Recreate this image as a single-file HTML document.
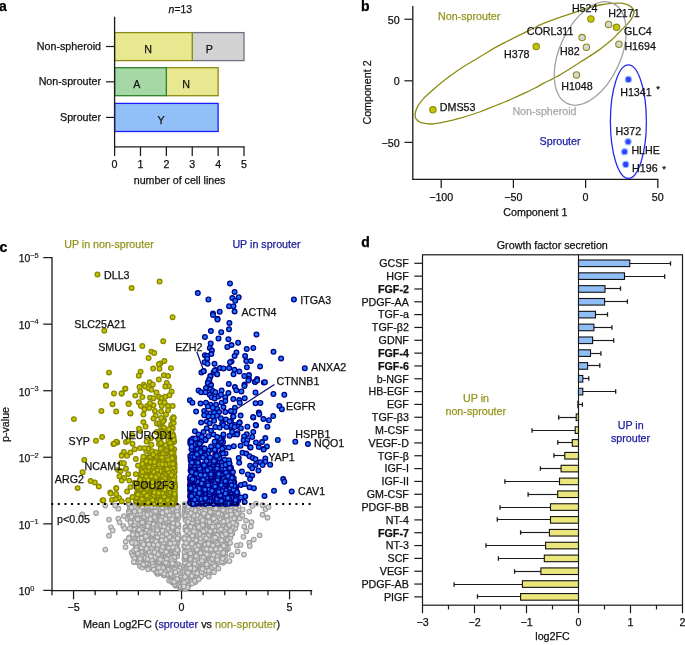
<!DOCTYPE html>
<html><head><meta charset="utf-8"><style>
html,body{margin:0;padding:0;background:#fff;overflow:hidden;}
svg{display:block;font-family:"Liberation Sans",sans-serif;will-change:transform;}
text{stroke-width:0.25px;}
</style></head><body>
<svg width="685" height="645" viewBox="0 0 685 645">
<rect width="685" height="645" fill="#fff"/>
<text x="-1.00" y="10.60" text-anchor="start" font-size="14" fill="#000" stroke="#000" font-weight="bold" >a</text>
<text x="361.00" y="10.60" text-anchor="start" font-size="14" fill="#000" stroke="#000" font-weight="bold" >b</text>
<text x="-0.60" y="252.30" text-anchor="start" font-size="14" fill="#000" stroke="#000" font-weight="bold" >c</text>
<text x="361.20" y="247.40" text-anchor="start" font-size="14" fill="#000" stroke="#000" font-weight="bold" >d</text>
<rect x="192.24" y="32.60" width="51.76" height="28.00" fill="#d3d3d3" stroke="#707084" stroke-width="1.3"/>
<rect x="114.60" y="32.60" width="77.64" height="28.00" fill="#e8e890" stroke="#8c8c14" stroke-width="1.3"/>
<rect x="166.36" y="67.70" width="51.76" height="28.00" fill="#e8e890" stroke="#8c8c14" stroke-width="1.3"/>
<rect x="114.60" y="67.70" width="51.76" height="28.00" fill="#a6d8a6" stroke="#2a802a" stroke-width="1.3"/>
<rect x="114.60" y="103.40" width="103.52" height="28.10" fill="#91bff8" stroke="#1c1cff" stroke-width="1.3"/>
<line x1="114.60" y1="16.70" x2="114.60" y2="147.40" stroke="#1a1a1a" stroke-width="1.3" />
<line x1="114.00" y1="146.80" x2="244.60" y2="146.80" stroke="#1a1a1a" stroke-width="1.3" />
<line x1="114.60" y1="146.80" x2="114.60" y2="156.00" stroke="#1a1a1a" stroke-width="1.25" />
<text x="114.60" y="167.70" text-anchor="middle" font-size="10.7" fill="#111" stroke="#111" font-weight="normal" >0</text>
<line x1="140.48" y1="146.80" x2="140.48" y2="156.00" stroke="#1a1a1a" stroke-width="1.25" />
<text x="140.48" y="167.70" text-anchor="middle" font-size="10.7" fill="#111" stroke="#111" font-weight="normal" >1</text>
<line x1="166.36" y1="146.80" x2="166.36" y2="156.00" stroke="#1a1a1a" stroke-width="1.25" />
<text x="166.36" y="167.70" text-anchor="middle" font-size="10.7" fill="#111" stroke="#111" font-weight="normal" >2</text>
<line x1="192.24" y1="146.80" x2="192.24" y2="156.00" stroke="#1a1a1a" stroke-width="1.25" />
<text x="192.24" y="167.70" text-anchor="middle" font-size="10.7" fill="#111" stroke="#111" font-weight="normal" >3</text>
<line x1="218.12" y1="146.80" x2="218.12" y2="156.00" stroke="#1a1a1a" stroke-width="1.25" />
<text x="218.12" y="167.70" text-anchor="middle" font-size="10.7" fill="#111" stroke="#111" font-weight="normal" >4</text>
<line x1="244.00" y1="146.80" x2="244.00" y2="156.00" stroke="#1a1a1a" stroke-width="1.25" />
<text x="244.00" y="167.70" text-anchor="middle" font-size="10.7" fill="#111" stroke="#111" font-weight="normal" >5</text>
<text x="179.60" y="184.00" text-anchor="middle" font-size="10.65" fill="#111" stroke="#111" font-weight="normal" >number of cell lines</text>
<text x="168.6" y="13.1" font-size="10.4" fill="#111" stroke="#111"><tspan font-style="italic">n</tspan>=13</text>
<line x1="106.00" y1="46.50" x2="114.60" y2="46.50" stroke="#1a1a1a" stroke-width="1.2" />
<text x="101.00" y="49.60" text-anchor="end" font-size="10.7" fill="#111" stroke="#111" font-weight="normal" >Non-spheroid</text>
<line x1="106.00" y1="81.80" x2="114.60" y2="81.80" stroke="#1a1a1a" stroke-width="1.2" />
<text x="101.00" y="84.90" text-anchor="end" font-size="10.7" fill="#111" stroke="#111" font-weight="normal" >Non-sprouter</text>
<line x1="106.00" y1="117.40" x2="114.60" y2="117.40" stroke="#1a1a1a" stroke-width="1.2" />
<text x="101.00" y="120.50" text-anchor="end" font-size="10.7" fill="#111" stroke="#111" font-weight="normal" >Sprouter</text>
<text x="148.00" y="53.30" text-anchor="middle" font-size="10.7" fill="#111" stroke="#111" font-weight="normal" >N</text>
<text x="209.20" y="52.90" text-anchor="middle" font-size="10.7" fill="#111" stroke="#111" font-weight="normal" >P</text>
<text x="136.90" y="87.60" text-anchor="middle" font-size="10.7" fill="#111" stroke="#111" font-weight="normal" >A</text>
<text x="186.00" y="88.00" text-anchor="middle" font-size="10.7" fill="#111" stroke="#111" font-weight="normal" >N</text>
<text x="161.10" y="124.30" text-anchor="middle" font-size="10.7" fill="#111" stroke="#111" font-weight="normal" >Y</text>
<line x1="412.80" y1="6.00" x2="412.80" y2="180.05" stroke="#1a1a1a" stroke-width="1.3" />
<line x1="412.20" y1="179.40" x2="658.40" y2="179.40" stroke="#1a1a1a" stroke-width="1.3" />
<line x1="404.40" y1="19.25" x2="412.80" y2="19.25" stroke="#1a1a1a" stroke-width="1.2" />
<text x="399.60" y="23.75" text-anchor="end" font-size="10.7" fill="#111" stroke="#111" font-weight="normal" >50</text>
<line x1="404.40" y1="80.80" x2="412.80" y2="80.80" stroke="#1a1a1a" stroke-width="1.2" />
<text x="399.60" y="85.30" text-anchor="end" font-size="10.7" fill="#111" stroke="#111" font-weight="normal" >0</text>
<line x1="404.40" y1="142.35" x2="412.80" y2="142.35" stroke="#1a1a1a" stroke-width="1.2" />
<text x="399.60" y="146.85" text-anchor="end" font-size="10.7" fill="#111" stroke="#111" font-weight="normal" >&#8722;50</text>
<line x1="441.20" y1="179.40" x2="441.20" y2="188.00" stroke="#1a1a1a" stroke-width="1.25" />
<text x="441.20" y="201.40" text-anchor="middle" font-size="10.7" fill="#111" stroke="#111" font-weight="normal" >&#8722;100</text>
<line x1="513.40" y1="179.40" x2="513.40" y2="188.00" stroke="#1a1a1a" stroke-width="1.25" />
<text x="513.40" y="201.40" text-anchor="middle" font-size="10.7" fill="#111" stroke="#111" font-weight="normal" >&#8722;50</text>
<line x1="585.60" y1="179.40" x2="585.60" y2="188.00" stroke="#1a1a1a" stroke-width="1.25" />
<text x="585.60" y="201.40" text-anchor="middle" font-size="10.7" fill="#111" stroke="#111" font-weight="normal" >0</text>
<line x1="657.80" y1="179.40" x2="657.80" y2="188.00" stroke="#1a1a1a" stroke-width="1.25" />
<text x="657.80" y="201.40" text-anchor="middle" font-size="10.7" fill="#111" stroke="#111" font-weight="normal" >50</text>
<text x="535.40" y="216.20" text-anchor="middle" font-size="10.7" fill="#111" stroke="#111" font-weight="normal" >Component 1</text>
<text x="371.40" y="92.50" text-anchor="middle" font-size="10.7" fill="#111" stroke="#111" font-weight="normal" transform="rotate(-90 371.4 92.5)">Component 2</text>
<path d="M416.5,119.5C415.5,118.3 415.2,117.1 415.1,115.7C415.0,114.3 415.3,112.7 415.8,111.0C416.3,109.3 416.8,107.7 418.1,105.6C419.4,103.5 421.0,101.3 423.5,98.6C426.0,95.9 430.4,92.1 433.3,89.5C436.2,86.9 437.8,85.4 440.9,82.9C444.0,80.5 448.1,77.4 451.7,74.8C455.3,72.2 459.0,69.5 462.6,67.2C466.2,64.9 469.8,62.9 473.4,60.7C477.0,58.5 480.7,56.4 484.3,54.2C487.9,52.0 491.6,49.6 495.1,47.6C498.6,45.6 501.8,44.0 505.2,42.3C508.6,40.6 512.0,38.9 515.4,37.2C518.8,35.5 522.3,33.8 525.7,32.1C529.1,30.4 532.5,28.6 535.9,27.0C539.3,25.4 542.7,23.8 546.1,22.4C549.5,21.0 552.5,19.9 556.3,18.6C560.1,17.3 565.3,15.6 568.8,14.4C572.3,13.2 574.6,12.4 577.5,11.4C580.4,10.4 583.4,9.2 586.3,8.3C589.2,7.4 592.1,6.8 595.0,6.1C597.9,5.4 600.9,4.9 603.8,4.4C606.7,4.0 609.8,3.6 612.5,3.4C615.2,3.2 618.0,3.1 620.0,3.2C622.0,3.3 623.2,3.4 624.8,3.9C626.4,4.3 628.4,5.1 629.8,5.9C631.1,6.7 632.2,7.8 632.9,8.7C633.6,9.6 633.7,10.3 633.8,11.2C633.9,12.1 633.9,13.1 633.5,14.3C633.1,15.5 632.5,17.1 631.6,18.6C630.7,20.2 629.2,22.1 627.9,23.6C626.6,25.2 625.2,26.2 623.6,27.9C622.0,29.5 620.0,31.5 618.0,33.5C616.0,35.5 615.1,36.9 611.8,39.7C608.5,42.5 603.1,47.0 598.4,50.4C593.7,53.8 588.7,56.8 583.8,59.9C578.9,63.0 573.2,66.7 569.2,69.2C565.2,71.7 562.8,73.3 560.0,74.9C557.2,76.5 555.2,77.4 552.5,78.8C549.8,80.2 546.7,81.7 543.8,83.2C540.9,84.7 537.9,86.5 535.0,88.0C532.1,89.5 529.2,91.0 526.3,92.4C523.4,93.8 520.4,95.0 517.5,96.3C514.6,97.6 511.5,99.1 508.8,100.3C506.1,101.5 504.2,102.1 501.3,103.3C498.4,104.5 494.5,106.0 491.1,107.4C487.7,108.8 484.3,110.2 480.9,111.5C477.5,112.8 474.1,113.9 470.7,115.0C467.3,116.1 463.8,117.1 460.4,118.1C457.0,119.0 453.6,119.9 450.2,120.7C446.8,121.5 443.1,122.4 440.0,122.9C436.9,123.5 434.4,124.0 431.3,124.0C428.2,124.0 423.7,123.3 421.2,122.6C418.7,121.8 417.5,120.7 416.5,119.5Z" fill="none" stroke="#8c8c14" stroke-width="1.3"/>
<ellipse cx="590.2" cy="53.5" rx="55" ry="30.6" fill="none" stroke="#a0a0a0" stroke-width="1.3" transform="rotate(-65.7 590.2 53.5)"/>
<ellipse cx="628.4" cy="121.6" rx="18" ry="56.8" fill="none" stroke="#2a2aee" stroke-width="1.3"/>
<circle cx="432.9" cy="109.8" r="3.2" fill="#c4c400" stroke="#8c8c14" stroke-width="1.1"/>
<circle cx="536.2" cy="46.6" r="3.2" fill="#c4c400" stroke="#8c8c14" stroke-width="1.1"/>
<circle cx="590.9" cy="18.9" r="3.2" fill="#c4c400" stroke="#8c8c14" stroke-width="1.1"/>
<circle cx="616.5" cy="27.3" r="3.2" fill="#c4c400" stroke="#8c8c14" stroke-width="1.1"/>
<circle cx="608.6" cy="24.4" r="3.2" fill="#d6d6da" stroke="#8c8c14" stroke-width="1.1"/>
<circle cx="582.1" cy="37.6" r="3.2" fill="#d6d6da" stroke="#8c8c14" stroke-width="1.1"/>
<circle cx="586.4" cy="47.2" r="3.2" fill="#d6d6da" stroke="#8c8c14" stroke-width="1.1"/>
<circle cx="618.9" cy="44.2" r="3.2" fill="#d6d6da" stroke="#8c8c14" stroke-width="1.1"/>
<circle cx="576.5" cy="74.9" r="3.2" fill="#d6d6da" stroke="#8c8c14" stroke-width="1.1"/>
<circle cx="628.4" cy="79.4" r="3.1" fill="#3c3cff" stroke="#86bfff" stroke-width="1.1"/>
<circle cx="628.1" cy="141.7" r="3.1" fill="#3c3cff" stroke="#86bfff" stroke-width="1.1"/>
<circle cx="624.6" cy="151.7" r="3.1" fill="#3c3cff" stroke="#86bfff" stroke-width="1.1"/>
<circle cx="625.7" cy="164.4" r="3.1" fill="#3c3cff" stroke="#86bfff" stroke-width="1.1"/>
<text x="439.80" y="111.00" text-anchor="start" font-size="10.7" fill="#111" stroke="#111" font-weight="normal" >DMS53</text>
<text x="504.00" y="58.40" text-anchor="start" font-size="10.7" fill="#111" stroke="#111" font-weight="normal" >H378</text>
<text x="571.90" y="11.80" text-anchor="start" font-size="10.7" fill="#111" stroke="#111" font-weight="normal" >H524</text>
<text x="608.20" y="17.30" text-anchor="start" font-size="10.7" fill="#111" stroke="#111" font-weight="normal" >H2171</text>
<text x="623.90" y="34.70" text-anchor="start" font-size="10.7" fill="#111" stroke="#111" font-weight="normal" >GLC4</text>
<text x="526.70" y="35.00" text-anchor="start" font-size="10.7" fill="#111" stroke="#111" font-weight="normal" >CORL311</text>
<text x="560.10" y="54.60" text-anchor="start" font-size="10.7" fill="#111" stroke="#111" font-weight="normal" >H82</text>
<text x="624.40" y="50.40" text-anchor="start" font-size="10.7" fill="#111" stroke="#111" font-weight="normal" >H1694</text>
<text x="561.20" y="90.00" text-anchor="start" font-size="10.7" fill="#111" stroke="#111" font-weight="normal" >H1048</text>
<text x="620.20" y="95.90" text-anchor="start" font-size="10.7" fill="#111" stroke="#111" font-weight="normal" >H1341</text>
<text x="615.60" y="135.00" text-anchor="start" font-size="10.7" fill="#111" stroke="#111" font-weight="normal" >H372</text>
<text x="631.40" y="154.00" text-anchor="start" font-size="10.7" fill="#111" stroke="#111" font-weight="normal" >HLHE</text>
<text x="632.10" y="172.40" text-anchor="start" font-size="10.7" fill="#111" stroke="#111" font-weight="normal" >H196</text>
<text x="656.20" y="92.00" text-anchor="start" font-size="9.5" fill="#111" stroke="#111" font-weight="normal" >*</text>
<text x="662.20" y="172.00" text-anchor="start" font-size="9.5" fill="#111" stroke="#111" font-weight="normal" >*</text>
<text x="438.00" y="20.00" text-anchor="start" font-size="10.7" fill="#95951e" stroke="#95951e" font-weight="normal" >Non-sprouter</text>
<text x="512.40" y="114.80" text-anchor="start" font-size="10.7" fill="#a8a8a8" stroke="#a8a8a8" font-weight="normal" >Non-spheroid</text>
<text x="539.60" y="145.30" text-anchor="start" font-size="10.7" fill="#2020a0" stroke="#2020a0" font-weight="normal" >Sprouter</text>
<line x1="52.00" y1="257.00" x2="52.00" y2="591.30" stroke="#1a1a1a" stroke-width="1.3" />
<line x1="51.40" y1="590.70" x2="312.20" y2="590.70" stroke="#1a1a1a" stroke-width="1.3" />
<line x1="43.20" y1="590.40" x2="52.00" y2="590.40" stroke="#1a1a1a" stroke-width="1.25" />
<text x="30.2" y="595.20" text-anchor="end" font-size="10.4" fill="#111" stroke="#111">10</text>
<text x="30.2" y="590.70" font-size="7.4" fill="#111" stroke="#111" style="stroke-width:0.15px">0</text>
<line x1="43.20" y1="523.84" x2="52.00" y2="523.84" stroke="#1a1a1a" stroke-width="1.25" />
<text x="30.2" y="528.64" text-anchor="end" font-size="10.4" fill="#111" stroke="#111">10</text>
<text x="30.2" y="524.14" font-size="7.4" fill="#111" stroke="#111" style="stroke-width:0.15px">&#8722;1</text>
<line x1="43.20" y1="457.28" x2="52.00" y2="457.28" stroke="#1a1a1a" stroke-width="1.25" />
<text x="30.2" y="462.08" text-anchor="end" font-size="10.4" fill="#111" stroke="#111">10</text>
<text x="30.2" y="457.58" font-size="7.4" fill="#111" stroke="#111" style="stroke-width:0.15px">&#8722;2</text>
<line x1="43.20" y1="390.72" x2="52.00" y2="390.72" stroke="#1a1a1a" stroke-width="1.25" />
<text x="30.2" y="395.52" text-anchor="end" font-size="10.4" fill="#111" stroke="#111">10</text>
<text x="30.2" y="391.02" font-size="7.4" fill="#111" stroke="#111" style="stroke-width:0.15px">&#8722;3</text>
<line x1="43.20" y1="324.16" x2="52.00" y2="324.16" stroke="#1a1a1a" stroke-width="1.25" />
<text x="30.2" y="328.96" text-anchor="end" font-size="10.4" fill="#111" stroke="#111">10</text>
<text x="30.2" y="324.46" font-size="7.4" fill="#111" stroke="#111" style="stroke-width:0.15px">&#8722;4</text>
<line x1="43.20" y1="257.60" x2="52.00" y2="257.60" stroke="#1a1a1a" stroke-width="1.25" />
<text x="30.2" y="262.40" text-anchor="end" font-size="10.4" fill="#111" stroke="#111">10</text>
<text x="30.2" y="257.90" font-size="7.4" fill="#111" stroke="#111" style="stroke-width:0.15px">&#8722;5</text>
<line x1="51.95" y1="590.70" x2="51.95" y2="595.30" stroke="#1a1a1a" stroke-width="1.25" />
<line x1="73.55" y1="590.70" x2="73.55" y2="599.30" stroke="#1a1a1a" stroke-width="1.25" />
<line x1="95.15" y1="590.70" x2="95.15" y2="595.30" stroke="#1a1a1a" stroke-width="1.25" />
<line x1="116.75" y1="590.70" x2="116.75" y2="595.30" stroke="#1a1a1a" stroke-width="1.25" />
<line x1="138.35" y1="590.70" x2="138.35" y2="595.30" stroke="#1a1a1a" stroke-width="1.25" />
<line x1="159.95" y1="590.70" x2="159.95" y2="595.30" stroke="#1a1a1a" stroke-width="1.25" />
<line x1="181.55" y1="590.70" x2="181.55" y2="599.30" stroke="#1a1a1a" stroke-width="1.25" />
<line x1="203.15" y1="590.70" x2="203.15" y2="595.30" stroke="#1a1a1a" stroke-width="1.25" />
<line x1="224.75" y1="590.70" x2="224.75" y2="595.30" stroke="#1a1a1a" stroke-width="1.25" />
<line x1="246.35" y1="590.70" x2="246.35" y2="595.30" stroke="#1a1a1a" stroke-width="1.25" />
<line x1="267.95" y1="590.70" x2="267.95" y2="595.30" stroke="#1a1a1a" stroke-width="1.25" />
<line x1="289.55" y1="590.70" x2="289.55" y2="599.30" stroke="#1a1a1a" stroke-width="1.25" />
<line x1="311.15" y1="590.70" x2="311.15" y2="595.30" stroke="#1a1a1a" stroke-width="1.25" />
<g fill="#d5d5d5" stroke="#9c9c9c" stroke-width="1.05"><circle cx="138.1" cy="548.9" r="2.35"/><circle cx="169.1" cy="580.6" r="2.35"/><circle cx="195.3" cy="553.1" r="2.35"/><circle cx="154.8" cy="507.7" r="2.35"/><circle cx="156.0" cy="530.2" r="2.35"/><circle cx="156.7" cy="506.2" r="2.35"/><circle cx="195.1" cy="513.2" r="2.35"/><circle cx="144.5" cy="509.8" r="2.35"/><circle cx="216.1" cy="564.6" r="2.35"/><circle cx="226.6" cy="531.3" r="2.35"/><circle cx="234.4" cy="524.8" r="2.35"/><circle cx="169.5" cy="516.9" r="2.35"/><circle cx="153.6" cy="515.0" r="2.35"/><circle cx="198.8" cy="555.8" r="2.35"/><circle cx="139.4" cy="516.8" r="2.35"/><circle cx="198.0" cy="536.4" r="2.35"/><circle cx="222.5" cy="522.3" r="2.35"/><circle cx="211.6" cy="506.9" r="2.35"/><circle cx="211.3" cy="543.2" r="2.35"/><circle cx="166.1" cy="531.6" r="2.35"/><circle cx="206.4" cy="532.5" r="2.35"/><circle cx="143.3" cy="542.4" r="2.35"/><circle cx="169.5" cy="523.4" r="2.35"/><circle cx="144.2" cy="544.7" r="2.35"/><circle cx="167.7" cy="556.8" r="2.35"/><circle cx="163.5" cy="556.4" r="2.35"/><circle cx="192.1" cy="510.7" r="2.35"/><circle cx="229.5" cy="508.4" r="2.35"/><circle cx="226.6" cy="520.0" r="2.35"/><circle cx="162.6" cy="548.7" r="2.35"/><circle cx="159.3" cy="540.9" r="2.35"/><circle cx="211.4" cy="556.7" r="2.35"/><circle cx="185.4" cy="575.8" r="2.35"/><circle cx="161.3" cy="532.8" r="2.35"/><circle cx="149.4" cy="509.8" r="2.35"/><circle cx="162.2" cy="566.2" r="2.35"/><circle cx="206.2" cy="554.5" r="2.35"/><circle cx="136.0" cy="503.9" r="2.35"/><circle cx="171.0" cy="532.5" r="2.35"/><circle cx="158.0" cy="529.5" r="2.35"/><circle cx="138.2" cy="545.7" r="2.35"/><circle cx="192.4" cy="514.9" r="2.35"/><circle cx="191.9" cy="531.0" r="2.35"/><circle cx="208.3" cy="514.6" r="2.35"/><circle cx="206.0" cy="541.7" r="2.35"/><circle cx="199.1" cy="532.5" r="2.35"/><circle cx="202.5" cy="516.2" r="2.35"/><circle cx="164.5" cy="556.6" r="2.35"/><circle cx="134.9" cy="507.1" r="2.35"/><circle cx="170.5" cy="513.0" r="2.35"/><circle cx="205.1" cy="557.3" r="2.35"/><circle cx="205.1" cy="548.2" r="2.35"/><circle cx="192.1" cy="552.7" r="2.35"/><circle cx="145.2" cy="513.7" r="2.35"/><circle cx="199.3" cy="575.9" r="2.35"/><circle cx="134.8" cy="514.0" r="2.35"/><circle cx="212.3" cy="554.5" r="2.35"/><circle cx="202.3" cy="551.4" r="2.35"/><circle cx="204.1" cy="559.8" r="2.35"/><circle cx="185.3" cy="530.1" r="2.35"/><circle cx="148.4" cy="504.9" r="2.35"/><circle cx="197.1" cy="573.2" r="2.35"/><circle cx="144.8" cy="519.4" r="2.35"/><circle cx="224.9" cy="550.3" r="2.35"/><circle cx="142.2" cy="541.9" r="2.35"/><circle cx="160.5" cy="533.0" r="2.35"/><circle cx="168.1" cy="545.4" r="2.35"/><circle cx="216.8" cy="518.6" r="2.35"/><circle cx="220.9" cy="533.5" r="2.35"/><circle cx="189.8" cy="526.9" r="2.35"/><circle cx="174.0" cy="550.5" r="2.35"/><circle cx="161.3" cy="509.2" r="2.35"/><circle cx="224.7" cy="536.0" r="2.35"/><circle cx="198.9" cy="555.7" r="2.35"/><circle cx="172.5" cy="518.1" r="2.35"/><circle cx="203.9" cy="571.2" r="2.35"/><circle cx="157.5" cy="569.2" r="2.35"/><circle cx="196.1" cy="527.2" r="2.35"/><circle cx="156.2" cy="529.7" r="2.35"/><circle cx="156.4" cy="527.1" r="2.35"/><circle cx="201.6" cy="553.6" r="2.35"/><circle cx="144.2" cy="539.6" r="2.35"/><circle cx="184.5" cy="512.1" r="2.35"/><circle cx="166.4" cy="522.7" r="2.35"/><circle cx="222.2" cy="515.4" r="2.35"/><circle cx="187.1" cy="544.5" r="2.35"/><circle cx="214.9" cy="538.9" r="2.35"/><circle cx="156.1" cy="526.1" r="2.35"/><circle cx="166.6" cy="567.4" r="2.35"/><circle cx="136.5" cy="518.2" r="2.35"/><circle cx="170.0" cy="528.6" r="2.35"/><circle cx="236.4" cy="506.1" r="2.35"/><circle cx="196.0" cy="560.4" r="2.35"/><circle cx="149.2" cy="519.9" r="2.35"/><circle cx="177.1" cy="547.8" r="2.35"/><circle cx="173.1" cy="561.1" r="2.35"/><circle cx="210.8" cy="526.3" r="2.35"/><circle cx="169.8" cy="546.6" r="2.35"/><circle cx="194.1" cy="539.0" r="2.35"/><circle cx="192.7" cy="531.6" r="2.35"/><circle cx="198.8" cy="520.2" r="2.35"/><circle cx="211.8" cy="547.0" r="2.35"/><circle cx="142.8" cy="560.3" r="2.35"/><circle cx="203.6" cy="566.1" r="2.35"/><circle cx="152.0" cy="547.2" r="2.35"/><circle cx="218.8" cy="515.5" r="2.35"/><circle cx="138.5" cy="545.0" r="2.35"/><circle cx="169.0" cy="509.0" r="2.35"/><circle cx="211.3" cy="555.8" r="2.35"/><circle cx="184.4" cy="514.9" r="2.35"/><circle cx="232.5" cy="522.7" r="2.35"/><circle cx="136.5" cy="545.7" r="2.35"/><circle cx="150.6" cy="544.5" r="2.35"/><circle cx="141.0" cy="558.8" r="2.35"/><circle cx="187.7" cy="525.7" r="2.35"/><circle cx="226.8" cy="516.6" r="2.35"/><circle cx="174.4" cy="546.6" r="2.35"/><circle cx="175.6" cy="573.5" r="2.35"/><circle cx="145.8" cy="563.8" r="2.35"/><circle cx="234.0" cy="520.8" r="2.35"/><circle cx="197.7" cy="529.3" r="2.35"/><circle cx="211.9" cy="507.5" r="2.35"/><circle cx="147.5" cy="533.9" r="2.35"/><circle cx="155.0" cy="566.2" r="2.35"/><circle cx="143.5" cy="553.4" r="2.35"/><circle cx="227.4" cy="533.9" r="2.35"/><circle cx="225.4" cy="516.7" r="2.35"/><circle cx="157.3" cy="532.7" r="2.35"/><circle cx="196.1" cy="565.9" r="2.35"/><circle cx="184.9" cy="508.5" r="2.35"/><circle cx="232.0" cy="504.0" r="2.35"/><circle cx="215.6" cy="551.5" r="2.35"/><circle cx="141.0" cy="508.6" r="2.35"/><circle cx="184.7" cy="546.4" r="2.35"/><circle cx="232.8" cy="518.5" r="2.35"/><circle cx="130.6" cy="510.4" r="2.35"/><circle cx="183.1" cy="587.5" r="2.35"/><circle cx="197.5" cy="535.3" r="2.35"/><circle cx="172.4" cy="572.1" r="2.35"/><circle cx="149.5" cy="538.5" r="2.35"/><circle cx="156.4" cy="537.4" r="2.35"/><circle cx="203.0" cy="567.4" r="2.35"/><circle cx="213.6" cy="508.9" r="2.35"/><circle cx="162.6" cy="526.3" r="2.35"/><circle cx="169.3" cy="524.0" r="2.35"/><circle cx="219.5" cy="514.5" r="2.35"/><circle cx="223.1" cy="532.6" r="2.35"/><circle cx="148.7" cy="514.6" r="2.35"/><circle cx="223.2" cy="526.3" r="2.35"/><circle cx="130.8" cy="514.1" r="2.35"/><circle cx="150.7" cy="550.9" r="2.35"/><circle cx="200.2" cy="573.9" r="2.35"/><circle cx="170.2" cy="507.0" r="2.35"/><circle cx="204.0" cy="540.4" r="2.35"/><circle cx="175.5" cy="539.7" r="2.35"/><circle cx="202.1" cy="527.6" r="2.35"/><circle cx="138.0" cy="557.4" r="2.35"/><circle cx="162.4" cy="533.4" r="2.35"/><circle cx="217.4" cy="541.7" r="2.35"/><circle cx="226.2" cy="546.2" r="2.35"/><circle cx="184.1" cy="545.9" r="2.35"/><circle cx="173.6" cy="560.5" r="2.35"/><circle cx="193.3" cy="541.4" r="2.35"/><circle cx="207.4" cy="541.1" r="2.35"/><circle cx="180.3" cy="577.4" r="2.35"/><circle cx="149.8" cy="549.4" r="2.35"/><circle cx="157.9" cy="553.9" r="2.35"/><circle cx="192.1" cy="506.5" r="2.35"/><circle cx="165.3" cy="511.8" r="2.35"/><circle cx="166.2" cy="564.4" r="2.35"/><circle cx="206.8" cy="557.5" r="2.35"/><circle cx="190.9" cy="524.9" r="2.35"/><circle cx="171.7" cy="524.3" r="2.35"/><circle cx="157.0" cy="561.1" r="2.35"/><circle cx="169.3" cy="504.1" r="2.35"/><circle cx="159.3" cy="571.6" r="2.35"/><circle cx="231.3" cy="515.2" r="2.35"/><circle cx="224.3" cy="541.4" r="2.35"/><circle cx="232.4" cy="509.8" r="2.35"/><circle cx="214.8" cy="536.0" r="2.35"/><circle cx="166.7" cy="537.6" r="2.35"/><circle cx="211.6" cy="531.2" r="2.35"/><circle cx="205.2" cy="525.1" r="2.35"/><circle cx="200.2" cy="507.2" r="2.35"/><circle cx="204.5" cy="549.2" r="2.35"/><circle cx="168.4" cy="510.5" r="2.35"/><circle cx="212.4" cy="532.1" r="2.35"/><circle cx="174.7" cy="539.6" r="2.35"/><circle cx="190.7" cy="513.9" r="2.35"/><circle cx="234.9" cy="514.7" r="2.35"/><circle cx="192.9" cy="524.1" r="2.35"/><circle cx="215.1" cy="561.2" r="2.35"/><circle cx="188.1" cy="537.9" r="2.35"/><circle cx="200.8" cy="530.8" r="2.35"/><circle cx="170.0" cy="526.6" r="2.35"/><circle cx="142.8" cy="550.8" r="2.35"/><circle cx="216.0" cy="564.9" r="2.35"/><circle cx="172.1" cy="554.4" r="2.35"/><circle cx="226.1" cy="530.5" r="2.35"/><circle cx="174.0" cy="582.1" r="2.35"/><circle cx="223.0" cy="523.2" r="2.35"/><circle cx="192.2" cy="517.1" r="2.35"/><circle cx="224.7" cy="546.6" r="2.35"/><circle cx="140.9" cy="536.8" r="2.35"/><circle cx="199.8" cy="577.5" r="2.35"/><circle cx="187.8" cy="522.1" r="2.35"/><circle cx="193.0" cy="568.2" r="2.35"/><circle cx="154.8" cy="504.1" r="2.35"/><circle cx="196.3" cy="531.2" r="2.35"/><circle cx="138.5" cy="515.6" r="2.35"/><circle cx="164.7" cy="552.0" r="2.35"/><circle cx="220.3" cy="509.0" r="2.35"/><circle cx="175.5" cy="585.4" r="2.35"/><circle cx="198.7" cy="527.7" r="2.35"/><circle cx="150.3" cy="530.8" r="2.35"/><circle cx="188.6" cy="547.1" r="2.35"/><circle cx="160.4" cy="535.6" r="2.35"/><circle cx="161.2" cy="543.3" r="2.35"/><circle cx="203.7" cy="550.9" r="2.35"/><circle cx="135.2" cy="525.1" r="2.35"/><circle cx="154.1" cy="517.9" r="2.35"/><circle cx="234.2" cy="505.4" r="2.35"/><circle cx="202.8" cy="519.8" r="2.35"/><circle cx="208.2" cy="539.5" r="2.35"/><circle cx="215.4" cy="553.2" r="2.35"/><circle cx="177.7" cy="540.7" r="2.35"/><circle cx="157.7" cy="573.9" r="2.35"/><circle cx="196.5" cy="575.0" r="2.35"/><circle cx="218.5" cy="508.9" r="2.35"/><circle cx="133.2" cy="522.1" r="2.35"/><circle cx="189.3" cy="515.1" r="2.35"/><circle cx="142.9" cy="524.4" r="2.35"/><circle cx="186.9" cy="587.5" r="2.35"/><circle cx="191.3" cy="509.8" r="2.35"/><circle cx="161.7" cy="523.5" r="2.35"/><circle cx="142.9" cy="508.7" r="2.35"/><circle cx="186.5" cy="572.8" r="2.35"/><circle cx="203.0" cy="522.4" r="2.35"/><circle cx="225.4" cy="531.1" r="2.35"/><circle cx="177.3" cy="553.5" r="2.35"/><circle cx="188.9" cy="531.5" r="2.35"/><circle cx="156.7" cy="523.7" r="2.35"/><circle cx="162.2" cy="522.8" r="2.35"/><circle cx="191.6" cy="508.3" r="2.35"/><circle cx="226.2" cy="528.0" r="2.35"/><circle cx="217.4" cy="511.3" r="2.35"/><circle cx="143.5" cy="563.9" r="2.35"/><circle cx="199.1" cy="513.0" r="2.35"/><circle cx="203.6" cy="540.5" r="2.35"/><circle cx="184.0" cy="583.4" r="2.35"/><circle cx="215.0" cy="554.6" r="2.35"/><circle cx="219.3" cy="561.8" r="2.35"/><circle cx="156.0" cy="534.0" r="2.35"/><circle cx="197.4" cy="540.7" r="2.35"/><circle cx="206.3" cy="505.2" r="2.35"/><circle cx="233.6" cy="510.8" r="2.35"/><circle cx="217.1" cy="505.3" r="2.35"/><circle cx="176.8" cy="540.7" r="2.35"/><circle cx="139.7" cy="550.8" r="2.35"/><circle cx="179.2" cy="580.5" r="2.35"/><circle cx="229.3" cy="518.7" r="2.35"/><circle cx="173.4" cy="520.1" r="2.35"/><circle cx="173.5" cy="533.4" r="2.35"/><circle cx="178.1" cy="550.1" r="2.35"/><circle cx="160.7" cy="567.8" r="2.35"/><circle cx="186.6" cy="510.2" r="2.35"/><circle cx="238.9" cy="513.2" r="2.35"/><circle cx="214.3" cy="543.4" r="2.35"/><circle cx="188.6" cy="585.6" r="2.35"/><circle cx="212.6" cy="553.2" r="2.35"/><circle cx="140.5" cy="522.0" r="2.35"/><circle cx="143.3" cy="560.1" r="2.35"/><circle cx="188.0" cy="565.3" r="2.35"/><circle cx="150.5" cy="513.0" r="2.35"/><circle cx="196.6" cy="560.5" r="2.35"/><circle cx="189.8" cy="552.7" r="2.35"/><circle cx="168.3" cy="565.3" r="2.35"/><circle cx="185.5" cy="588.8" r="2.35"/><circle cx="177.8" cy="540.1" r="2.35"/><circle cx="220.8" cy="508.4" r="2.35"/><circle cx="149.8" cy="551.7" r="2.35"/><circle cx="174.9" cy="576.3" r="2.35"/><circle cx="132.6" cy="515.3" r="2.35"/><circle cx="141.6" cy="566.0" r="2.35"/><circle cx="226.2" cy="516.9" r="2.35"/><circle cx="177.3" cy="569.2" r="2.35"/><circle cx="216.3" cy="522.1" r="2.35"/><circle cx="210.3" cy="522.6" r="2.35"/><circle cx="194.6" cy="559.2" r="2.35"/><circle cx="225.3" cy="536.9" r="2.35"/><circle cx="224.8" cy="550.7" r="2.35"/><circle cx="162.5" cy="557.2" r="2.35"/><circle cx="226.6" cy="547.1" r="2.35"/><circle cx="139.9" cy="566.0" r="2.35"/><circle cx="138.8" cy="555.3" r="2.35"/><circle cx="173.2" cy="511.1" r="2.35"/><circle cx="209.6" cy="560.6" r="2.35"/><circle cx="196.2" cy="519.5" r="2.35"/><circle cx="192.2" cy="562.4" r="2.35"/><circle cx="190.8" cy="580.3" r="2.35"/><circle cx="165.6" cy="524.6" r="2.35"/><circle cx="177.9" cy="508.5" r="2.35"/><circle cx="176.8" cy="517.4" r="2.35"/><circle cx="160.0" cy="507.5" r="2.35"/><circle cx="140.3" cy="531.0" r="2.35"/><circle cx="157.0" cy="563.7" r="2.35"/><circle cx="184.3" cy="571.6" r="2.35"/><circle cx="147.5" cy="513.8" r="2.35"/><circle cx="156.3" cy="529.0" r="2.35"/><circle cx="165.2" cy="505.6" r="2.35"/><circle cx="193.1" cy="508.3" r="2.35"/><circle cx="189.4" cy="565.5" r="2.35"/><circle cx="234.5" cy="513.3" r="2.35"/><circle cx="193.4" cy="551.0" r="2.35"/><circle cx="166.9" cy="542.2" r="2.35"/><circle cx="146.6" cy="553.3" r="2.35"/><circle cx="208.6" cy="571.3" r="2.35"/><circle cx="133.6" cy="515.1" r="2.35"/><circle cx="146.1" cy="541.9" r="2.35"/><circle cx="197.6" cy="515.8" r="2.35"/><circle cx="198.5" cy="567.4" r="2.35"/><circle cx="173.4" cy="564.2" r="2.35"/><circle cx="157.1" cy="517.8" r="2.35"/><circle cx="146.6" cy="522.3" r="2.35"/><circle cx="142.1" cy="550.4" r="2.35"/><circle cx="142.1" cy="535.7" r="2.35"/><circle cx="175.3" cy="568.7" r="2.35"/><circle cx="210.5" cy="527.6" r="2.35"/><circle cx="191.1" cy="505.3" r="2.35"/><circle cx="219.5" cy="524.2" r="2.35"/><circle cx="145.9" cy="540.8" r="2.35"/><circle cx="165.3" cy="573.4" r="2.35"/><circle cx="205.8" cy="521.6" r="2.35"/><circle cx="197.2" cy="523.2" r="2.35"/><circle cx="226.7" cy="505.7" r="2.35"/><circle cx="151.9" cy="543.8" r="2.35"/><circle cx="169.6" cy="559.7" r="2.35"/><circle cx="199.7" cy="524.0" r="2.35"/><circle cx="167.9" cy="504.0" r="2.35"/><circle cx="189.0" cy="515.8" r="2.35"/><circle cx="214.9" cy="509.4" r="2.35"/><circle cx="168.9" cy="508.7" r="2.35"/><circle cx="214.2" cy="505.5" r="2.35"/><circle cx="192.6" cy="547.2" r="2.35"/><circle cx="200.5" cy="549.7" r="2.35"/><circle cx="214.6" cy="538.0" r="2.35"/><circle cx="228.1" cy="518.3" r="2.35"/><circle cx="172.1" cy="533.5" r="2.35"/><circle cx="215.5" cy="519.2" r="2.35"/><circle cx="152.5" cy="526.9" r="2.35"/><circle cx="132.7" cy="530.4" r="2.35"/><circle cx="210.8" cy="524.7" r="2.35"/><circle cx="201.9" cy="556.5" r="2.35"/><circle cx="222.6" cy="519.1" r="2.35"/><circle cx="145.6" cy="544.3" r="2.35"/><circle cx="222.6" cy="559.1" r="2.35"/><circle cx="215.5" cy="514.5" r="2.35"/><circle cx="152.4" cy="535.2" r="2.35"/><circle cx="158.5" cy="545.8" r="2.35"/><circle cx="207.3" cy="522.3" r="2.35"/><circle cx="139.7" cy="528.3" r="2.35"/><circle cx="188.4" cy="567.2" r="2.35"/><circle cx="222.5" cy="551.5" r="2.35"/><circle cx="210.2" cy="505.2" r="2.35"/><circle cx="167.0" cy="562.9" r="2.35"/><circle cx="207.1" cy="562.9" r="2.35"/><circle cx="171.2" cy="579.8" r="2.35"/><circle cx="174.1" cy="577.9" r="2.35"/><circle cx="133.0" cy="542.9" r="2.35"/><circle cx="227.7" cy="518.1" r="2.35"/><circle cx="191.6" cy="550.0" r="2.35"/><circle cx="219.0" cy="542.2" r="2.35"/><circle cx="152.7" cy="522.1" r="2.35"/><circle cx="206.6" cy="510.7" r="2.35"/><circle cx="210.7" cy="532.1" r="2.35"/><circle cx="211.9" cy="537.2" r="2.35"/><circle cx="176.8" cy="564.9" r="2.35"/><circle cx="140.4" cy="547.0" r="2.35"/><circle cx="138.2" cy="550.3" r="2.35"/><circle cx="200.8" cy="510.6" r="2.35"/><circle cx="141.8" cy="519.2" r="2.35"/><circle cx="184.3" cy="565.3" r="2.35"/><circle cx="222.9" cy="512.3" r="2.35"/><circle cx="192.6" cy="535.5" r="2.35"/><circle cx="174.4" cy="530.8" r="2.35"/><circle cx="178.2" cy="569.8" r="2.35"/><circle cx="217.8" cy="540.7" r="2.35"/><circle cx="173.6" cy="557.8" r="2.35"/><circle cx="232.3" cy="510.7" r="2.35"/><circle cx="135.4" cy="562.2" r="2.35"/><circle cx="150.9" cy="567.5" r="2.35"/><circle cx="165.9" cy="571.7" r="2.35"/><circle cx="146.3" cy="557.2" r="2.35"/><circle cx="152.0" cy="568.4" r="2.35"/><circle cx="155.8" cy="522.1" r="2.35"/><circle cx="229.8" cy="528.3" r="2.35"/><circle cx="170.5" cy="568.0" r="2.35"/><circle cx="206.6" cy="515.8" r="2.35"/><circle cx="156.6" cy="511.7" r="2.35"/><circle cx="159.8" cy="552.1" r="2.35"/><circle cx="158.6" cy="541.0" r="2.35"/><circle cx="205.9" cy="531.8" r="2.35"/><circle cx="169.5" cy="554.0" r="2.35"/><circle cx="177.3" cy="566.4" r="2.35"/><circle cx="214.0" cy="528.2" r="2.35"/><circle cx="164.7" cy="575.4" r="2.35"/><circle cx="227.4" cy="529.2" r="2.35"/><circle cx="217.7" cy="520.0" r="2.35"/><circle cx="177.4" cy="543.3" r="2.35"/><circle cx="165.5" cy="526.1" r="2.35"/><circle cx="203.8" cy="523.1" r="2.35"/><circle cx="164.0" cy="545.3" r="2.35"/><circle cx="136.3" cy="528.7" r="2.35"/><circle cx="165.9" cy="551.1" r="2.35"/><circle cx="173.2" cy="575.9" r="2.35"/><circle cx="199.5" cy="553.9" r="2.35"/><circle cx="189.4" cy="507.6" r="2.35"/><circle cx="194.4" cy="549.4" r="2.35"/><circle cx="212.1" cy="558.2" r="2.35"/><circle cx="166.7" cy="570.1" r="2.35"/><circle cx="204.7" cy="534.8" r="2.35"/><circle cx="170.2" cy="519.6" r="2.35"/><circle cx="195.8" cy="531.6" r="2.35"/><circle cx="207.2" cy="528.8" r="2.35"/><circle cx="211.8" cy="513.5" r="2.35"/><circle cx="151.3" cy="536.6" r="2.35"/><circle cx="140.0" cy="533.5" r="2.35"/><circle cx="135.8" cy="547.7" r="2.35"/><circle cx="199.9" cy="574.0" r="2.35"/><circle cx="239.9" cy="517.2" r="2.35"/><circle cx="142.5" cy="563.5" r="2.35"/><circle cx="189.0" cy="578.9" r="2.35"/><circle cx="224.4" cy="507.3" r="2.35"/><circle cx="161.0" cy="559.1" r="2.35"/><circle cx="164.6" cy="531.9" r="2.35"/><circle cx="190.9" cy="578.8" r="2.35"/><circle cx="225.2" cy="534.7" r="2.35"/><circle cx="209.6" cy="509.8" r="2.35"/><circle cx="153.4" cy="533.9" r="2.35"/><circle cx="167.7" cy="531.8" r="2.35"/><circle cx="199.1" cy="527.8" r="2.35"/><circle cx="156.5" cy="507.8" r="2.35"/><circle cx="152.3" cy="508.6" r="2.35"/><circle cx="232.4" cy="524.6" r="2.35"/><circle cx="177.9" cy="533.6" r="2.35"/><circle cx="149.9" cy="531.5" r="2.35"/><circle cx="200.6" cy="519.9" r="2.35"/><circle cx="195.4" cy="523.4" r="2.35"/><circle cx="194.4" cy="514.0" r="2.35"/><circle cx="188.5" cy="566.4" r="2.35"/><circle cx="206.5" cy="506.9" r="2.35"/><circle cx="174.7" cy="563.6" r="2.35"/><circle cx="148.4" cy="532.7" r="2.35"/><circle cx="135.9" cy="534.5" r="2.35"/><circle cx="190.7" cy="537.5" r="2.35"/><circle cx="215.0" cy="539.1" r="2.35"/><circle cx="146.6" cy="520.9" r="2.35"/><circle cx="169.4" cy="566.1" r="2.35"/><circle cx="178.5" cy="527.3" r="2.35"/><circle cx="207.9" cy="537.6" r="2.35"/><circle cx="207.2" cy="566.8" r="2.35"/><circle cx="198.0" cy="562.5" r="2.35"/><circle cx="217.5" cy="528.9" r="2.35"/><circle cx="160.2" cy="538.5" r="2.35"/><circle cx="213.5" cy="533.2" r="2.35"/><circle cx="153.7" cy="539.6" r="2.35"/><circle cx="173.2" cy="534.8" r="2.35"/><circle cx="159.1" cy="531.6" r="2.35"/><circle cx="187.6" cy="563.2" r="2.35"/><circle cx="165.8" cy="526.5" r="2.35"/><circle cx="176.0" cy="529.5" r="2.35"/><circle cx="190.9" cy="582.3" r="2.35"/><circle cx="178.3" cy="515.4" r="2.35"/><circle cx="161.7" cy="510.6" r="2.35"/><circle cx="128.9" cy="504.3" r="2.35"/><circle cx="164.8" cy="505.6" r="2.35"/><circle cx="218.9" cy="516.8" r="2.35"/><circle cx="223.4" cy="516.8" r="2.35"/><circle cx="168.2" cy="559.9" r="2.35"/><circle cx="145.3" cy="528.8" r="2.35"/><circle cx="230.6" cy="508.4" r="2.35"/><circle cx="167.4" cy="555.4" r="2.35"/><circle cx="136.1" cy="531.6" r="2.35"/><circle cx="217.7" cy="532.0" r="2.35"/><circle cx="168.8" cy="508.2" r="2.35"/><circle cx="228.8" cy="527.0" r="2.35"/><circle cx="186.9" cy="539.7" r="2.35"/><circle cx="209.4" cy="507.1" r="2.35"/><circle cx="147.4" cy="516.3" r="2.35"/><circle cx="145.0" cy="543.5" r="2.35"/><circle cx="203.9" cy="556.6" r="2.35"/><circle cx="152.7" cy="521.7" r="2.35"/><circle cx="212.3" cy="539.4" r="2.35"/><circle cx="176.1" cy="585.5" r="2.35"/><circle cx="170.2" cy="532.2" r="2.35"/><circle cx="217.6" cy="517.0" r="2.35"/><circle cx="189.9" cy="567.2" r="2.35"/><circle cx="169.2" cy="528.5" r="2.35"/><circle cx="144.7" cy="538.1" r="2.35"/><circle cx="152.1" cy="551.0" r="2.35"/><circle cx="187.9" cy="538.3" r="2.35"/><circle cx="166.8" cy="571.2" r="2.35"/><circle cx="133.1" cy="517.8" r="2.35"/><circle cx="211.4" cy="541.0" r="2.35"/><circle cx="203.6" cy="557.9" r="2.35"/><circle cx="173.6" cy="542.5" r="2.35"/><circle cx="217.4" cy="517.7" r="2.35"/><circle cx="220.4" cy="527.4" r="2.35"/><circle cx="186.7" cy="567.1" r="2.35"/><circle cx="234.1" cy="522.2" r="2.35"/><circle cx="176.2" cy="507.5" r="2.35"/><circle cx="153.0" cy="556.9" r="2.35"/><circle cx="179.4" cy="580.2" r="2.35"/><circle cx="235.4" cy="507.7" r="2.35"/><circle cx="140.6" cy="504.6" r="2.35"/><circle cx="146.2" cy="527.8" r="2.35"/><circle cx="156.7" cy="552.5" r="2.35"/><circle cx="162.8" cy="531.7" r="2.35"/><circle cx="169.3" cy="553.7" r="2.35"/><circle cx="161.9" cy="573.4" r="2.35"/><circle cx="226.6" cy="533.7" r="2.35"/><circle cx="188.0" cy="527.6" r="2.35"/><circle cx="170.8" cy="558.0" r="2.35"/><circle cx="211.1" cy="536.1" r="2.35"/><circle cx="231.1" cy="528.3" r="2.35"/><circle cx="215.5" cy="519.5" r="2.35"/><circle cx="165.2" cy="558.6" r="2.35"/><circle cx="144.7" cy="559.9" r="2.35"/><circle cx="199.0" cy="505.1" r="2.35"/><circle cx="219.0" cy="512.0" r="2.35"/><circle cx="221.2" cy="531.6" r="2.35"/><circle cx="186.8" cy="571.4" r="2.35"/><circle cx="159.3" cy="525.9" r="2.35"/><circle cx="146.3" cy="554.2" r="2.35"/><circle cx="213.5" cy="510.5" r="2.35"/><circle cx="214.3" cy="538.7" r="2.35"/><circle cx="197.2" cy="565.4" r="2.35"/><circle cx="210.0" cy="541.6" r="2.35"/><circle cx="235.9" cy="514.4" r="2.35"/><circle cx="185.0" cy="509.1" r="2.35"/><circle cx="220.7" cy="557.1" r="2.35"/><circle cx="142.1" cy="511.9" r="2.35"/><circle cx="236.5" cy="506.1" r="2.35"/><circle cx="209.2" cy="518.7" r="2.35"/><circle cx="224.7" cy="543.7" r="2.35"/><circle cx="227.2" cy="540.2" r="2.35"/><circle cx="214.0" cy="537.8" r="2.35"/><circle cx="152.2" cy="554.0" r="2.35"/><circle cx="168.6" cy="512.8" r="2.35"/><circle cx="225.2" cy="515.8" r="2.35"/><circle cx="172.4" cy="582.6" r="2.35"/><circle cx="151.2" cy="508.3" r="2.35"/><circle cx="189.9" cy="525.7" r="2.35"/><circle cx="221.3" cy="529.9" r="2.35"/><circle cx="147.9" cy="548.6" r="2.35"/><circle cx="143.7" cy="530.1" r="2.35"/><circle cx="129.1" cy="511.3" r="2.35"/><circle cx="172.5" cy="546.8" r="2.35"/><circle cx="208.2" cy="552.0" r="2.35"/><circle cx="196.9" cy="513.8" r="2.35"/><circle cx="216.6" cy="551.7" r="2.35"/><circle cx="160.0" cy="556.4" r="2.35"/><circle cx="182.6" cy="581.0" r="2.35"/><circle cx="129.0" cy="517.0" r="2.35"/><circle cx="215.9" cy="538.1" r="2.35"/><circle cx="222.3" cy="520.1" r="2.35"/><circle cx="220.9" cy="537.6" r="2.35"/><circle cx="212.8" cy="509.5" r="2.35"/><circle cx="216.5" cy="518.1" r="2.35"/><circle cx="208.7" cy="521.7" r="2.35"/><circle cx="187.9" cy="578.4" r="2.35"/><circle cx="141.9" cy="507.2" r="2.35"/><circle cx="196.7" cy="563.1" r="2.35"/><circle cx="196.7" cy="572.5" r="2.35"/><circle cx="188.6" cy="566.9" r="2.35"/><circle cx="215.5" cy="519.0" r="2.35"/><circle cx="187.3" cy="518.2" r="2.35"/><circle cx="212.7" cy="520.9" r="2.35"/><circle cx="162.9" cy="568.3" r="2.35"/><circle cx="153.9" cy="540.8" r="2.35"/><circle cx="187.4" cy="568.7" r="2.35"/><circle cx="187.3" cy="559.5" r="2.35"/><circle cx="196.6" cy="549.5" r="2.35"/><circle cx="221.6" cy="543.1" r="2.35"/><circle cx="195.1" cy="568.0" r="2.35"/><circle cx="186.0" cy="557.1" r="2.35"/><circle cx="166.7" cy="564.7" r="2.35"/><circle cx="129.5" cy="537.3" r="2.35"/><circle cx="169.8" cy="515.7" r="2.35"/><circle cx="156.5" cy="542.9" r="2.35"/><circle cx="190.0" cy="517.0" r="2.35"/><circle cx="139.5" cy="554.2" r="2.35"/><circle cx="169.3" cy="526.8" r="2.35"/><circle cx="171.6" cy="512.6" r="2.35"/><circle cx="174.8" cy="578.1" r="2.35"/><circle cx="177.2" cy="556.3" r="2.35"/><circle cx="195.1" cy="520.0" r="2.35"/><circle cx="184.8" cy="570.3" r="2.35"/><circle cx="139.8" cy="535.1" r="2.35"/><circle cx="179.8" cy="582.4" r="2.35"/><circle cx="186.9" cy="562.1" r="2.35"/><circle cx="168.3" cy="505.8" r="2.35"/><circle cx="189.8" cy="505.6" r="2.35"/><circle cx="217.6" cy="543.4" r="2.35"/><circle cx="204.7" cy="574.0" r="2.35"/><circle cx="226.0" cy="546.5" r="2.35"/><circle cx="146.5" cy="527.5" r="2.35"/><circle cx="177.7" cy="571.4" r="2.35"/><circle cx="220.3" cy="539.7" r="2.35"/><circle cx="149.0" cy="519.9" r="2.35"/><circle cx="170.2" cy="538.1" r="2.35"/><circle cx="136.9" cy="535.1" r="2.35"/><circle cx="144.5" cy="542.9" r="2.35"/><circle cx="189.2" cy="557.9" r="2.35"/><circle cx="214.1" cy="536.8" r="2.35"/><circle cx="143.0" cy="561.9" r="2.35"/><circle cx="221.0" cy="508.7" r="2.35"/><circle cx="171.8" cy="519.9" r="2.35"/><circle cx="192.3" cy="582.5" r="2.35"/><circle cx="207.4" cy="506.9" r="2.35"/><circle cx="216.0" cy="524.4" r="2.35"/><circle cx="185.8" cy="526.5" r="2.35"/><circle cx="150.4" cy="521.1" r="2.35"/><circle cx="131.6" cy="552.7" r="2.35"/><circle cx="176.4" cy="539.9" r="2.35"/><circle cx="171.7" cy="549.7" r="2.35"/><circle cx="214.3" cy="564.0" r="2.35"/><circle cx="194.8" cy="575.2" r="2.35"/><circle cx="226.3" cy="539.3" r="2.35"/><circle cx="176.9" cy="538.2" r="2.35"/><circle cx="201.1" cy="555.0" r="2.35"/><circle cx="221.8" cy="526.2" r="2.35"/><circle cx="220.0" cy="523.9" r="2.35"/><circle cx="153.8" cy="553.0" r="2.35"/><circle cx="226.7" cy="520.5" r="2.35"/><circle cx="129.8" cy="508.3" r="2.35"/><circle cx="226.7" cy="529.5" r="2.35"/><circle cx="169.7" cy="534.1" r="2.35"/><circle cx="159.5" cy="537.3" r="2.35"/><circle cx="216.0" cy="510.5" r="2.35"/><circle cx="156.8" cy="529.0" r="2.35"/><circle cx="167.7" cy="560.1" r="2.35"/><circle cx="202.4" cy="559.4" r="2.35"/><circle cx="213.4" cy="504.5" r="2.35"/><circle cx="188.2" cy="554.9" r="2.35"/><circle cx="166.9" cy="529.7" r="2.35"/><circle cx="196.9" cy="532.6" r="2.35"/><circle cx="194.0" cy="522.7" r="2.35"/><circle cx="178.9" cy="568.2" r="2.35"/><circle cx="220.8" cy="536.8" r="2.35"/><circle cx="224.0" cy="534.7" r="2.35"/><circle cx="163.3" cy="549.9" r="2.35"/><circle cx="231.1" cy="511.4" r="2.35"/><circle cx="142.3" cy="567.6" r="2.35"/><circle cx="221.2" cy="517.7" r="2.35"/><circle cx="196.6" cy="535.7" r="2.35"/><circle cx="156.0" cy="527.9" r="2.35"/><circle cx="153.7" cy="524.1" r="2.35"/><circle cx="165.2" cy="553.3" r="2.35"/><circle cx="171.5" cy="516.8" r="2.35"/><circle cx="222.9" cy="506.0" r="2.35"/><circle cx="227.5" cy="530.9" r="2.35"/><circle cx="228.0" cy="548.9" r="2.35"/><circle cx="142.6" cy="530.0" r="2.35"/><circle cx="229.7" cy="537.3" r="2.35"/><circle cx="169.8" cy="516.3" r="2.35"/><circle cx="198.5" cy="528.3" r="2.35"/><circle cx="211.8" cy="535.1" r="2.35"/><circle cx="134.2" cy="506.6" r="2.35"/><circle cx="167.2" cy="507.5" r="2.35"/><circle cx="204.0" cy="546.2" r="2.35"/><circle cx="207.9" cy="514.0" r="2.35"/><circle cx="203.6" cy="532.3" r="2.35"/><circle cx="190.5" cy="552.6" r="2.35"/><circle cx="226.3" cy="550.0" r="2.35"/><circle cx="195.9" cy="537.5" r="2.35"/><circle cx="145.3" cy="531.6" r="2.35"/><circle cx="177.4" cy="516.6" r="2.35"/><circle cx="226.9" cy="539.6" r="2.35"/><circle cx="137.3" cy="536.3" r="2.35"/><circle cx="136.9" cy="508.8" r="2.35"/><circle cx="176.8" cy="535.8" r="2.35"/><circle cx="127.6" cy="518.8" r="2.35"/><circle cx="158.3" cy="528.0" r="2.35"/><circle cx="214.1" cy="552.2" r="2.35"/><circle cx="196.3" cy="527.4" r="2.35"/><circle cx="131.5" cy="512.9" r="2.35"/><circle cx="215.5" cy="511.3" r="2.35"/><circle cx="135.9" cy="556.9" r="2.35"/><circle cx="188.5" cy="572.9" r="2.35"/><circle cx="198.5" cy="539.2" r="2.35"/><circle cx="199.3" cy="510.7" r="2.35"/><circle cx="164.6" cy="542.3" r="2.35"/><circle cx="173.0" cy="530.1" r="2.35"/><circle cx="214.1" cy="507.4" r="2.35"/><circle cx="204.9" cy="558.2" r="2.35"/><circle cx="134.5" cy="506.8" r="2.35"/><circle cx="230.4" cy="537.6" r="2.35"/><circle cx="200.6" cy="509.4" r="2.35"/><circle cx="156.5" cy="533.9" r="2.35"/><circle cx="155.5" cy="564.8" r="2.35"/><circle cx="212.2" cy="522.2" r="2.35"/><circle cx="225.6" cy="555.9" r="2.35"/><circle cx="228.9" cy="530.5" r="2.35"/><circle cx="200.6" cy="521.3" r="2.35"/><circle cx="154.9" cy="523.7" r="2.35"/><circle cx="158.7" cy="570.3" r="2.35"/><circle cx="224.4" cy="531.1" r="2.35"/><circle cx="146.7" cy="530.5" r="2.35"/><circle cx="188.8" cy="570.7" r="2.35"/><circle cx="168.1" cy="556.8" r="2.35"/><circle cx="190.0" cy="573.7" r="2.35"/><circle cx="165.3" cy="566.0" r="2.35"/><circle cx="205.8" cy="518.4" r="2.35"/><circle cx="215.5" cy="541.1" r="2.35"/><circle cx="205.6" cy="515.8" r="2.35"/><circle cx="210.2" cy="517.8" r="2.35"/><circle cx="186.5" cy="584.4" r="2.35"/><circle cx="196.2" cy="553.5" r="2.35"/><circle cx="146.1" cy="549.8" r="2.35"/><circle cx="204.5" cy="522.3" r="2.35"/><circle cx="188.6" cy="516.8" r="2.35"/><circle cx="148.6" cy="534.5" r="2.35"/><circle cx="199.7" cy="571.5" r="2.35"/><circle cx="201.1" cy="537.5" r="2.35"/><circle cx="200.9" cy="550.7" r="2.35"/><circle cx="155.6" cy="516.0" r="2.35"/><circle cx="132.2" cy="529.4" r="2.35"/><circle cx="155.7" cy="546.0" r="2.35"/><circle cx="162.3" cy="544.1" r="2.35"/><circle cx="158.0" cy="506.2" r="2.35"/><circle cx="232.0" cy="516.2" r="2.35"/><circle cx="171.7" cy="542.1" r="2.35"/><circle cx="201.8" cy="529.9" r="2.35"/><circle cx="217.8" cy="522.2" r="2.35"/><circle cx="234.1" cy="527.9" r="2.35"/><circle cx="180.1" cy="588.1" r="2.35"/><circle cx="188.6" cy="579.3" r="2.35"/><circle cx="197.5" cy="521.7" r="2.35"/><circle cx="166.6" cy="543.7" r="2.35"/><circle cx="168.2" cy="543.9" r="2.35"/><circle cx="233.2" cy="523.6" r="2.35"/><circle cx="235.3" cy="527.0" r="2.35"/><circle cx="158.9" cy="523.7" r="2.35"/><circle cx="218.6" cy="514.2" r="2.35"/><circle cx="226.6" cy="525.9" r="2.35"/><circle cx="207.4" cy="514.8" r="2.35"/><circle cx="185.3" cy="548.9" r="2.35"/><circle cx="235.8" cy="508.1" r="2.35"/><circle cx="158.4" cy="550.6" r="2.35"/><circle cx="184.4" cy="572.4" r="2.35"/><circle cx="155.7" cy="550.7" r="2.35"/><circle cx="202.2" cy="571.9" r="2.35"/><circle cx="189.0" cy="534.4" r="2.35"/><circle cx="218.0" cy="521.9" r="2.35"/><circle cx="226.6" cy="505.2" r="2.35"/><circle cx="205.2" cy="514.3" r="2.35"/><circle cx="214.6" cy="531.9" r="2.35"/><circle cx="189.0" cy="535.7" r="2.35"/><circle cx="202.6" cy="569.7" r="2.35"/><circle cx="212.8" cy="505.9" r="2.35"/><circle cx="211.2" cy="550.9" r="2.35"/><circle cx="164.4" cy="557.4" r="2.35"/><circle cx="220.7" cy="558.2" r="2.35"/><circle cx="174.4" cy="550.3" r="2.35"/><circle cx="155.0" cy="506.3" r="2.35"/><circle cx="222.7" cy="550.5" r="2.35"/><circle cx="147.7" cy="525.0" r="2.35"/><circle cx="135.5" cy="515.6" r="2.35"/><circle cx="206.8" cy="552.5" r="2.35"/><circle cx="222.2" cy="507.7" r="2.35"/><circle cx="172.7" cy="524.8" r="2.35"/><circle cx="214.8" cy="536.4" r="2.35"/><circle cx="187.7" cy="527.3" r="2.35"/><circle cx="137.5" cy="524.1" r="2.35"/><circle cx="218.0" cy="552.7" r="2.35"/><circle cx="151.2" cy="504.0" r="2.35"/><circle cx="193.7" cy="522.4" r="2.35"/><circle cx="197.1" cy="551.4" r="2.35"/><circle cx="199.5" cy="504.2" r="2.35"/><circle cx="224.5" cy="561.5" r="2.35"/><circle cx="145.1" cy="552.1" r="2.35"/><circle cx="209.8" cy="551.1" r="2.35"/><circle cx="191.9" cy="543.1" r="2.35"/><circle cx="194.7" cy="513.2" r="2.35"/><circle cx="178.1" cy="566.1" r="2.35"/><circle cx="134.0" cy="525.5" r="2.35"/><circle cx="164.5" cy="566.4" r="2.35"/><circle cx="167.7" cy="531.8" r="2.35"/><circle cx="147.6" cy="562.6" r="2.35"/><circle cx="161.1" cy="548.7" r="2.35"/><circle cx="141.2" cy="556.9" r="2.35"/><circle cx="168.5" cy="572.0" r="2.35"/><circle cx="167.3" cy="556.3" r="2.35"/><circle cx="185.5" cy="563.4" r="2.35"/><circle cx="204.2" cy="559.0" r="2.35"/><circle cx="190.1" cy="532.5" r="2.35"/><circle cx="176.3" cy="537.1" r="2.35"/><circle cx="172.4" cy="507.2" r="2.35"/><circle cx="149.6" cy="508.6" r="2.35"/><circle cx="178.3" cy="507.1" r="2.35"/><circle cx="141.5" cy="504.8" r="2.35"/><circle cx="191.9" cy="557.8" r="2.35"/><circle cx="157.5" cy="508.0" r="2.35"/><circle cx="228.7" cy="528.9" r="2.35"/><circle cx="195.4" cy="534.7" r="2.35"/><circle cx="138.8" cy="541.5" r="2.35"/><circle cx="208.3" cy="507.4" r="2.35"/><circle cx="156.7" cy="517.6" r="2.35"/><circle cx="184.2" cy="537.8" r="2.35"/><circle cx="161.2" cy="516.8" r="2.35"/><circle cx="136.8" cy="507.9" r="2.35"/><circle cx="140.3" cy="512.9" r="2.35"/><circle cx="213.6" cy="530.2" r="2.35"/><circle cx="173.6" cy="560.1" r="2.35"/><circle cx="170.3" cy="517.9" r="2.35"/><circle cx="222.8" cy="532.2" r="2.35"/><circle cx="173.9" cy="566.3" r="2.35"/><circle cx="200.2" cy="505.8" r="2.35"/><circle cx="146.7" cy="565.7" r="2.35"/><circle cx="209.1" cy="573.1" r="2.35"/><circle cx="197.3" cy="515.3" r="2.35"/><circle cx="171.2" cy="560.0" r="2.35"/><circle cx="238.3" cy="506.6" r="2.35"/><circle cx="239.6" cy="518.4" r="2.35"/><circle cx="155.8" cy="537.4" r="2.35"/><circle cx="140.0" cy="508.0" r="2.35"/><circle cx="217.4" cy="521.0" r="2.35"/><circle cx="173.9" cy="521.3" r="2.35"/><circle cx="235.1" cy="528.6" r="2.35"/><circle cx="201.5" cy="522.4" r="2.35"/><circle cx="227.5" cy="527.0" r="2.35"/><circle cx="168.4" cy="571.1" r="2.35"/><circle cx="169.5" cy="515.6" r="2.35"/><circle cx="174.1" cy="567.8" r="2.35"/><circle cx="138.5" cy="517.9" r="2.35"/><circle cx="202.1" cy="521.8" r="2.35"/><circle cx="148.1" cy="569.3" r="2.35"/><circle cx="177.8" cy="519.0" r="2.35"/><circle cx="192.9" cy="552.6" r="2.35"/><circle cx="179.2" cy="579.8" r="2.35"/><circle cx="147.0" cy="555.6" r="2.35"/><circle cx="176.4" cy="579.8" r="2.35"/><circle cx="140.0" cy="517.3" r="2.35"/><circle cx="178.3" cy="579.1" r="2.35"/><circle cx="201.8" cy="547.5" r="2.35"/><circle cx="178.1" cy="509.9" r="2.35"/><circle cx="137.7" cy="556.7" r="2.35"/><circle cx="171.8" cy="513.8" r="2.35"/><circle cx="198.8" cy="535.0" r="2.35"/><circle cx="153.9" cy="550.8" r="2.35"/><circle cx="224.8" cy="553.6" r="2.35"/><circle cx="166.3" cy="565.0" r="2.35"/><circle cx="141.2" cy="551.5" r="2.35"/><circle cx="190.7" cy="576.9" r="2.35"/><circle cx="192.8" cy="511.0" r="2.35"/><circle cx="157.5" cy="542.8" r="2.35"/><circle cx="191.2" cy="508.9" r="2.35"/><circle cx="186.6" cy="508.8" r="2.35"/><circle cx="138.2" cy="504.1" r="2.35"/><circle cx="152.2" cy="527.7" r="2.35"/><circle cx="134.0" cy="532.6" r="2.35"/><circle cx="142.9" cy="507.3" r="2.35"/><circle cx="173.1" cy="525.8" r="2.35"/><circle cx="190.3" cy="559.1" r="2.35"/><circle cx="167.0" cy="512.9" r="2.35"/><circle cx="159.0" cy="511.4" r="2.35"/><circle cx="174.2" cy="555.4" r="2.35"/><circle cx="188.0" cy="536.7" r="2.35"/><circle cx="134.9" cy="508.4" r="2.35"/><circle cx="188.1" cy="586.0" r="2.35"/><circle cx="151.8" cy="567.5" r="2.35"/><circle cx="153.9" cy="528.6" r="2.35"/><circle cx="189.5" cy="576.2" r="2.35"/><circle cx="213.2" cy="509.2" r="2.35"/><circle cx="193.2" cy="529.6" r="2.35"/><circle cx="160.2" cy="543.8" r="2.35"/><circle cx="188.9" cy="574.3" r="2.35"/><circle cx="144.8" cy="549.9" r="2.35"/><circle cx="191.3" cy="579.1" r="2.35"/><circle cx="194.9" cy="511.1" r="2.35"/><circle cx="145.3" cy="554.8" r="2.35"/><circle cx="209.8" cy="534.1" r="2.35"/><circle cx="142.6" cy="521.6" r="2.35"/><circle cx="225.2" cy="549.2" r="2.35"/><circle cx="197.1" cy="533.7" r="2.35"/><circle cx="148.5" cy="564.0" r="2.35"/><circle cx="147.3" cy="519.7" r="2.35"/><circle cx="158.0" cy="565.5" r="2.35"/><circle cx="174.6" cy="563.9" r="2.35"/><circle cx="222.4" cy="527.9" r="2.35"/><circle cx="157.4" cy="519.7" r="2.35"/><circle cx="217.3" cy="562.6" r="2.35"/><circle cx="188.3" cy="540.7" r="2.35"/><circle cx="168.6" cy="549.4" r="2.35"/><circle cx="166.9" cy="547.2" r="2.35"/><circle cx="132.8" cy="515.1" r="2.35"/><circle cx="157.8" cy="558.7" r="2.35"/><circle cx="147.1" cy="542.5" r="2.35"/><circle cx="186.5" cy="580.7" r="2.35"/><circle cx="211.9" cy="513.2" r="2.35"/><circle cx="136.6" cy="550.3" r="2.35"/><circle cx="148.7" cy="505.5" r="2.35"/><circle cx="157.2" cy="553.4" r="2.35"/><circle cx="149.3" cy="516.0" r="2.35"/><circle cx="178.0" cy="583.8" r="2.35"/><circle cx="232.0" cy="527.5" r="2.35"/><circle cx="229.3" cy="506.3" r="2.35"/><circle cx="203.4" cy="518.9" r="2.35"/><circle cx="158.8" cy="536.1" r="2.35"/><circle cx="222.5" cy="525.0" r="2.35"/><circle cx="196.0" cy="555.2" r="2.35"/><circle cx="224.4" cy="511.5" r="2.35"/><circle cx="193.5" cy="532.7" r="2.35"/><circle cx="201.3" cy="575.2" r="2.35"/><circle cx="235.5" cy="512.3" r="2.35"/><circle cx="160.3" cy="515.7" r="2.35"/><circle cx="208.8" cy="521.3" r="2.35"/><circle cx="180.5" cy="587.2" r="2.35"/><circle cx="212.8" cy="528.5" r="2.35"/><circle cx="197.2" cy="517.9" r="2.35"/><circle cx="215.7" cy="557.3" r="2.35"/><circle cx="185.2" cy="517.6" r="2.35"/><circle cx="145.2" cy="515.7" r="2.35"/><circle cx="206.9" cy="504.7" r="2.35"/><circle cx="187.1" cy="513.7" r="2.35"/><circle cx="153.3" cy="529.9" r="2.35"/><circle cx="184.9" cy="562.4" r="2.35"/><circle cx="145.6" cy="544.1" r="2.35"/><circle cx="201.1" cy="557.0" r="2.35"/><circle cx="153.1" cy="544.2" r="2.35"/><circle cx="206.3" cy="508.9" r="2.35"/><circle cx="173.6" cy="524.2" r="2.35"/><circle cx="150.4" cy="505.6" r="2.35"/><circle cx="210.4" cy="517.3" r="2.35"/><circle cx="194.1" cy="507.8" r="2.35"/><circle cx="140.8" cy="560.2" r="2.35"/><circle cx="212.3" cy="541.7" r="2.35"/><circle cx="177.6" cy="570.3" r="2.35"/><circle cx="210.6" cy="505.9" r="2.35"/><circle cx="177.9" cy="516.1" r="2.35"/><circle cx="198.2" cy="528.8" r="2.35"/><circle cx="200.9" cy="505.7" r="2.35"/><circle cx="177.1" cy="531.0" r="2.35"/><circle cx="199.0" cy="526.8" r="2.35"/><circle cx="226.6" cy="528.0" r="2.35"/><circle cx="228.7" cy="522.7" r="2.35"/><circle cx="135.0" cy="539.9" r="2.35"/><circle cx="206.3" cy="544.1" r="2.35"/><circle cx="210.7" cy="537.9" r="2.35"/><circle cx="184.3" cy="539.2" r="2.35"/><circle cx="158.3" cy="555.3" r="2.35"/><circle cx="206.7" cy="534.9" r="2.35"/><circle cx="197.2" cy="541.9" r="2.35"/><circle cx="158.7" cy="548.0" r="2.35"/><circle cx="210.4" cy="521.5" r="2.35"/><circle cx="141.3" cy="539.9" r="2.35"/><circle cx="235.7" cy="507.3" r="2.35"/><circle cx="178.7" cy="564.7" r="2.35"/><circle cx="209.4" cy="544.9" r="2.35"/><circle cx="184.8" cy="552.1" r="2.35"/><circle cx="180.9" cy="586.6" r="2.35"/><circle cx="162.8" cy="547.5" r="2.35"/><circle cx="198.3" cy="570.8" r="2.35"/><circle cx="221.9" cy="543.1" r="2.35"/><circle cx="174.1" cy="510.4" r="2.35"/><circle cx="174.3" cy="518.4" r="2.35"/><circle cx="165.0" cy="505.9" r="2.35"/><circle cx="199.1" cy="561.4" r="2.35"/><circle cx="160.0" cy="565.1" r="2.35"/><circle cx="207.5" cy="541.0" r="2.35"/><circle cx="188.3" cy="585.6" r="2.35"/><circle cx="162.1" cy="557.2" r="2.35"/><circle cx="144.0" cy="520.2" r="2.35"/><circle cx="200.1" cy="552.0" r="2.35"/><circle cx="203.5" cy="516.7" r="2.35"/><circle cx="154.1" cy="527.4" r="2.35"/><circle cx="199.0" cy="562.2" r="2.35"/><circle cx="166.4" cy="563.4" r="2.35"/><circle cx="170.6" cy="545.4" r="2.35"/><circle cx="185.4" cy="505.5" r="2.35"/><circle cx="151.3" cy="551.1" r="2.35"/><circle cx="207.0" cy="521.5" r="2.35"/><circle cx="149.6" cy="552.4" r="2.35"/><circle cx="229.5" cy="520.4" r="2.35"/><circle cx="139.2" cy="555.6" r="2.35"/><circle cx="211.6" cy="560.3" r="2.35"/><circle cx="217.4" cy="538.2" r="2.35"/><circle cx="173.5" cy="547.6" r="2.35"/><circle cx="224.8" cy="507.7" r="2.35"/><circle cx="159.5" cy="526.4" r="2.35"/><circle cx="138.5" cy="529.8" r="2.35"/><circle cx="146.1" cy="556.7" r="2.35"/><circle cx="184.9" cy="584.2" r="2.35"/><circle cx="167.0" cy="519.2" r="2.35"/><circle cx="205.5" cy="550.4" r="2.35"/><circle cx="169.9" cy="558.9" r="2.35"/><circle cx="164.6" cy="554.2" r="2.35"/><circle cx="163.5" cy="562.4" r="2.35"/><circle cx="220.8" cy="532.7" r="2.35"/><circle cx="209.8" cy="518.3" r="2.35"/><circle cx="161.1" cy="569.4" r="2.35"/><circle cx="163.9" cy="510.9" r="2.35"/><circle cx="174.7" cy="566.0" r="2.35"/><circle cx="203.8" cy="510.5" r="2.35"/><circle cx="184.6" cy="575.1" r="2.35"/><circle cx="221.7" cy="539.4" r="2.35"/><circle cx="135.6" cy="527.8" r="2.35"/><circle cx="162.4" cy="547.2" r="2.35"/><circle cx="163.7" cy="522.1" r="2.35"/><circle cx="193.2" cy="537.7" r="2.35"/><circle cx="203.6" cy="536.2" r="2.35"/><circle cx="160.9" cy="506.3" r="2.35"/><circle cx="153.8" cy="551.8" r="2.35"/><circle cx="188.0" cy="568.0" r="2.35"/><circle cx="158.8" cy="507.4" r="2.35"/><circle cx="141.1" cy="545.7" r="2.35"/><circle cx="163.2" cy="541.2" r="2.35"/><circle cx="151.5" cy="506.2" r="2.35"/><circle cx="199.8" cy="511.5" r="2.35"/><circle cx="232.4" cy="533.5" r="2.35"/><circle cx="186.2" cy="552.3" r="2.35"/><circle cx="190.5" cy="533.0" r="2.35"/><circle cx="137.4" cy="532.0" r="2.35"/><circle cx="197.6" cy="552.7" r="2.35"/><circle cx="155.4" cy="550.6" r="2.35"/><circle cx="153.7" cy="510.4" r="2.35"/><circle cx="215.2" cy="562.1" r="2.35"/><circle cx="210.5" cy="561.8" r="2.35"/><circle cx="198.0" cy="547.2" r="2.35"/><circle cx="132.3" cy="541.6" r="2.35"/><circle cx="155.6" cy="570.3" r="2.35"/><circle cx="212.8" cy="545.2" r="2.35"/><circle cx="213.4" cy="556.7" r="2.35"/><circle cx="197.1" cy="515.4" r="2.35"/><circle cx="154.5" cy="507.2" r="2.35"/><circle cx="197.7" cy="535.8" r="2.35"/><circle cx="176.1" cy="536.8" r="2.35"/><circle cx="166.7" cy="569.0" r="2.35"/><circle cx="193.5" cy="512.5" r="2.35"/><circle cx="184.3" cy="559.0" r="2.35"/><circle cx="212.9" cy="555.3" r="2.35"/><circle cx="178.7" cy="516.5" r="2.35"/><circle cx="197.4" cy="532.4" r="2.35"/><circle cx="208.3" cy="569.5" r="2.35"/><circle cx="162.8" cy="548.7" r="2.35"/><circle cx="201.2" cy="530.9" r="2.35"/><circle cx="136.6" cy="547.0" r="2.35"/><circle cx="145.6" cy="545.3" r="2.35"/><circle cx="220.1" cy="531.1" r="2.35"/><circle cx="220.0" cy="504.7" r="2.35"/><circle cx="171.2" cy="518.4" r="2.35"/><circle cx="149.1" cy="512.2" r="2.35"/><circle cx="161.5" cy="532.4" r="2.35"/><circle cx="129.1" cy="511.9" r="2.35"/><circle cx="213.5" cy="510.2" r="2.35"/><circle cx="166.3" cy="521.7" r="2.35"/><circle cx="206.6" cy="505.3" r="2.35"/><circle cx="189.7" cy="508.0" r="2.35"/><circle cx="197.0" cy="547.2" r="2.35"/><circle cx="178.3" cy="524.6" r="2.35"/><circle cx="163.6" cy="517.0" r="2.35"/><circle cx="178.1" cy="513.5" r="2.35"/><circle cx="153.4" cy="563.5" r="2.35"/><circle cx="183.2" cy="586.0" r="2.35"/><circle cx="196.2" cy="573.8" r="2.35"/><circle cx="230.1" cy="517.4" r="2.35"/><circle cx="226.5" cy="520.8" r="2.35"/><circle cx="213.6" cy="524.4" r="2.35"/><circle cx="142.1" cy="529.2" r="2.35"/><circle cx="202.6" cy="525.5" r="2.35"/><circle cx="200.5" cy="541.7" r="2.35"/><circle cx="153.7" cy="517.0" r="2.35"/><circle cx="148.6" cy="515.9" r="2.35"/><circle cx="167.4" cy="564.1" r="2.35"/><circle cx="165.4" cy="509.9" r="2.35"/><circle cx="229.3" cy="526.0" r="2.35"/><circle cx="186.1" cy="576.8" r="2.35"/><circle cx="137.0" cy="558.0" r="2.35"/><circle cx="143.0" cy="522.1" r="2.35"/><circle cx="185.5" cy="520.3" r="2.35"/><circle cx="185.4" cy="546.9" r="2.35"/><circle cx="203.5" cy="557.3" r="2.35"/><circle cx="144.5" cy="522.0" r="2.35"/><circle cx="138.0" cy="540.9" r="2.35"/><circle cx="190.9" cy="566.7" r="2.35"/><circle cx="159.8" cy="532.3" r="2.35"/><circle cx="167.0" cy="505.9" r="2.35"/><circle cx="168.9" cy="547.8" r="2.35"/><circle cx="232.9" cy="514.7" r="2.35"/><circle cx="191.1" cy="529.6" r="2.35"/><circle cx="167.8" cy="528.6" r="2.35"/><circle cx="142.0" cy="524.0" r="2.35"/><circle cx="152.0" cy="540.7" r="2.35"/><circle cx="210.8" cy="536.3" r="2.35"/><circle cx="218.5" cy="554.5" r="2.35"/><circle cx="152.3" cy="557.0" r="2.35"/><circle cx="169.5" cy="565.9" r="2.35"/><circle cx="142.3" cy="553.3" r="2.35"/><circle cx="168.8" cy="540.4" r="2.35"/><circle cx="168.6" cy="520.4" r="2.35"/><circle cx="223.5" cy="521.0" r="2.35"/><circle cx="160.1" cy="573.0" r="2.35"/><circle cx="207.1" cy="545.5" r="2.35"/><circle cx="171.0" cy="555.4" r="2.35"/><circle cx="193.8" cy="579.5" r="2.35"/><circle cx="145.9" cy="516.0" r="2.35"/><circle cx="216.4" cy="504.4" r="2.35"/><circle cx="218.3" cy="548.6" r="2.35"/><circle cx="196.1" cy="558.7" r="2.35"/><circle cx="190.9" cy="547.0" r="2.35"/><circle cx="170.8" cy="531.8" r="2.35"/><circle cx="187.1" cy="519.2" r="2.35"/><circle cx="140.8" cy="537.3" r="2.35"/><circle cx="148.2" cy="513.3" r="2.35"/><circle cx="149.4" cy="504.7" r="2.35"/><circle cx="201.3" cy="570.0" r="2.35"/><circle cx="178.6" cy="535.3" r="2.35"/><circle cx="169.6" cy="555.7" r="2.35"/><circle cx="224.1" cy="504.1" r="2.35"/><circle cx="189.7" cy="565.1" r="2.35"/><circle cx="205.7" cy="552.0" r="2.35"/><circle cx="222.6" cy="547.7" r="2.35"/><circle cx="224.1" cy="534.8" r="2.35"/><circle cx="223.6" cy="549.0" r="2.35"/><circle cx="198.8" cy="571.3" r="2.35"/><circle cx="140.2" cy="506.0" r="2.35"/><circle cx="197.5" cy="545.9" r="2.35"/><circle cx="171.8" cy="560.9" r="2.35"/><circle cx="208.3" cy="511.4" r="2.35"/><circle cx="170.8" cy="564.4" r="2.35"/><circle cx="129.2" cy="511.5" r="2.35"/><circle cx="201.1" cy="570.0" r="2.35"/><circle cx="136.8" cy="554.2" r="2.35"/><circle cx="217.6" cy="547.8" r="2.35"/><circle cx="175.0" cy="511.8" r="2.35"/><circle cx="161.3" cy="564.1" r="2.35"/><circle cx="159.7" cy="533.8" r="2.35"/><circle cx="166.4" cy="536.4" r="2.35"/><circle cx="168.8" cy="543.7" r="2.35"/><circle cx="148.2" cy="519.9" r="2.35"/><circle cx="193.9" cy="570.8" r="2.35"/><circle cx="166.9" cy="569.8" r="2.35"/><circle cx="155.6" cy="548.4" r="2.35"/><circle cx="203.7" cy="549.2" r="2.35"/><circle cx="193.5" cy="518.6" r="2.35"/><circle cx="195.4" cy="582.0" r="2.35"/><circle cx="142.3" cy="518.2" r="2.35"/><circle cx="217.3" cy="531.1" r="2.35"/><circle cx="218.0" cy="534.1" r="2.35"/><circle cx="194.0" cy="543.9" r="2.35"/><circle cx="177.4" cy="581.1" r="2.35"/><circle cx="154.2" cy="547.9" r="2.35"/><circle cx="158.3" cy="558.7" r="2.35"/><circle cx="147.1" cy="560.7" r="2.35"/><circle cx="216.8" cy="518.3" r="2.35"/><circle cx="152.9" cy="512.3" r="2.35"/><circle cx="153.6" cy="524.3" r="2.35"/><circle cx="157.8" cy="547.0" r="2.35"/><circle cx="211.6" cy="505.3" r="2.35"/><circle cx="150.0" cy="516.9" r="2.35"/><circle cx="166.9" cy="512.2" r="2.35"/><circle cx="171.8" cy="504.5" r="2.35"/><circle cx="201.9" cy="560.8" r="2.35"/><circle cx="159.5" cy="526.0" r="2.35"/><circle cx="190.0" cy="574.4" r="2.35"/><circle cx="213.7" cy="561.0" r="2.35"/><circle cx="185.9" cy="515.4" r="2.35"/><circle cx="173.7" cy="581.4" r="2.35"/><circle cx="150.1" cy="560.4" r="2.35"/><circle cx="165.7" cy="507.7" r="2.35"/><circle cx="204.2" cy="546.8" r="2.35"/><circle cx="169.0" cy="553.7" r="2.35"/><circle cx="143.6" cy="560.3" r="2.35"/><circle cx="193.6" cy="516.1" r="2.35"/><circle cx="141.5" cy="552.5" r="2.35"/><circle cx="175.5" cy="521.3" r="2.35"/><circle cx="220.6" cy="514.4" r="2.35"/><circle cx="133.9" cy="529.1" r="2.35"/><circle cx="172.9" cy="566.5" r="2.35"/><circle cx="196.3" cy="509.1" r="2.35"/><circle cx="148.7" cy="547.9" r="2.35"/><circle cx="195.2" cy="510.3" r="2.35"/><circle cx="129.0" cy="513.1" r="2.35"/><circle cx="197.1" cy="554.0" r="2.35"/><circle cx="168.3" cy="560.4" r="2.35"/><circle cx="190.4" cy="568.1" r="2.35"/><circle cx="134.1" cy="550.6" r="2.35"/><circle cx="215.7" cy="517.3" r="2.35"/><circle cx="230.1" cy="543.0" r="2.35"/><circle cx="163.9" cy="526.8" r="2.35"/><circle cx="165.3" cy="517.8" r="2.35"/><circle cx="185.0" cy="546.3" r="2.35"/><circle cx="213.9" cy="536.8" r="2.35"/><circle cx="144.0" cy="524.2" r="2.35"/><circle cx="158.7" cy="568.7" r="2.35"/><circle cx="188.9" cy="515.7" r="2.35"/><circle cx="167.0" cy="561.4" r="2.35"/><circle cx="222.0" cy="542.7" r="2.35"/><circle cx="187.9" cy="509.6" r="2.35"/><circle cx="196.2" cy="578.7" r="2.35"/><circle cx="188.1" cy="536.1" r="2.35"/><circle cx="219.4" cy="518.8" r="2.35"/><circle cx="172.5" cy="545.7" r="2.35"/><circle cx="165.5" cy="556.8" r="2.35"/><circle cx="153.1" cy="543.7" r="2.35"/><circle cx="145.3" cy="548.2" r="2.35"/><circle cx="188.5" cy="534.2" r="2.35"/><circle cx="155.5" cy="511.2" r="2.35"/><circle cx="144.1" cy="516.6" r="2.35"/><circle cx="190.8" cy="513.0" r="2.35"/><circle cx="165.4" cy="557.9" r="2.35"/><circle cx="134.6" cy="541.4" r="2.35"/><circle cx="167.6" cy="540.2" r="2.35"/><circle cx="139.5" cy="525.3" r="2.35"/><circle cx="169.8" cy="569.5" r="2.35"/><circle cx="204.3" cy="545.5" r="2.35"/><circle cx="133.9" cy="533.1" r="2.35"/><circle cx="206.8" cy="504.1" r="2.35"/><circle cx="175.4" cy="578.1" r="2.35"/><circle cx="204.5" cy="569.5" r="2.35"/><circle cx="193.3" cy="545.1" r="2.35"/><circle cx="142.1" cy="527.4" r="2.35"/><circle cx="148.5" cy="542.8" r="2.35"/><circle cx="206.1" cy="543.4" r="2.35"/><circle cx="131.5" cy="526.1" r="2.35"/><circle cx="130.2" cy="515.5" r="2.35"/><circle cx="211.3" cy="540.8" r="2.35"/><circle cx="160.7" cy="509.9" r="2.35"/><circle cx="171.2" cy="538.4" r="2.35"/><circle cx="165.5" cy="554.7" r="2.35"/><circle cx="217.1" cy="517.0" r="2.35"/><circle cx="146.5" cy="563.5" r="2.35"/><circle cx="134.0" cy="506.4" r="2.35"/><circle cx="174.0" cy="520.1" r="2.35"/><circle cx="132.7" cy="520.6" r="2.35"/><circle cx="217.6" cy="556.2" r="2.35"/><circle cx="141.8" cy="543.6" r="2.35"/><circle cx="157.4" cy="546.6" r="2.35"/><circle cx="232.2" cy="505.4" r="2.35"/><circle cx="195.7" cy="529.7" r="2.35"/><circle cx="215.1" cy="517.4" r="2.35"/><circle cx="202.9" cy="553.0" r="2.35"/><circle cx="211.0" cy="571.1" r="2.35"/><circle cx="157.5" cy="554.1" r="2.35"/><circle cx="175.6" cy="582.1" r="2.35"/><circle cx="167.1" cy="551.9" r="2.35"/><circle cx="168.0" cy="569.8" r="2.35"/><circle cx="174.9" cy="584.4" r="2.35"/><circle cx="156.7" cy="526.3" r="2.35"/><circle cx="172.1" cy="571.8" r="2.35"/><circle cx="130.6" cy="505.3" r="2.35"/><circle cx="137.5" cy="512.8" r="2.35"/><circle cx="172.9" cy="519.8" r="2.35"/><circle cx="185.4" cy="527.2" r="2.35"/><circle cx="158.0" cy="546.4" r="2.35"/><circle cx="148.4" cy="535.9" r="2.35"/><circle cx="152.8" cy="544.2" r="2.35"/><circle cx="156.8" cy="549.9" r="2.35"/><circle cx="172.9" cy="509.4" r="2.35"/><circle cx="164.6" cy="508.6" r="2.35"/><circle cx="206.7" cy="530.7" r="2.35"/><circle cx="186.0" cy="536.4" r="2.35"/><circle cx="133.5" cy="524.7" r="2.35"/><circle cx="196.3" cy="539.3" r="2.35"/><circle cx="186.8" cy="529.7" r="2.35"/><circle cx="194.4" cy="560.6" r="2.35"/><circle cx="175.5" cy="547.1" r="2.35"/><circle cx="204.5" cy="508.6" r="2.35"/><circle cx="149.6" cy="546.3" r="2.35"/><circle cx="219.3" cy="531.9" r="2.35"/><circle cx="221.9" cy="554.9" r="2.35"/><circle cx="141.7" cy="557.4" r="2.35"/><circle cx="223.1" cy="510.0" r="2.35"/><circle cx="207.6" cy="517.2" r="2.35"/><circle cx="176.1" cy="509.6" r="2.35"/><circle cx="142.6" cy="532.6" r="2.35"/><circle cx="192.8" cy="538.3" r="2.35"/><circle cx="134.6" cy="522.6" r="2.35"/><circle cx="187.2" cy="555.5" r="2.35"/><circle cx="194.5" cy="572.3" r="2.35"/><circle cx="189.1" cy="547.9" r="2.35"/><circle cx="230.2" cy="531.7" r="2.35"/><circle cx="191.3" cy="566.0" r="2.35"/><circle cx="160.9" cy="544.8" r="2.35"/><circle cx="168.8" cy="575.0" r="2.35"/><circle cx="161.7" cy="562.0" r="2.35"/><circle cx="182.9" cy="583.0" r="2.35"/><circle cx="191.8" cy="520.4" r="2.35"/><circle cx="174.3" cy="559.4" r="2.35"/><circle cx="148.7" cy="545.2" r="2.35"/><circle cx="191.4" cy="508.4" r="2.35"/><circle cx="156.5" cy="518.9" r="2.35"/><circle cx="166.9" cy="534.9" r="2.35"/><circle cx="224.2" cy="531.8" r="2.35"/><circle cx="136.0" cy="558.1" r="2.35"/><circle cx="143.8" cy="543.9" r="2.35"/><circle cx="150.0" cy="532.5" r="2.35"/><circle cx="158.0" cy="571.6" r="2.35"/><circle cx="221.4" cy="534.4" r="2.35"/><circle cx="206.6" cy="568.6" r="2.35"/><circle cx="227.7" cy="515.9" r="2.35"/><circle cx="215.5" cy="530.2" r="2.35"/><circle cx="188.6" cy="530.3" r="2.35"/><circle cx="190.4" cy="568.2" r="2.35"/><circle cx="214.0" cy="526.6" r="2.35"/><circle cx="201.5" cy="572.2" r="2.35"/><circle cx="218.9" cy="530.4" r="2.35"/><circle cx="220.5" cy="534.2" r="2.35"/><circle cx="178.1" cy="506.7" r="2.35"/><circle cx="189.1" cy="564.7" r="2.35"/><circle cx="197.2" cy="575.6" r="2.35"/><circle cx="220.1" cy="553.4" r="2.35"/><circle cx="159.7" cy="517.8" r="2.35"/><circle cx="200.5" cy="537.8" r="2.35"/><circle cx="157.4" cy="549.6" r="2.35"/><circle cx="192.1" cy="549.5" r="2.35"/><circle cx="162.1" cy="514.8" r="2.35"/><circle cx="144.9" cy="533.9" r="2.35"/><circle cx="176.6" cy="541.1" r="2.35"/><circle cx="187.1" cy="571.6" r="2.35"/><circle cx="186.8" cy="571.6" r="2.35"/><circle cx="150.1" cy="514.1" r="2.35"/><circle cx="204.5" cy="549.9" r="2.35"/><circle cx="185.8" cy="554.1" r="2.35"/><circle cx="163.5" cy="575.1" r="2.35"/><circle cx="210.7" cy="519.2" r="2.35"/><circle cx="202.6" cy="511.0" r="2.35"/><circle cx="167.6" cy="541.0" r="2.35"/><circle cx="145.8" cy="561.0" r="2.35"/><circle cx="173.8" cy="527.9" r="2.35"/><circle cx="184.6" cy="555.2" r="2.35"/><circle cx="159.7" cy="519.3" r="2.35"/><circle cx="186.4" cy="558.1" r="2.35"/><circle cx="169.9" cy="504.8" r="2.35"/><circle cx="143.1" cy="538.9" r="2.35"/><circle cx="222.8" cy="545.4" r="2.35"/><circle cx="151.4" cy="504.2" r="2.35"/><circle cx="137.7" cy="524.0" r="2.35"/><circle cx="177.6" cy="524.1" r="2.35"/><circle cx="160.6" cy="569.4" r="2.35"/><circle cx="212.8" cy="519.4" r="2.35"/><circle cx="202.9" cy="522.0" r="2.35"/><circle cx="160.7" cy="542.8" r="2.35"/><circle cx="215.8" cy="520.8" r="2.35"/><circle cx="218.7" cy="557.7" r="2.35"/><circle cx="137.2" cy="514.0" r="2.35"/><circle cx="229.1" cy="532.1" r="2.35"/><circle cx="177.3" cy="564.1" r="2.35"/><circle cx="204.9" cy="553.0" r="2.35"/><circle cx="131.5" cy="515.4" r="2.35"/><circle cx="192.5" cy="534.9" r="2.35"/><circle cx="165.9" cy="553.3" r="2.35"/><circle cx="144.6" cy="565.1" r="2.35"/><circle cx="161.6" cy="546.4" r="2.35"/><circle cx="212.2" cy="512.0" r="2.35"/><circle cx="164.9" cy="539.5" r="2.35"/><circle cx="154.3" cy="517.3" r="2.35"/><circle cx="148.9" cy="544.6" r="2.35"/><circle cx="192.6" cy="520.2" r="2.35"/><circle cx="199.4" cy="507.9" r="2.35"/><circle cx="162.1" cy="535.4" r="2.35"/><circle cx="195.4" cy="546.0" r="2.35"/><circle cx="132.8" cy="534.6" r="2.35"/><circle cx="213.6" cy="539.5" r="2.35"/><circle cx="156.8" cy="553.0" r="2.35"/><circle cx="139.0" cy="538.9" r="2.35"/><circle cx="196.2" cy="550.2" r="2.35"/><circle cx="228.7" cy="519.9" r="2.35"/><circle cx="172.0" cy="528.8" r="2.35"/><circle cx="154.8" cy="557.4" r="2.35"/><circle cx="145.2" cy="507.5" r="2.35"/><circle cx="153.8" cy="569.6" r="2.35"/><circle cx="178.9" cy="573.4" r="2.35"/><circle cx="228.2" cy="511.1" r="2.35"/><circle cx="146.1" cy="563.2" r="2.35"/><circle cx="230.6" cy="510.8" r="2.35"/><circle cx="164.9" cy="531.2" r="2.35"/><circle cx="221.4" cy="541.7" r="2.35"/><circle cx="207.0" cy="513.6" r="2.35"/><circle cx="216.7" cy="512.2" r="2.35"/><circle cx="152.0" cy="548.6" r="2.35"/><circle cx="155.8" cy="539.4" r="2.35"/><circle cx="192.3" cy="523.0" r="2.35"/><circle cx="196.6" cy="526.8" r="2.35"/><circle cx="148.0" cy="556.1" r="2.35"/><circle cx="190.8" cy="526.7" r="2.35"/><circle cx="226.2" cy="505.1" r="2.35"/><circle cx="165.9" cy="542.1" r="2.35"/><circle cx="130.5" cy="522.2" r="2.35"/><circle cx="191.3" cy="519.0" r="2.35"/><circle cx="162.1" cy="542.1" r="2.35"/><circle cx="216.8" cy="526.4" r="2.35"/><circle cx="162.8" cy="515.9" r="2.35"/><circle cx="162.3" cy="534.1" r="2.35"/><circle cx="129.8" cy="528.5" r="2.35"/><circle cx="200.9" cy="538.3" r="2.35"/><circle cx="205.6" cy="570.7" r="2.35"/><circle cx="219.3" cy="549.5" r="2.35"/><circle cx="216.6" cy="555.2" r="2.35"/><circle cx="129.6" cy="504.2" r="2.35"/><circle cx="225.7" cy="518.7" r="2.35"/><circle cx="153.7" cy="544.7" r="2.35"/><circle cx="156.3" cy="572.4" r="2.35"/><circle cx="196.3" cy="565.0" r="2.35"/><circle cx="174.4" cy="556.9" r="2.35"/><circle cx="184.5" cy="552.3" r="2.35"/><circle cx="209.9" cy="537.3" r="2.35"/><circle cx="187.6" cy="587.4" r="2.35"/><circle cx="191.7" cy="576.0" r="2.35"/><circle cx="173.2" cy="540.0" r="2.35"/><circle cx="195.3" cy="560.2" r="2.35"/><circle cx="191.6" cy="519.4" r="2.35"/><circle cx="218.0" cy="509.5" r="2.35"/><circle cx="193.1" cy="546.9" r="2.35"/><circle cx="144.4" cy="525.4" r="2.35"/><circle cx="188.2" cy="552.4" r="2.35"/><circle cx="169.9" cy="518.2" r="2.35"/><circle cx="152.9" cy="565.2" r="2.35"/><circle cx="137.7" cy="534.2" r="2.35"/><circle cx="216.7" cy="508.2" r="2.35"/><circle cx="211.5" cy="537.9" r="2.35"/><circle cx="218.3" cy="513.5" r="2.35"/><circle cx="184.3" cy="582.9" r="2.35"/><circle cx="185.0" cy="576.9" r="2.35"/><circle cx="189.3" cy="533.0" r="2.35"/><circle cx="132.9" cy="555.7" r="2.35"/><circle cx="163.9" cy="554.2" r="2.35"/><circle cx="143.3" cy="513.7" r="2.35"/><circle cx="199.8" cy="575.8" r="2.35"/><circle cx="209.3" cy="542.0" r="2.35"/><circle cx="159.9" cy="533.8" r="2.35"/><circle cx="236.9" cy="513.8" r="2.35"/><circle cx="130.1" cy="517.8" r="2.35"/><circle cx="188.6" cy="539.4" r="2.35"/><circle cx="157.4" cy="537.2" r="2.35"/><circle cx="170.2" cy="564.1" r="2.35"/><circle cx="187.4" cy="550.9" r="2.35"/><circle cx="200.9" cy="507.4" r="2.35"/><circle cx="194.1" cy="568.8" r="2.35"/><circle cx="138.4" cy="530.5" r="2.35"/><circle cx="146.5" cy="548.8" r="2.35"/><circle cx="236.5" cy="524.1" r="2.35"/><circle cx="166.0" cy="515.0" r="2.35"/><circle cx="147.7" cy="535.7" r="2.35"/><circle cx="219.9" cy="505.2" r="2.35"/><circle cx="208.5" cy="574.2" r="2.35"/><circle cx="184.8" cy="538.3" r="2.35"/><circle cx="214.0" cy="552.1" r="2.35"/><circle cx="172.1" cy="516.3" r="2.35"/><circle cx="189.5" cy="519.3" r="2.35"/><circle cx="205.9" cy="543.8" r="2.35"/><circle cx="156.0" cy="541.5" r="2.35"/><circle cx="197.1" cy="544.7" r="2.35"/><circle cx="140.3" cy="513.8" r="2.35"/><circle cx="164.8" cy="504.7" r="2.35"/><circle cx="141.6" cy="555.7" r="2.35"/><circle cx="215.3" cy="560.4" r="2.35"/><circle cx="166.4" cy="513.5" r="2.35"/><circle cx="222.0" cy="542.4" r="2.35"/><circle cx="179.5" cy="568.0" r="2.35"/><circle cx="162.3" cy="561.3" r="2.35"/><circle cx="218.8" cy="554.0" r="2.35"/><circle cx="202.5" cy="521.7" r="2.35"/><circle cx="186.7" cy="530.8" r="2.35"/><circle cx="203.1" cy="524.5" r="2.35"/><circle cx="209.1" cy="550.8" r="2.35"/><circle cx="170.2" cy="575.6" r="2.35"/><circle cx="198.2" cy="505.6" r="2.35"/><circle cx="169.4" cy="537.0" r="2.35"/><circle cx="199.9" cy="534.0" r="2.35"/><circle cx="172.6" cy="527.2" r="2.35"/><circle cx="165.8" cy="557.3" r="2.35"/><circle cx="146.5" cy="559.8" r="2.35"/><circle cx="191.9" cy="581.6" r="2.35"/><circle cx="213.1" cy="564.0" r="2.35"/><circle cx="137.5" cy="542.9" r="2.35"/><circle cx="203.3" cy="524.8" r="2.35"/><circle cx="167.6" cy="555.2" r="2.35"/><circle cx="194.9" cy="528.3" r="2.35"/><circle cx="209.1" cy="531.7" r="2.35"/><circle cx="175.9" cy="543.1" r="2.35"/><circle cx="191.8" cy="542.6" r="2.35"/><circle cx="147.3" cy="514.9" r="2.35"/><circle cx="194.7" cy="564.0" r="2.35"/><circle cx="200.5" cy="553.1" r="2.35"/><circle cx="173.9" cy="581.7" r="2.35"/><circle cx="212.5" cy="558.6" r="2.35"/><circle cx="203.7" cy="505.7" r="2.35"/><circle cx="175.9" cy="567.0" r="2.35"/><circle cx="167.9" cy="559.9" r="2.35"/><circle cx="231.3" cy="506.4" r="2.35"/><circle cx="160.7" cy="548.7" r="2.35"/><circle cx="218.8" cy="548.7" r="2.35"/><circle cx="174.2" cy="543.0" r="2.35"/><circle cx="175.4" cy="565.3" r="2.35"/><circle cx="172.1" cy="581.2" r="2.35"/><circle cx="189.5" cy="551.5" r="2.35"/><circle cx="135.4" cy="508.8" r="2.35"/><circle cx="176.9" cy="511.8" r="2.35"/><circle cx="134.9" cy="524.6" r="2.35"/><circle cx="202.5" cy="568.9" r="2.35"/><circle cx="163.0" cy="534.8" r="2.35"/><circle cx="218.9" cy="562.3" r="2.35"/><circle cx="196.0" cy="540.2" r="2.35"/><circle cx="192.4" cy="535.7" r="2.35"/><circle cx="172.8" cy="516.4" r="2.35"/><circle cx="216.9" cy="556.4" r="2.35"/><circle cx="147.5" cy="540.0" r="2.35"/><circle cx="190.3" cy="568.2" r="2.35"/><circle cx="210.0" cy="554.5" r="2.35"/><circle cx="168.0" cy="574.5" r="2.35"/><circle cx="134.5" cy="543.5" r="2.35"/><circle cx="212.4" cy="550.6" r="2.35"/><circle cx="216.1" cy="508.7" r="2.35"/><circle cx="208.2" cy="543.1" r="2.35"/><circle cx="188.0" cy="547.2" r="2.35"/><circle cx="203.9" cy="536.5" r="2.35"/><circle cx="212.9" cy="552.8" r="2.35"/><circle cx="205.9" cy="529.9" r="2.35"/><circle cx="203.0" cy="515.5" r="2.35"/><circle cx="152.7" cy="551.3" r="2.35"/><circle cx="139.7" cy="556.9" r="2.35"/><circle cx="167.1" cy="559.0" r="2.35"/><circle cx="144.7" cy="507.4" r="2.35"/><circle cx="140.1" cy="531.7" r="2.35"/><circle cx="192.2" cy="583.4" r="2.35"/><circle cx="145.4" cy="558.1" r="2.35"/><circle cx="195.0" cy="580.8" r="2.35"/><circle cx="224.0" cy="552.1" r="2.35"/><circle cx="147.6" cy="523.5" r="2.35"/><circle cx="136.7" cy="508.0" r="2.35"/><circle cx="176.8" cy="553.0" r="2.35"/><circle cx="198.1" cy="545.7" r="2.35"/><circle cx="218.7" cy="526.3" r="2.35"/><circle cx="174.2" cy="557.4" r="2.35"/><circle cx="190.4" cy="553.5" r="2.35"/><circle cx="197.1" cy="556.2" r="2.35"/><circle cx="204.8" cy="546.4" r="2.35"/><circle cx="143.9" cy="523.7" r="2.35"/><circle cx="163.2" cy="541.9" r="2.35"/><circle cx="195.1" cy="547.0" r="2.35"/><circle cx="149.3" cy="558.8" r="2.35"/><circle cx="204.9" cy="548.5" r="2.35"/><circle cx="165.1" cy="571.5" r="2.35"/><circle cx="225.0" cy="553.3" r="2.35"/><circle cx="203.3" cy="519.3" r="2.35"/><circle cx="209.4" cy="510.9" r="2.35"/><circle cx="140.3" cy="520.5" r="2.35"/><circle cx="143.4" cy="521.8" r="2.35"/><circle cx="222.8" cy="562.8" r="2.35"/><circle cx="157.9" cy="554.4" r="2.35"/><circle cx="159.4" cy="561.8" r="2.35"/><circle cx="163.4" cy="542.9" r="2.35"/><circle cx="225.5" cy="516.2" r="2.35"/><circle cx="223.9" cy="538.6" r="2.35"/><circle cx="218.5" cy="537.8" r="2.35"/><circle cx="174.8" cy="581.9" r="2.35"/><circle cx="200.9" cy="518.1" r="2.35"/><circle cx="177.2" cy="507.4" r="2.35"/><circle cx="177.4" cy="532.5" r="2.35"/><circle cx="173.2" cy="523.0" r="2.35"/><circle cx="212.3" cy="558.9" r="2.35"/><circle cx="201.2" cy="576.5" r="2.35"/><circle cx="209.6" cy="536.1" r="2.35"/><circle cx="212.0" cy="567.7" r="2.35"/><circle cx="212.6" cy="526.8" r="2.35"/><circle cx="195.9" cy="532.2" r="2.35"/><circle cx="163.1" cy="519.7" r="2.35"/><circle cx="197.0" cy="549.6" r="2.35"/><circle cx="133.4" cy="514.4" r="2.35"/><circle cx="142.5" cy="522.5" r="2.35"/><circle cx="235.8" cy="524.6" r="2.35"/><circle cx="208.1" cy="539.3" r="2.35"/><circle cx="208.3" cy="535.6" r="2.35"/><circle cx="222.7" cy="537.5" r="2.35"/><circle cx="173.9" cy="564.2" r="2.35"/><circle cx="161.6" cy="512.5" r="2.35"/><circle cx="226.7" cy="520.7" r="2.35"/><circle cx="141.5" cy="533.1" r="2.35"/><circle cx="150.7" cy="518.1" r="2.35"/><circle cx="202.6" cy="525.0" r="2.35"/><circle cx="134.1" cy="506.8" r="2.35"/><circle cx="134.7" cy="511.4" r="2.35"/><circle cx="175.0" cy="569.2" r="2.35"/><circle cx="162.2" cy="536.9" r="2.35"/><circle cx="197.5" cy="526.0" r="2.35"/><circle cx="210.1" cy="505.4" r="2.35"/><circle cx="218.1" cy="551.8" r="2.35"/><circle cx="163.3" cy="520.4" r="2.35"/><circle cx="162.7" cy="560.7" r="2.35"/><circle cx="138.2" cy="562.3" r="2.35"/><circle cx="205.1" cy="510.9" r="2.35"/><circle cx="178.4" cy="538.8" r="2.35"/><circle cx="172.9" cy="547.3" r="2.35"/><circle cx="221.8" cy="561.4" r="2.35"/><circle cx="216.3" cy="560.0" r="2.35"/><circle cx="202.7" cy="520.3" r="2.35"/><circle cx="188.0" cy="572.8" r="2.35"/><circle cx="162.9" cy="567.8" r="2.35"/><circle cx="165.1" cy="517.3" r="2.35"/><circle cx="137.8" cy="553.2" r="2.35"/><circle cx="157.0" cy="528.2" r="2.35"/><circle cx="200.3" cy="528.5" r="2.35"/><circle cx="145.8" cy="536.4" r="2.35"/><circle cx="233.3" cy="516.9" r="2.35"/><circle cx="169.3" cy="515.2" r="2.35"/><circle cx="215.3" cy="504.6" r="2.35"/><circle cx="167.3" cy="563.7" r="2.35"/><circle cx="221.0" cy="529.3" r="2.35"/><circle cx="165.3" cy="504.8" r="2.35"/><circle cx="170.8" cy="558.5" r="2.35"/><circle cx="205.3" cy="544.6" r="2.35"/><circle cx="231.2" cy="534.5" r="2.35"/><circle cx="176.7" cy="571.7" r="2.35"/><circle cx="177.6" cy="530.4" r="2.35"/><circle cx="149.2" cy="522.5" r="2.35"/><circle cx="218.3" cy="537.0" r="2.35"/><circle cx="213.8" cy="518.5" r="2.35"/><circle cx="174.1" cy="581.7" r="2.35"/><circle cx="217.2" cy="535.2" r="2.35"/><circle cx="159.3" cy="544.9" r="2.35"/><circle cx="217.4" cy="559.8" r="2.35"/><circle cx="208.4" cy="543.7" r="2.35"/><circle cx="213.1" cy="552.1" r="2.35"/><circle cx="231.0" cy="519.2" r="2.35"/><circle cx="185.4" cy="557.7" r="2.35"/><circle cx="219.0" cy="530.5" r="2.35"/><circle cx="169.0" cy="511.0" r="2.35"/><circle cx="213.6" cy="554.9" r="2.35"/><circle cx="226.7" cy="515.7" r="2.35"/><circle cx="177.4" cy="514.9" r="2.35"/><circle cx="206.9" cy="554.4" r="2.35"/><circle cx="192.7" cy="505.4" r="2.35"/><circle cx="152.6" cy="533.8" r="2.35"/><circle cx="225.1" cy="546.6" r="2.35"/><circle cx="175.8" cy="552.4" r="2.35"/><circle cx="171.9" cy="575.2" r="2.35"/><circle cx="152.3" cy="562.3" r="2.35"/><circle cx="140.1" cy="561.4" r="2.35"/><circle cx="234.2" cy="518.5" r="2.35"/><circle cx="165.2" cy="553.2" r="2.35"/><circle cx="177.3" cy="550.0" r="2.35"/><circle cx="151.4" cy="507.0" r="2.35"/><circle cx="157.2" cy="530.1" r="2.35"/><circle cx="197.1" cy="557.8" r="2.35"/><circle cx="166.7" cy="511.4" r="2.35"/><circle cx="162.3" cy="517.5" r="2.35"/><circle cx="188.0" cy="521.9" r="2.35"/><circle cx="147.8" cy="526.1" r="2.35"/><circle cx="215.8" cy="508.6" r="2.35"/><circle cx="223.2" cy="552.8" r="2.35"/><circle cx="231.0" cy="506.3" r="2.35"/><circle cx="222.4" cy="535.8" r="2.35"/><circle cx="184.6" cy="504.1" r="2.35"/><circle cx="176.9" cy="575.1" r="2.35"/><circle cx="142.2" cy="542.0" r="2.35"/><circle cx="215.4" cy="549.5" r="2.35"/><circle cx="166.2" cy="552.0" r="2.35"/><circle cx="210.6" cy="549.4" r="2.35"/><circle cx="147.9" cy="506.9" r="2.35"/><circle cx="150.3" cy="519.3" r="2.35"/><circle cx="141.6" cy="547.4" r="2.35"/><circle cx="183.9" cy="586.4" r="2.35"/><circle cx="229.4" cy="524.8" r="2.35"/><circle cx="222.7" cy="558.6" r="2.35"/><circle cx="206.1" cy="530.1" r="2.35"/><circle cx="161.8" cy="550.1" r="2.35"/><circle cx="151.7" cy="559.7" r="2.35"/><circle cx="210.3" cy="512.3" r="2.35"/><circle cx="170.6" cy="573.8" r="2.35"/><circle cx="143.3" cy="564.5" r="2.35"/><circle cx="160.7" cy="520.4" r="2.35"/><circle cx="164.2" cy="573.7" r="2.35"/><circle cx="172.1" cy="519.0" r="2.35"/><circle cx="171.9" cy="560.9" r="2.35"/><circle cx="225.9" cy="534.0" r="2.35"/><circle cx="162.5" cy="530.8" r="2.35"/><circle cx="136.1" cy="549.6" r="2.35"/><circle cx="203.4" cy="531.4" r="2.35"/><circle cx="158.9" cy="567.7" r="2.35"/><circle cx="215.1" cy="537.6" r="2.35"/><circle cx="135.6" cy="543.1" r="2.35"/><circle cx="214.5" cy="566.0" r="2.35"/><circle cx="177.6" cy="538.4" r="2.35"/><circle cx="131.0" cy="506.9" r="2.35"/><circle cx="166.9" cy="559.2" r="2.35"/><circle cx="157.9" cy="572.2" r="2.35"/><circle cx="160.4" cy="559.6" r="2.35"/><circle cx="135.5" cy="521.8" r="2.35"/><circle cx="185.5" cy="556.4" r="2.35"/><circle cx="141.6" cy="538.2" r="2.35"/><circle cx="165.8" cy="562.7" r="2.35"/><circle cx="231.3" cy="514.6" r="2.35"/><circle cx="209.4" cy="522.1" r="2.35"/><circle cx="165.7" cy="539.8" r="2.35"/><circle cx="198.6" cy="579.2" r="2.35"/><circle cx="208.9" cy="570.7" r="2.35"/><circle cx="162.4" cy="512.9" r="2.35"/><circle cx="206.8" cy="564.4" r="2.35"/><circle cx="190.6" cy="505.6" r="2.35"/><circle cx="147.7" cy="559.0" r="2.35"/><circle cx="192.0" cy="543.9" r="2.35"/><circle cx="223.4" cy="505.7" r="2.35"/><circle cx="162.3" cy="507.5" r="2.35"/><circle cx="131.4" cy="516.9" r="2.35"/><circle cx="197.1" cy="573.3" r="2.35"/><circle cx="186.1" cy="543.1" r="2.35"/><circle cx="210.5" cy="505.1" r="2.35"/><circle cx="196.1" cy="556.0" r="2.35"/><circle cx="233.0" cy="522.9" r="2.35"/><circle cx="198.7" cy="527.1" r="2.35"/><circle cx="178.0" cy="570.6" r="2.35"/><circle cx="194.0" cy="531.4" r="2.35"/><circle cx="221.5" cy="540.4" r="2.35"/><circle cx="140.2" cy="558.8" r="2.35"/><circle cx="215.9" cy="549.1" r="2.35"/><circle cx="223.6" cy="545.9" r="2.35"/><circle cx="188.5" cy="507.0" r="2.35"/><circle cx="220.4" cy="549.0" r="2.35"/><circle cx="161.7" cy="540.2" r="2.35"/><circle cx="131.6" cy="507.5" r="2.35"/><circle cx="206.8" cy="549.1" r="2.35"/><circle cx="208.3" cy="516.6" r="2.35"/><circle cx="139.2" cy="529.7" r="2.35"/><circle cx="162.7" cy="547.1" r="2.35"/><circle cx="157.9" cy="544.9" r="2.35"/><circle cx="221.9" cy="522.5" r="2.35"/><circle cx="146.4" cy="506.3" r="2.35"/><circle cx="221.0" cy="529.2" r="2.35"/><circle cx="143.5" cy="544.4" r="2.35"/><circle cx="210.2" cy="512.1" r="2.35"/><circle cx="230.7" cy="531.0" r="2.35"/><circle cx="170.3" cy="543.6" r="2.35"/><circle cx="142.1" cy="507.0" r="2.35"/><circle cx="160.7" cy="571.6" r="2.35"/><circle cx="172.4" cy="563.4" r="2.35"/><circle cx="154.5" cy="552.2" r="2.35"/><circle cx="166.7" cy="534.0" r="2.35"/><circle cx="203.9" cy="513.6" r="2.35"/><circle cx="175.4" cy="572.1" r="2.35"/><circle cx="227.3" cy="520.9" r="2.35"/><circle cx="223.5" cy="521.6" r="2.35"/><circle cx="137.6" cy="519.2" r="2.35"/><circle cx="206.1" cy="538.2" r="2.35"/><circle cx="165.5" cy="519.1" r="2.35"/><circle cx="139.7" cy="510.9" r="2.35"/><circle cx="151.0" cy="556.3" r="2.35"/><circle cx="177.2" cy="579.0" r="2.35"/><circle cx="210.2" cy="531.3" r="2.35"/><circle cx="82.3" cy="514.3" r="2.35"/><circle cx="96.0" cy="513.0" r="2.35"/><circle cx="105.3" cy="505.6" r="2.35"/><circle cx="109.0" cy="519.6" r="2.35"/><circle cx="110.9" cy="527.3" r="2.35"/><circle cx="112.7" cy="530.4" r="2.35"/><circle cx="109.0" cy="535.7" r="2.35"/><circle cx="105.3" cy="549.6" r="2.35"/><circle cx="118.3" cy="508.7" r="2.35"/><circle cx="115.2" cy="505.6" r="2.35"/><circle cx="118.3" cy="518.6" r="2.35"/><circle cx="119.5" cy="522.3" r="2.35"/><circle cx="123.9" cy="516.1" r="2.35"/><circle cx="123.3" cy="526.0" r="2.35"/><circle cx="124.5" cy="528.5" r="2.35"/><circle cx="125.7" cy="541.5" r="2.35"/><circle cx="125.5" cy="547.1" r="2.35"/><circle cx="128.8" cy="538.4" r="2.35"/><circle cx="131.9" cy="542.8" r="2.35"/><circle cx="134.4" cy="558.3" r="2.35"/><circle cx="133.8" cy="562.0" r="2.35"/><circle cx="242.7" cy="509.6" r="2.35"/><circle cx="249.3" cy="511.5" r="2.35"/><circle cx="252.3" cy="505.9" r="2.35"/><circle cx="256.0" cy="503.7" r="2.35"/><circle cx="262.6" cy="505.2" r="2.35"/><circle cx="265.5" cy="509.1" r="2.35"/><circle cx="268.5" cy="507.1" r="2.35"/><circle cx="262.6" cy="514.7" r="2.35"/><circle cx="267.5" cy="517.7" r="2.35"/><circle cx="242.4" cy="515.5" r="2.35"/><circle cx="246.0" cy="520.6" r="2.35"/><circle cx="251.5" cy="522.1" r="2.35"/><circle cx="250.8" cy="526.5" r="2.35"/><circle cx="244.2" cy="526.5" r="2.35"/><circle cx="246.4" cy="531.2" r="2.35"/><circle cx="259.6" cy="535.3" r="2.35"/><circle cx="253.8" cy="539.5" r="2.35"/><circle cx="249.3" cy="542.7" r="2.35"/><circle cx="249.8" cy="546.0" r="2.35"/><circle cx="243.4" cy="536.8" r="2.35"/><circle cx="240.5" cy="544.9" r="2.35"/><circle cx="236.8" cy="545.4" r="2.35"/><circle cx="237.6" cy="551.5" r="2.35"/><circle cx="243.9" cy="554.5" r="2.35"/><circle cx="231.7" cy="555.2" r="2.35"/><circle cx="229.5" cy="561.1" r="2.35"/><circle cx="208.8" cy="576.6" r="2.35"/><circle cx="214.0" cy="572.2" r="2.35"/><circle cx="218.4" cy="568.5" r="2.35"/></g>
<g fill="#c4c400" stroke="#868600" stroke-width="1.25"><circle cx="155.5" cy="496.2" r="2.35"/><circle cx="173.4" cy="486.4" r="2.35"/><circle cx="174.3" cy="501.2" r="2.35"/><circle cx="139.8" cy="497.8" r="2.35"/><circle cx="173.8" cy="442.0" r="2.35"/><circle cx="167.3" cy="474.2" r="2.35"/><circle cx="158.6" cy="503.5" r="2.35"/><circle cx="155.6" cy="470.0" r="2.35"/><circle cx="160.9" cy="487.0" r="2.35"/><circle cx="144.8" cy="481.9" r="2.35"/><circle cx="168.5" cy="482.9" r="2.35"/><circle cx="164.0" cy="498.5" r="2.35"/><circle cx="146.4" cy="475.5" r="2.35"/><circle cx="169.8" cy="492.0" r="2.35"/><circle cx="164.4" cy="498.8" r="2.35"/><circle cx="173.4" cy="495.5" r="2.35"/><circle cx="137.6" cy="487.0" r="2.35"/><circle cx="159.6" cy="465.8" r="2.35"/><circle cx="136.3" cy="500.7" r="2.35"/><circle cx="166.4" cy="484.6" r="2.35"/><circle cx="173.4" cy="502.0" r="2.35"/><circle cx="169.7" cy="503.4" r="2.35"/><circle cx="166.0" cy="494.1" r="2.35"/><circle cx="155.5" cy="499.0" r="2.35"/><circle cx="171.8" cy="495.1" r="2.35"/><circle cx="139.3" cy="488.1" r="2.35"/><circle cx="167.9" cy="459.3" r="2.35"/><circle cx="159.9" cy="471.7" r="2.35"/><circle cx="163.0" cy="481.7" r="2.35"/><circle cx="161.2" cy="494.4" r="2.35"/><circle cx="172.7" cy="495.8" r="2.35"/><circle cx="171.4" cy="452.8" r="2.35"/><circle cx="161.5" cy="503.5" r="2.35"/><circle cx="173.4" cy="502.6" r="2.35"/><circle cx="144.7" cy="496.9" r="2.35"/><circle cx="140.8" cy="476.0" r="2.35"/><circle cx="168.6" cy="503.2" r="2.35"/><circle cx="149.9" cy="502.7" r="2.35"/><circle cx="166.7" cy="474.6" r="2.35"/><circle cx="162.0" cy="503.4" r="2.35"/><circle cx="173.9" cy="471.1" r="2.35"/><circle cx="158.9" cy="488.4" r="2.35"/><circle cx="172.1" cy="485.3" r="2.35"/><circle cx="169.4" cy="486.7" r="2.35"/><circle cx="172.9" cy="486.8" r="2.35"/><circle cx="153.3" cy="493.9" r="2.35"/><circle cx="167.2" cy="500.1" r="2.35"/><circle cx="158.1" cy="489.5" r="2.35"/><circle cx="160.2" cy="503.2" r="2.35"/><circle cx="174.1" cy="464.6" r="2.35"/><circle cx="159.3" cy="473.7" r="2.35"/><circle cx="145.4" cy="497.8" r="2.35"/><circle cx="168.5" cy="498.5" r="2.35"/><circle cx="169.7" cy="486.1" r="2.35"/><circle cx="174.1" cy="494.6" r="2.35"/><circle cx="161.9" cy="497.3" r="2.35"/><circle cx="157.6" cy="491.6" r="2.35"/><circle cx="136.1" cy="500.4" r="2.35"/><circle cx="167.8" cy="486.9" r="2.35"/><circle cx="172.6" cy="481.6" r="2.35"/><circle cx="154.7" cy="464.8" r="2.35"/><circle cx="145.4" cy="464.0" r="2.35"/><circle cx="143.7" cy="483.8" r="2.35"/><circle cx="163.5" cy="469.6" r="2.35"/><circle cx="166.7" cy="500.9" r="2.35"/><circle cx="145.9" cy="502.0" r="2.35"/><circle cx="163.2" cy="476.2" r="2.35"/><circle cx="156.1" cy="466.8" r="2.35"/><circle cx="173.0" cy="482.5" r="2.35"/><circle cx="169.9" cy="484.5" r="2.35"/><circle cx="142.3" cy="472.1" r="2.35"/><circle cx="148.5" cy="476.2" r="2.35"/><circle cx="152.1" cy="470.3" r="2.35"/><circle cx="169.4" cy="494.0" r="2.35"/><circle cx="148.2" cy="489.5" r="2.35"/><circle cx="166.3" cy="484.7" r="2.35"/><circle cx="145.3" cy="492.3" r="2.35"/><circle cx="172.9" cy="494.0" r="2.35"/><circle cx="173.5" cy="491.9" r="2.35"/><circle cx="163.8" cy="492.2" r="2.35"/><circle cx="139.5" cy="494.7" r="2.35"/><circle cx="141.3" cy="473.5" r="2.35"/><circle cx="165.4" cy="496.7" r="2.35"/><circle cx="156.7" cy="502.6" r="2.35"/><circle cx="171.8" cy="490.3" r="2.35"/><circle cx="165.0" cy="485.6" r="2.35"/><circle cx="159.1" cy="492.5" r="2.35"/><circle cx="174.2" cy="468.3" r="2.35"/><circle cx="144.0" cy="498.0" r="2.35"/><circle cx="173.9" cy="478.4" r="2.35"/><circle cx="173.7" cy="482.8" r="2.35"/><circle cx="157.3" cy="494.3" r="2.35"/><circle cx="167.2" cy="485.0" r="2.35"/><circle cx="151.4" cy="465.0" r="2.35"/><circle cx="153.5" cy="492.8" r="2.35"/><circle cx="136.8" cy="498.6" r="2.35"/><circle cx="152.2" cy="481.7" r="2.35"/><circle cx="172.4" cy="497.4" r="2.35"/><circle cx="160.7" cy="490.1" r="2.35"/><circle cx="137.9" cy="499.7" r="2.35"/><circle cx="172.2" cy="475.3" r="2.35"/><circle cx="172.1" cy="486.8" r="2.35"/><circle cx="152.2" cy="479.7" r="2.35"/><circle cx="153.6" cy="478.7" r="2.35"/><circle cx="160.3" cy="488.7" r="2.35"/><circle cx="172.3" cy="495.7" r="2.35"/><circle cx="159.1" cy="503.8" r="2.35"/><circle cx="172.0" cy="478.4" r="2.35"/><circle cx="166.1" cy="497.4" r="2.35"/><circle cx="165.7" cy="496.3" r="2.35"/><circle cx="172.4" cy="503.3" r="2.35"/><circle cx="143.8" cy="494.1" r="2.35"/><circle cx="166.2" cy="488.0" r="2.35"/><circle cx="172.1" cy="482.7" r="2.35"/><circle cx="171.5" cy="484.8" r="2.35"/><circle cx="151.6" cy="489.8" r="2.35"/><circle cx="138.7" cy="489.5" r="2.35"/><circle cx="154.6" cy="499.6" r="2.35"/><circle cx="169.4" cy="494.1" r="2.35"/><circle cx="163.4" cy="498.3" r="2.35"/><circle cx="156.2" cy="494.0" r="2.35"/><circle cx="139.7" cy="480.2" r="2.35"/><circle cx="167.4" cy="491.1" r="2.35"/><circle cx="153.4" cy="492.2" r="2.35"/><circle cx="174.0" cy="470.1" r="2.35"/><circle cx="147.4" cy="497.0" r="2.35"/><circle cx="159.0" cy="440.0" r="2.35"/><circle cx="155.9" cy="480.7" r="2.35"/><circle cx="171.8" cy="473.2" r="2.35"/><circle cx="150.0" cy="455.6" r="2.35"/><circle cx="170.8" cy="493.6" r="2.35"/><circle cx="154.2" cy="486.0" r="2.35"/><circle cx="148.6" cy="478.2" r="2.35"/><circle cx="172.9" cy="498.0" r="2.35"/><circle cx="139.1" cy="489.4" r="2.35"/><circle cx="141.4" cy="469.8" r="2.35"/><circle cx="174.0" cy="502.9" r="2.35"/><circle cx="154.4" cy="491.2" r="2.35"/><circle cx="147.1" cy="479.0" r="2.35"/><circle cx="172.0" cy="495.2" r="2.35"/><circle cx="162.6" cy="493.5" r="2.35"/><circle cx="173.5" cy="494.7" r="2.35"/><circle cx="174.5" cy="495.1" r="2.35"/><circle cx="159.6" cy="488.6" r="2.35"/><circle cx="169.3" cy="489.7" r="2.35"/><circle cx="151.5" cy="489.4" r="2.35"/><circle cx="155.2" cy="459.3" r="2.35"/><circle cx="144.6" cy="488.6" r="2.35"/><circle cx="141.6" cy="496.3" r="2.35"/><circle cx="171.3" cy="481.5" r="2.35"/><circle cx="172.8" cy="500.7" r="2.35"/><circle cx="173.1" cy="471.2" r="2.35"/><circle cx="148.4" cy="448.3" r="2.35"/><circle cx="140.2" cy="490.5" r="2.35"/><circle cx="173.1" cy="502.9" r="2.35"/><circle cx="156.5" cy="493.1" r="2.35"/><circle cx="141.1" cy="497.8" r="2.35"/><circle cx="172.0" cy="492.6" r="2.35"/><circle cx="159.3" cy="496.3" r="2.35"/><circle cx="160.5" cy="496.4" r="2.35"/><circle cx="170.6" cy="500.2" r="2.35"/><circle cx="164.3" cy="476.4" r="2.35"/><circle cx="170.1" cy="500.5" r="2.35"/><circle cx="162.5" cy="493.1" r="2.35"/><circle cx="147.7" cy="484.9" r="2.35"/><circle cx="155.3" cy="489.4" r="2.35"/><circle cx="148.5" cy="499.2" r="2.35"/><circle cx="165.6" cy="475.7" r="2.35"/><circle cx="168.7" cy="497.8" r="2.35"/><circle cx="172.8" cy="500.2" r="2.35"/><circle cx="172.4" cy="488.0" r="2.35"/><circle cx="150.9" cy="499.3" r="2.35"/><circle cx="156.8" cy="476.1" r="2.35"/><circle cx="155.2" cy="494.6" r="2.35"/><circle cx="167.2" cy="501.2" r="2.35"/><circle cx="161.8" cy="488.8" r="2.35"/><circle cx="173.9" cy="461.7" r="2.35"/><circle cx="174.3" cy="479.4" r="2.35"/><circle cx="168.5" cy="494.5" r="2.35"/><circle cx="167.5" cy="489.9" r="2.35"/><circle cx="171.3" cy="500.8" r="2.35"/><circle cx="173.3" cy="489.0" r="2.35"/><circle cx="163.4" cy="483.9" r="2.35"/><circle cx="141.6" cy="498.7" r="2.35"/><circle cx="167.2" cy="488.3" r="2.35"/><circle cx="173.1" cy="496.7" r="2.35"/><circle cx="162.0" cy="480.5" r="2.35"/><circle cx="174.3" cy="470.2" r="2.35"/><circle cx="136.8" cy="500.8" r="2.35"/><circle cx="142.1" cy="480.7" r="2.35"/><circle cx="137.2" cy="495.5" r="2.35"/><circle cx="165.6" cy="491.2" r="2.35"/><circle cx="165.4" cy="491.3" r="2.35"/><circle cx="146.3" cy="491.6" r="2.35"/><circle cx="169.2" cy="466.2" r="2.35"/><circle cx="171.0" cy="491.3" r="2.35"/><circle cx="172.9" cy="475.6" r="2.35"/><circle cx="143.2" cy="466.0" r="2.35"/><circle cx="170.2" cy="471.7" r="2.35"/><circle cx="160.4" cy="488.3" r="2.35"/><circle cx="157.6" cy="461.8" r="2.35"/><circle cx="162.6" cy="501.4" r="2.35"/><circle cx="174.6" cy="495.2" r="2.35"/><circle cx="153.9" cy="500.8" r="2.35"/><circle cx="137.5" cy="490.5" r="2.35"/><circle cx="162.3" cy="500.9" r="2.35"/><circle cx="156.4" cy="462.9" r="2.35"/><circle cx="150.8" cy="501.5" r="2.35"/><circle cx="148.7" cy="502.8" r="2.35"/><circle cx="173.7" cy="494.2" r="2.35"/><circle cx="156.3" cy="484.6" r="2.35"/><circle cx="165.1" cy="446.0" r="2.35"/><circle cx="165.6" cy="485.9" r="2.35"/><circle cx="136.0" cy="499.1" r="2.35"/><circle cx="151.5" cy="492.7" r="2.35"/><circle cx="163.7" cy="495.1" r="2.35"/><circle cx="155.5" cy="484.1" r="2.35"/><circle cx="172.3" cy="501.5" r="2.35"/><circle cx="169.9" cy="431.0" r="2.35"/><circle cx="163.8" cy="495.4" r="2.35"/><circle cx="158.0" cy="493.4" r="2.35"/><circle cx="150.8" cy="494.4" r="2.35"/><circle cx="174.1" cy="491.0" r="2.35"/><circle cx="174.1" cy="487.4" r="2.35"/><circle cx="167.8" cy="492.8" r="2.35"/><circle cx="166.5" cy="498.5" r="2.35"/><circle cx="159.0" cy="486.9" r="2.35"/><circle cx="166.4" cy="476.7" r="2.35"/><circle cx="163.7" cy="492.8" r="2.35"/><circle cx="163.4" cy="494.5" r="2.35"/><circle cx="172.7" cy="488.2" r="2.35"/><circle cx="173.7" cy="503.6" r="2.35"/><circle cx="141.9" cy="501.8" r="2.35"/><circle cx="172.5" cy="495.3" r="2.35"/><circle cx="170.2" cy="491.9" r="2.35"/><circle cx="172.5" cy="462.8" r="2.35"/><circle cx="172.1" cy="496.8" r="2.35"/><circle cx="152.7" cy="501.4" r="2.35"/><circle cx="173.6" cy="484.8" r="2.35"/><circle cx="136.1" cy="501.3" r="2.35"/><circle cx="140.6" cy="474.1" r="2.35"/><circle cx="159.6" cy="484.8" r="2.35"/><circle cx="164.7" cy="483.8" r="2.35"/><circle cx="162.7" cy="480.3" r="2.35"/><circle cx="164.0" cy="481.2" r="2.35"/><circle cx="173.1" cy="486.9" r="2.35"/><circle cx="174.5" cy="488.9" r="2.35"/><circle cx="174.3" cy="497.5" r="2.35"/><circle cx="143.8" cy="485.5" r="2.35"/><circle cx="167.9" cy="497.0" r="2.35"/><circle cx="162.0" cy="498.5" r="2.35"/><circle cx="161.5" cy="490.4" r="2.35"/><circle cx="139.7" cy="501.4" r="2.35"/><circle cx="153.6" cy="463.6" r="2.35"/><circle cx="151.7" cy="489.3" r="2.35"/><circle cx="149.5" cy="484.5" r="2.35"/><circle cx="166.5" cy="500.2" r="2.35"/><circle cx="169.0" cy="500.7" r="2.35"/><circle cx="162.1" cy="479.8" r="2.35"/><circle cx="163.6" cy="482.8" r="2.35"/><circle cx="169.3" cy="486.5" r="2.35"/><circle cx="164.8" cy="496.2" r="2.35"/><circle cx="141.8" cy="495.1" r="2.35"/><circle cx="167.7" cy="478.5" r="2.35"/><circle cx="172.6" cy="481.0" r="2.35"/><circle cx="163.4" cy="497.2" r="2.35"/><circle cx="174.3" cy="472.4" r="2.35"/><circle cx="153.9" cy="460.1" r="2.35"/><circle cx="174.0" cy="484.2" r="2.35"/><circle cx="160.8" cy="489.1" r="2.35"/><circle cx="170.4" cy="479.0" r="2.35"/><circle cx="163.3" cy="502.9" r="2.35"/><circle cx="173.9" cy="495.1" r="2.35"/><circle cx="162.2" cy="484.1" r="2.35"/><circle cx="149.9" cy="486.0" r="2.35"/><circle cx="174.6" cy="464.0" r="2.35"/><circle cx="137.9" cy="492.6" r="2.35"/><circle cx="141.7" cy="494.3" r="2.35"/><circle cx="163.8" cy="489.5" r="2.35"/><circle cx="168.6" cy="491.7" r="2.35"/><circle cx="147.3" cy="483.0" r="2.35"/><circle cx="154.9" cy="490.2" r="2.35"/><circle cx="170.0" cy="493.7" r="2.35"/><circle cx="173.6" cy="471.4" r="2.35"/><circle cx="146.5" cy="470.8" r="2.35"/><circle cx="168.0" cy="487.3" r="2.35"/><circle cx="150.2" cy="502.2" r="2.35"/><circle cx="163.9" cy="490.8" r="2.35"/><circle cx="173.7" cy="487.2" r="2.35"/><circle cx="172.4" cy="488.9" r="2.35"/><circle cx="173.8" cy="499.6" r="2.35"/><circle cx="173.1" cy="490.6" r="2.35"/><circle cx="146.3" cy="450.9" r="2.35"/><circle cx="144.9" cy="482.2" r="2.35"/><circle cx="143.4" cy="483.0" r="2.35"/><circle cx="173.4" cy="502.6" r="2.35"/><circle cx="169.2" cy="496.8" r="2.35"/><circle cx="141.1" cy="501.3" r="2.35"/><circle cx="166.4" cy="478.5" r="2.35"/><circle cx="174.6" cy="482.7" r="2.35"/><circle cx="167.1" cy="473.6" r="2.35"/><circle cx="164.2" cy="502.8" r="2.35"/><circle cx="157.7" cy="481.1" r="2.35"/><circle cx="141.4" cy="493.4" r="2.35"/><circle cx="169.7" cy="488.8" r="2.35"/><circle cx="165.8" cy="497.9" r="2.35"/><circle cx="172.4" cy="488.7" r="2.35"/><circle cx="173.5" cy="477.3" r="2.35"/><circle cx="166.9" cy="493.2" r="2.35"/><circle cx="158.4" cy="478.8" r="2.35"/><circle cx="168.8" cy="463.3" r="2.35"/><circle cx="141.7" cy="491.7" r="2.35"/><circle cx="169.0" cy="496.7" r="2.35"/><circle cx="171.2" cy="491.5" r="2.35"/><circle cx="174.1" cy="498.5" r="2.35"/><circle cx="167.5" cy="501.7" r="2.35"/><circle cx="142.0" cy="501.3" r="2.35"/><circle cx="167.4" cy="490.0" r="2.35"/><circle cx="138.7" cy="482.7" r="2.35"/><circle cx="159.9" cy="462.2" r="2.35"/><circle cx="164.4" cy="484.4" r="2.35"/><circle cx="154.2" cy="476.6" r="2.35"/><circle cx="172.1" cy="491.4" r="2.35"/><circle cx="167.8" cy="501.0" r="2.35"/><circle cx="146.3" cy="491.7" r="2.35"/><circle cx="171.6" cy="496.1" r="2.35"/><circle cx="165.5" cy="486.3" r="2.35"/><circle cx="171.9" cy="484.6" r="2.35"/><circle cx="170.0" cy="486.5" r="2.35"/><circle cx="168.7" cy="492.5" r="2.35"/><circle cx="163.3" cy="498.4" r="2.35"/><circle cx="165.2" cy="489.9" r="2.35"/><circle cx="172.6" cy="497.3" r="2.35"/><circle cx="173.7" cy="485.1" r="2.35"/><circle cx="157.4" cy="472.6" r="2.35"/><circle cx="173.5" cy="494.2" r="2.35"/><circle cx="157.9" cy="503.1" r="2.35"/><circle cx="159.2" cy="479.1" r="2.35"/><circle cx="168.8" cy="467.9" r="2.35"/><circle cx="142.3" cy="497.3" r="2.35"/><circle cx="168.5" cy="503.2" r="2.35"/><circle cx="173.5" cy="476.2" r="2.35"/><circle cx="174.0" cy="460.2" r="2.35"/><circle cx="147.4" cy="489.6" r="2.35"/><circle cx="169.3" cy="479.2" r="2.35"/><circle cx="168.2" cy="473.0" r="2.35"/><circle cx="139.3" cy="493.7" r="2.35"/><circle cx="173.2" cy="494.6" r="2.35"/><circle cx="173.9" cy="489.9" r="2.35"/><circle cx="149.2" cy="457.7" r="2.35"/><circle cx="153.4" cy="476.8" r="2.35"/><circle cx="170.6" cy="479.2" r="2.35"/><circle cx="164.8" cy="490.1" r="2.35"/><circle cx="173.5" cy="479.0" r="2.35"/><circle cx="161.2" cy="444.1" r="2.35"/><circle cx="139.9" cy="503.8" r="2.35"/><circle cx="149.3" cy="462.6" r="2.35"/><circle cx="171.5" cy="470.5" r="2.35"/><circle cx="137.9" cy="500.7" r="2.35"/><circle cx="158.5" cy="496.3" r="2.35"/><circle cx="151.5" cy="502.0" r="2.35"/><circle cx="159.8" cy="484.3" r="2.35"/><circle cx="159.4" cy="491.0" r="2.35"/><circle cx="165.7" cy="500.2" r="2.35"/><circle cx="173.4" cy="479.2" r="2.35"/><circle cx="161.4" cy="486.9" r="2.35"/><circle cx="163.7" cy="485.9" r="2.35"/><circle cx="146.3" cy="495.8" r="2.35"/><circle cx="151.7" cy="491.3" r="2.35"/><circle cx="172.5" cy="481.7" r="2.35"/><circle cx="174.2" cy="493.6" r="2.35"/><circle cx="159.6" cy="487.5" r="2.35"/><circle cx="156.8" cy="483.8" r="2.35"/><circle cx="172.2" cy="484.4" r="2.35"/><circle cx="157.3" cy="478.3" r="2.35"/><circle cx="149.1" cy="465.3" r="2.35"/><circle cx="173.6" cy="452.8" r="2.35"/><circle cx="149.2" cy="490.5" r="2.35"/><circle cx="157.2" cy="499.8" r="2.35"/><circle cx="149.5" cy="461.5" r="2.35"/><circle cx="171.6" cy="500.5" r="2.35"/><circle cx="158.3" cy="482.2" r="2.35"/><circle cx="170.5" cy="499.8" r="2.35"/><circle cx="170.1" cy="490.3" r="2.35"/><circle cx="172.1" cy="465.3" r="2.35"/><circle cx="170.0" cy="481.1" r="2.35"/><circle cx="155.8" cy="479.6" r="2.35"/><circle cx="165.5" cy="477.4" r="2.35"/><circle cx="174.8" cy="496.6" r="2.35"/><circle cx="164.5" cy="487.0" r="2.35"/><circle cx="170.2" cy="487.0" r="2.35"/><circle cx="170.1" cy="487.0" r="2.35"/><circle cx="162.3" cy="497.1" r="2.35"/><circle cx="173.4" cy="502.2" r="2.35"/><circle cx="146.6" cy="499.7" r="2.35"/><circle cx="164.0" cy="503.8" r="2.35"/><circle cx="162.9" cy="477.9" r="2.35"/><circle cx="173.9" cy="472.5" r="2.35"/><circle cx="171.7" cy="478.2" r="2.35"/><circle cx="172.6" cy="473.5" r="2.35"/><circle cx="174.5" cy="483.0" r="2.35"/><circle cx="168.0" cy="485.4" r="2.35"/><circle cx="172.4" cy="499.2" r="2.35"/><circle cx="171.4" cy="490.0" r="2.35"/><circle cx="166.3" cy="494.9" r="2.35"/><circle cx="172.2" cy="495.2" r="2.35"/><circle cx="168.9" cy="489.9" r="2.35"/><circle cx="173.9" cy="487.1" r="2.35"/><circle cx="155.4" cy="481.1" r="2.35"/><circle cx="168.3" cy="491.5" r="2.35"/><circle cx="141.6" cy="484.0" r="2.35"/><circle cx="169.4" cy="484.1" r="2.35"/><circle cx="156.1" cy="493.6" r="2.35"/><circle cx="164.5" cy="501.0" r="2.35"/><circle cx="146.9" cy="485.9" r="2.35"/><circle cx="173.6" cy="485.4" r="2.35"/><circle cx="169.4" cy="488.6" r="2.35"/><circle cx="141.1" cy="502.9" r="2.35"/><circle cx="173.0" cy="471.2" r="2.35"/><circle cx="168.1" cy="491.2" r="2.35"/><circle cx="173.4" cy="478.3" r="2.35"/><circle cx="169.3" cy="493.9" r="2.35"/><circle cx="172.7" cy="465.0" r="2.35"/><circle cx="173.7" cy="482.1" r="2.35"/><circle cx="173.2" cy="483.2" r="2.35"/><circle cx="137.7" cy="486.9" r="2.35"/><circle cx="173.4" cy="486.8" r="2.35"/><circle cx="157.1" cy="491.1" r="2.35"/><circle cx="157.4" cy="486.2" r="2.35"/><circle cx="145.5" cy="503.7" r="2.35"/><circle cx="162.7" cy="489.6" r="2.35"/><circle cx="150.0" cy="483.4" r="2.35"/><circle cx="158.4" cy="483.4" r="2.35"/><circle cx="173.1" cy="491.0" r="2.35"/><circle cx="173.7" cy="486.1" r="2.35"/><circle cx="172.0" cy="494.9" r="2.35"/><circle cx="174.3" cy="502.0" r="2.35"/><circle cx="167.2" cy="496.4" r="2.35"/><circle cx="171.7" cy="494.2" r="2.35"/><circle cx="167.1" cy="501.0" r="2.35"/><circle cx="141.4" cy="483.7" r="2.35"/><circle cx="141.4" cy="488.2" r="2.35"/><circle cx="165.8" cy="474.8" r="2.35"/><circle cx="172.8" cy="497.4" r="2.35"/><circle cx="173.7" cy="479.5" r="2.35"/><circle cx="171.5" cy="466.1" r="2.35"/><circle cx="172.7" cy="496.4" r="2.35"/><circle cx="150.2" cy="480.9" r="2.35"/><circle cx="168.0" cy="467.4" r="2.35"/><circle cx="156.2" cy="468.4" r="2.35"/><circle cx="166.0" cy="495.7" r="2.35"/><circle cx="146.7" cy="499.9" r="2.35"/><circle cx="173.3" cy="492.6" r="2.35"/><circle cx="162.6" cy="501.4" r="2.35"/><circle cx="152.5" cy="488.1" r="2.35"/><circle cx="165.9" cy="479.6" r="2.35"/><circle cx="167.4" cy="484.7" r="2.35"/><circle cx="167.2" cy="492.8" r="2.35"/><circle cx="161.1" cy="495.0" r="2.35"/><circle cx="154.2" cy="502.2" r="2.35"/><circle cx="155.7" cy="498.9" r="2.35"/><circle cx="166.3" cy="490.9" r="2.35"/><circle cx="164.9" cy="489.1" r="2.35"/><circle cx="137.7" cy="501.0" r="2.35"/><circle cx="168.5" cy="472.4" r="2.35"/><circle cx="171.2" cy="496.7" r="2.35"/><circle cx="173.2" cy="479.0" r="2.35"/><circle cx="153.3" cy="492.4" r="2.35"/><circle cx="143.4" cy="483.8" r="2.35"/><circle cx="173.2" cy="500.3" r="2.35"/><circle cx="157.3" cy="486.3" r="2.35"/><circle cx="165.7" cy="502.7" r="2.35"/><circle cx="168.7" cy="475.4" r="2.35"/><circle cx="155.0" cy="503.0" r="2.35"/><circle cx="153.7" cy="489.7" r="2.35"/><circle cx="149.9" cy="476.8" r="2.35"/><circle cx="169.3" cy="470.6" r="2.35"/><circle cx="146.0" cy="478.1" r="2.35"/><circle cx="173.3" cy="479.0" r="2.35"/><circle cx="164.9" cy="502.6" r="2.35"/><circle cx="160.6" cy="494.0" r="2.35"/><circle cx="160.0" cy="494.6" r="2.35"/><circle cx="144.5" cy="502.1" r="2.35"/><circle cx="171.1" cy="481.6" r="2.35"/><circle cx="151.6" cy="492.2" r="2.35"/><circle cx="161.2" cy="493.5" r="2.35"/><circle cx="165.0" cy="502.0" r="2.35"/><circle cx="138.8" cy="503.6" r="2.35"/><circle cx="168.8" cy="487.2" r="2.35"/><circle cx="173.5" cy="500.6" r="2.35"/><circle cx="173.2" cy="469.2" r="2.35"/><circle cx="171.6" cy="484.2" r="2.35"/><circle cx="150.9" cy="501.5" r="2.35"/><circle cx="141.5" cy="493.1" r="2.35"/><circle cx="145.5" cy="499.0" r="2.35"/><circle cx="152.7" cy="455.7" r="2.35"/><circle cx="154.1" cy="479.7" r="2.35"/><circle cx="154.2" cy="492.8" r="2.35"/><circle cx="161.2" cy="478.9" r="2.35"/><circle cx="160.8" cy="491.1" r="2.35"/><circle cx="140.2" cy="494.6" r="2.35"/><circle cx="160.2" cy="484.7" r="2.35"/><circle cx="174.1" cy="503.1" r="2.35"/><circle cx="160.0" cy="469.9" r="2.35"/><circle cx="153.3" cy="493.8" r="2.35"/><circle cx="161.1" cy="489.0" r="2.35"/><circle cx="164.1" cy="501.2" r="2.35"/><circle cx="163.8" cy="499.4" r="2.35"/><circle cx="167.0" cy="466.9" r="2.35"/><circle cx="174.0" cy="485.7" r="2.35"/><circle cx="158.1" cy="479.6" r="2.35"/><circle cx="160.0" cy="491.9" r="2.35"/><circle cx="168.4" cy="495.3" r="2.35"/><circle cx="171.7" cy="498.6" r="2.35"/><circle cx="154.3" cy="478.9" r="2.35"/><circle cx="158.4" cy="498.0" r="2.35"/><circle cx="164.6" cy="491.5" r="2.35"/><circle cx="161.9" cy="496.3" r="2.35"/><circle cx="159.4" cy="489.8" r="2.35"/><circle cx="143.6" cy="488.7" r="2.35"/><circle cx="168.1" cy="450.3" r="2.35"/><circle cx="139.2" cy="499.1" r="2.35"/><circle cx="170.6" cy="498.7" r="2.35"/><circle cx="141.1" cy="485.1" r="2.35"/><circle cx="174.3" cy="500.4" r="2.35"/><circle cx="167.3" cy="493.7" r="2.35"/><circle cx="159.8" cy="501.5" r="2.35"/><circle cx="173.8" cy="499.2" r="2.35"/><circle cx="144.7" cy="457.1" r="2.35"/><circle cx="167.3" cy="503.5" r="2.35"/><circle cx="166.8" cy="477.2" r="2.35"/><circle cx="150.5" cy="484.7" r="2.35"/><circle cx="173.6" cy="480.3" r="2.35"/><circle cx="154.3" cy="496.7" r="2.35"/><circle cx="145.1" cy="481.6" r="2.35"/><circle cx="141.9" cy="486.0" r="2.35"/><circle cx="146.1" cy="489.4" r="2.35"/><circle cx="174.2" cy="468.4" r="2.35"/><circle cx="159.4" cy="502.9" r="2.35"/><circle cx="154.5" cy="487.3" r="2.35"/><circle cx="140.4" cy="499.0" r="2.35"/><circle cx="162.5" cy="461.7" r="2.35"/><circle cx="156.8" cy="483.0" r="2.35"/><circle cx="164.6" cy="496.4" r="2.35"/><circle cx="158.3" cy="488.8" r="2.35"/><circle cx="154.2" cy="502.2" r="2.35"/><circle cx="171.0" cy="501.6" r="2.35"/><circle cx="146.9" cy="490.5" r="2.35"/><circle cx="146.2" cy="498.4" r="2.35"/><circle cx="164.5" cy="466.5" r="2.35"/><circle cx="172.6" cy="501.4" r="2.35"/><circle cx="157.9" cy="492.9" r="2.35"/><circle cx="159.6" cy="503.8" r="2.35"/><circle cx="141.3" cy="492.5" r="2.35"/><circle cx="173.8" cy="501.1" r="2.35"/><circle cx="173.3" cy="477.3" r="2.35"/><circle cx="173.6" cy="476.2" r="2.35"/><circle cx="166.1" cy="494.8" r="2.35"/><circle cx="170.9" cy="481.5" r="2.35"/><circle cx="166.9" cy="478.7" r="2.35"/><circle cx="162.4" cy="503.9" r="2.35"/><circle cx="171.0" cy="500.6" r="2.35"/><circle cx="174.2" cy="456.9" r="2.35"/><circle cx="143.6" cy="492.4" r="2.35"/><circle cx="171.4" cy="482.9" r="2.35"/><circle cx="161.1" cy="451.6" r="2.35"/><circle cx="163.6" cy="478.9" r="2.35"/><circle cx="168.1" cy="499.8" r="2.35"/><circle cx="172.6" cy="499.3" r="2.35"/><circle cx="167.4" cy="482.4" r="2.35"/><circle cx="160.4" cy="502.4" r="2.35"/><circle cx="139.1" cy="499.6" r="2.35"/><circle cx="170.7" cy="493.5" r="2.35"/><circle cx="148.0" cy="482.7" r="2.35"/><circle cx="154.5" cy="489.5" r="2.35"/><circle cx="167.1" cy="474.5" r="2.35"/><circle cx="168.1" cy="491.9" r="2.35"/><circle cx="165.3" cy="488.9" r="2.35"/><circle cx="139.5" cy="502.6" r="2.35"/><circle cx="159.1" cy="491.1" r="2.35"/><circle cx="174.8" cy="486.5" r="2.35"/><circle cx="174.2" cy="449.1" r="2.35"/><circle cx="158.3" cy="439.4" r="2.35"/><circle cx="144.7" cy="499.6" r="2.35"/><circle cx="161.7" cy="497.5" r="2.35"/><circle cx="157.3" cy="465.1" r="2.35"/><circle cx="174.5" cy="486.9" r="2.35"/><circle cx="171.2" cy="424.5" r="2.35"/><circle cx="156.9" cy="423.5" r="2.35"/><circle cx="152.1" cy="488.1" r="2.35"/><circle cx="150.9" cy="438.2" r="2.35"/><circle cx="168.9" cy="448.3" r="2.35"/><circle cx="172.5" cy="496.2" r="2.35"/><circle cx="159.7" cy="487.7" r="2.35"/><circle cx="169.1" cy="497.4" r="2.35"/><circle cx="173.6" cy="436.9" r="2.35"/><circle cx="148.6" cy="471.7" r="2.35"/><circle cx="165.1" cy="482.1" r="2.35"/><circle cx="158.8" cy="498.4" r="2.35"/><circle cx="149.4" cy="494.4" r="2.35"/><circle cx="168.7" cy="472.0" r="2.35"/><circle cx="164.0" cy="427.8" r="2.35"/><circle cx="173.6" cy="466.0" r="2.35"/><circle cx="163.6" cy="449.8" r="2.35"/><circle cx="155.7" cy="457.2" r="2.35"/><circle cx="158.6" cy="503.8" r="2.35"/><circle cx="164.2" cy="483.2" r="2.35"/><circle cx="171.8" cy="479.8" r="2.35"/><circle cx="169.3" cy="501.3" r="2.35"/><circle cx="147.0" cy="494.3" r="2.35"/><circle cx="170.8" cy="428.3" r="2.35"/><circle cx="152.1" cy="482.1" r="2.35"/><circle cx="168.6" cy="478.8" r="2.35"/><circle cx="161.1" cy="455.0" r="2.35"/><circle cx="174.3" cy="501.0" r="2.35"/><circle cx="163.7" cy="491.0" r="2.35"/><circle cx="165.6" cy="466.5" r="2.35"/><circle cx="164.0" cy="452.3" r="2.35"/><circle cx="144.2" cy="484.0" r="2.35"/><circle cx="172.3" cy="486.6" r="2.35"/><circle cx="174.5" cy="498.2" r="2.35"/><circle cx="140.4" cy="495.5" r="2.35"/><circle cx="156.2" cy="457.4" r="2.35"/><circle cx="170.6" cy="438.0" r="2.35"/><circle cx="170.9" cy="497.9" r="2.35"/><circle cx="173.4" cy="491.8" r="2.35"/><circle cx="170.7" cy="444.1" r="2.35"/><circle cx="174.0" cy="491.7" r="2.35"/><circle cx="145.9" cy="486.3" r="2.35"/><circle cx="151.4" cy="444.8" r="2.35"/><circle cx="165.2" cy="445.5" r="2.35"/><circle cx="170.5" cy="470.0" r="2.35"/><circle cx="154.3" cy="503.7" r="2.35"/><circle cx="139.2" cy="500.8" r="2.35"/><circle cx="173.5" cy="502.0" r="2.35"/><circle cx="174.4" cy="502.0" r="2.35"/><circle cx="159.9" cy="440.1" r="2.35"/><circle cx="174.3" cy="496.0" r="2.35"/><circle cx="159.1" cy="439.4" r="2.35"/><circle cx="166.7" cy="489.7" r="2.35"/><circle cx="136.1" cy="500.6" r="2.35"/><circle cx="169.2" cy="472.4" r="2.35"/><circle cx="167.7" cy="451.3" r="2.35"/><circle cx="173.5" cy="498.8" r="2.35"/><circle cx="159.6" cy="424.8" r="2.35"/><circle cx="136.7" cy="494.1" r="2.35"/><circle cx="162.0" cy="433.3" r="2.35"/><circle cx="172.8" cy="465.8" r="2.35"/><circle cx="173.2" cy="501.4" r="2.35"/><circle cx="171.1" cy="437.2" r="2.35"/><circle cx="152.8" cy="469.9" r="2.35"/><circle cx="159.7" cy="467.8" r="2.35"/><circle cx="140.3" cy="483.7" r="2.35"/><circle cx="154.7" cy="494.0" r="2.35"/><circle cx="152.8" cy="499.6" r="2.35"/><circle cx="160.4" cy="499.9" r="2.35"/><circle cx="163.2" cy="464.9" r="2.35"/><circle cx="173.1" cy="496.7" r="2.35"/><circle cx="148.3" cy="493.8" r="2.35"/><circle cx="166.4" cy="453.6" r="2.35"/><circle cx="168.1" cy="472.3" r="2.35"/><circle cx="148.2" cy="448.8" r="2.35"/><circle cx="170.6" cy="475.2" r="2.35"/><circle cx="166.0" cy="498.2" r="2.35"/><circle cx="169.7" cy="502.1" r="2.35"/><circle cx="142.5" cy="494.1" r="2.35"/><circle cx="171.7" cy="501.5" r="2.35"/><circle cx="172.9" cy="473.2" r="2.35"/><circle cx="159.0" cy="444.1" r="2.35"/><circle cx="173.3" cy="499.4" r="2.35"/><circle cx="152.1" cy="451.2" r="2.35"/><circle cx="174.1" cy="464.3" r="2.35"/><circle cx="141.2" cy="478.4" r="2.35"/><circle cx="159.8" cy="423.1" r="2.35"/><circle cx="174.4" cy="490.4" r="2.35"/><circle cx="174.1" cy="457.9" r="2.35"/><circle cx="168.4" cy="499.3" r="2.35"/><circle cx="168.2" cy="501.1" r="2.35"/><circle cx="174.6" cy="467.3" r="2.35"/><circle cx="168.6" cy="479.0" r="2.35"/><circle cx="160.8" cy="502.3" r="2.35"/><circle cx="160.6" cy="494.1" r="2.35"/><circle cx="158.9" cy="464.2" r="2.35"/><circle cx="166.4" cy="436.1" r="2.35"/><circle cx="173.6" cy="476.4" r="2.35"/><circle cx="155.2" cy="484.0" r="2.35"/><circle cx="167.6" cy="482.2" r="2.35"/><circle cx="161.0" cy="430.8" r="2.35"/><circle cx="151.2" cy="466.6" r="2.35"/><circle cx="174.6" cy="484.4" r="2.35"/><circle cx="151.8" cy="475.7" r="2.35"/><circle cx="152.0" cy="497.8" r="2.35"/><circle cx="171.6" cy="483.7" r="2.35"/><circle cx="169.7" cy="479.4" r="2.35"/><circle cx="144.2" cy="482.3" r="2.35"/><circle cx="173.4" cy="491.4" r="2.35"/><circle cx="174.1" cy="487.9" r="2.35"/><circle cx="174.5" cy="476.9" r="2.35"/><circle cx="163.5" cy="454.3" r="2.35"/><circle cx="172.1" cy="491.9" r="2.35"/><circle cx="154.5" cy="475.5" r="2.35"/><circle cx="169.4" cy="489.8" r="2.35"/><circle cx="144.9" cy="474.8" r="2.35"/><circle cx="174.2" cy="502.0" r="2.35"/><circle cx="173.9" cy="496.4" r="2.35"/><circle cx="137.8" cy="496.4" r="2.35"/><circle cx="166.7" cy="460.1" r="2.35"/><circle cx="162.5" cy="486.5" r="2.35"/><circle cx="160.9" cy="442.9" r="2.35"/><circle cx="172.2" cy="490.2" r="2.35"/><circle cx="174.7" cy="499.5" r="2.35"/><circle cx="165.2" cy="480.4" r="2.35"/><circle cx="163.1" cy="496.7" r="2.35"/><circle cx="167.2" cy="450.4" r="2.35"/><circle cx="170.1" cy="486.9" r="2.35"/><circle cx="171.7" cy="448.1" r="2.35"/><circle cx="160.8" cy="485.4" r="2.35"/><circle cx="168.9" cy="499.3" r="2.35"/><circle cx="155.8" cy="452.2" r="2.35"/><circle cx="172.4" cy="485.5" r="2.35"/><circle cx="171.8" cy="456.9" r="2.35"/><circle cx="145.8" cy="480.9" r="2.35"/><circle cx="173.8" cy="470.6" r="2.35"/><circle cx="159.3" cy="498.8" r="2.35"/><circle cx="168.6" cy="445.3" r="2.35"/><circle cx="164.9" cy="474.9" r="2.35"/><circle cx="174.1" cy="459.3" r="2.35"/><circle cx="165.5" cy="452.2" r="2.35"/><circle cx="157.0" cy="457.0" r="2.35"/><circle cx="150.2" cy="457.5" r="2.35"/><circle cx="156.8" cy="483.2" r="2.35"/><circle cx="164.8" cy="494.6" r="2.35"/><circle cx="153.4" cy="484.1" r="2.35"/><circle cx="141.5" cy="473.1" r="2.35"/><circle cx="162.8" cy="451.6" r="2.35"/><circle cx="156.6" cy="486.7" r="2.35"/><circle cx="155.6" cy="460.7" r="2.35"/><circle cx="153.2" cy="454.6" r="2.35"/><circle cx="149.6" cy="477.1" r="2.35"/><circle cx="140.6" cy="487.5" r="2.35"/><circle cx="169.7" cy="466.0" r="2.35"/><circle cx="171.1" cy="437.9" r="2.35"/><circle cx="168.8" cy="494.0" r="2.35"/><circle cx="170.8" cy="496.4" r="2.35"/><circle cx="146.0" cy="489.5" r="2.35"/><circle cx="168.6" cy="503.7" r="2.35"/><circle cx="174.2" cy="480.6" r="2.35"/><circle cx="158.1" cy="480.4" r="2.35"/><circle cx="151.3" cy="476.3" r="2.35"/><circle cx="172.3" cy="483.3" r="2.35"/><circle cx="165.9" cy="464.8" r="2.35"/><circle cx="162.3" cy="422.5" r="2.35"/><circle cx="164.1" cy="420.0" r="2.35"/><circle cx="173.4" cy="459.6" r="2.35"/><circle cx="162.3" cy="464.2" r="2.35"/><circle cx="173.0" cy="503.6" r="2.35"/><circle cx="167.9" cy="485.8" r="2.35"/><circle cx="170.1" cy="501.0" r="2.35"/><circle cx="166.0" cy="469.6" r="2.35"/><circle cx="169.7" cy="496.5" r="2.35"/><circle cx="169.5" cy="461.0" r="2.35"/><circle cx="170.8" cy="480.4" r="2.35"/><circle cx="170.0" cy="460.5" r="2.35"/><circle cx="170.7" cy="470.7" r="2.35"/><circle cx="171.8" cy="487.3" r="2.35"/><circle cx="162.7" cy="498.1" r="2.35"/><circle cx="159.0" cy="500.9" r="2.35"/><circle cx="170.8" cy="462.6" r="2.35"/><circle cx="149.5" cy="460.5" r="2.35"/><circle cx="166.8" cy="487.1" r="2.35"/><circle cx="153.4" cy="495.9" r="2.35"/><circle cx="147.5" cy="486.3" r="2.35"/><circle cx="152.9" cy="499.8" r="2.35"/><circle cx="172.6" cy="496.3" r="2.35"/><circle cx="169.6" cy="501.4" r="2.35"/><circle cx="164.7" cy="498.4" r="2.35"/><circle cx="169.7" cy="498.7" r="2.35"/><circle cx="155.9" cy="474.6" r="2.35"/><circle cx="156.0" cy="478.3" r="2.35"/><circle cx="160.5" cy="436.1" r="2.35"/><circle cx="172.1" cy="457.4" r="2.35"/><circle cx="160.3" cy="470.9" r="2.35"/><circle cx="173.1" cy="484.6" r="2.35"/><circle cx="144.3" cy="472.3" r="2.35"/><circle cx="163.1" cy="421.0" r="2.35"/><circle cx="173.4" cy="468.5" r="2.35"/><circle cx="137.9" cy="487.4" r="2.35"/><circle cx="150.6" cy="498.5" r="2.35"/><circle cx="169.2" cy="502.3" r="2.35"/><circle cx="170.9" cy="460.1" r="2.35"/><circle cx="160.3" cy="455.4" r="2.35"/><circle cx="146.8" cy="491.5" r="2.35"/><circle cx="162.9" cy="476.5" r="2.35"/><circle cx="173.0" cy="434.6" r="2.35"/><circle cx="170.6" cy="491.1" r="2.35"/><circle cx="173.6" cy="487.6" r="2.35"/><circle cx="162.9" cy="433.8" r="2.35"/><circle cx="140.6" cy="501.3" r="2.35"/><circle cx="173.6" cy="491.5" r="2.35"/><circle cx="147.9" cy="500.7" r="2.35"/><circle cx="140.9" cy="474.5" r="2.35"/><circle cx="152.8" cy="463.3" r="2.35"/><circle cx="138.1" cy="487.3" r="2.35"/><circle cx="144.5" cy="462.1" r="2.35"/><circle cx="153.4" cy="466.6" r="2.35"/><circle cx="173.0" cy="493.3" r="2.35"/><circle cx="137.1" cy="498.6" r="2.35"/><circle cx="165.3" cy="433.1" r="2.35"/><circle cx="136.0" cy="497.8" r="2.35"/><circle cx="166.6" cy="499.2" r="2.35"/><circle cx="171.8" cy="483.1" r="2.35"/><circle cx="146.1" cy="476.2" r="2.35"/><circle cx="174.2" cy="441.3" r="2.35"/><circle cx="144.1" cy="480.7" r="2.35"/><circle cx="164.4" cy="500.6" r="2.35"/><circle cx="166.4" cy="498.9" r="2.35"/><circle cx="173.3" cy="482.9" r="2.35"/><circle cx="152.6" cy="499.9" r="2.35"/><circle cx="167.6" cy="487.0" r="2.35"/><circle cx="168.3" cy="440.3" r="2.35"/><circle cx="140.5" cy="490.3" r="2.35"/><circle cx="168.2" cy="482.3" r="2.35"/><circle cx="147.9" cy="470.5" r="2.35"/><circle cx="171.7" cy="476.1" r="2.35"/><circle cx="169.9" cy="463.5" r="2.35"/><circle cx="164.4" cy="490.0" r="2.35"/><circle cx="174.7" cy="471.6" r="2.35"/><circle cx="144.5" cy="475.4" r="2.35"/><circle cx="167.9" cy="490.1" r="2.35"/><circle cx="157.6" cy="502.2" r="2.35"/><circle cx="161.0" cy="430.4" r="2.35"/><circle cx="142.6" cy="475.5" r="2.35"/><circle cx="171.8" cy="486.7" r="2.35"/><circle cx="142.9" cy="460.4" r="2.35"/><circle cx="161.5" cy="432.0" r="2.35"/><circle cx="172.8" cy="428.2" r="2.35"/><circle cx="173.8" cy="501.5" r="2.35"/><circle cx="173.7" cy="423.0" r="2.35"/><circle cx="168.8" cy="490.1" r="2.35"/><circle cx="169.7" cy="503.1" r="2.35"/><circle cx="145.3" cy="479.4" r="2.35"/><circle cx="142.4" cy="463.7" r="2.35"/><circle cx="146.3" cy="475.2" r="2.35"/><circle cx="162.9" cy="454.2" r="2.35"/><circle cx="158.3" cy="476.7" r="2.35"/><circle cx="172.6" cy="484.1" r="2.35"/><circle cx="160.9" cy="499.5" r="2.35"/><circle cx="166.3" cy="449.7" r="2.35"/><circle cx="136.7" cy="497.4" r="2.35"/><circle cx="160.8" cy="501.9" r="2.35"/><circle cx="157.0" cy="476.5" r="2.35"/><circle cx="173.9" cy="486.8" r="2.35"/><circle cx="157.2" cy="470.1" r="2.35"/><circle cx="139.6" cy="492.1" r="2.35"/><circle cx="160.3" cy="457.5" r="2.35"/><circle cx="156.4" cy="480.6" r="2.35"/><circle cx="153.8" cy="488.0" r="2.35"/><circle cx="171.8" cy="486.2" r="2.35"/><circle cx="151.7" cy="483.0" r="2.35"/><circle cx="173.9" cy="494.8" r="2.35"/><circle cx="155.5" cy="478.5" r="2.35"/><circle cx="138.3" cy="493.5" r="2.35"/><circle cx="173.4" cy="417.3" r="2.35"/><circle cx="154.7" cy="463.7" r="2.35"/><circle cx="160.1" cy="500.8" r="2.35"/><circle cx="164.6" cy="478.5" r="2.35"/><circle cx="154.6" cy="464.4" r="2.35"/><circle cx="163.9" cy="447.0" r="2.35"/><circle cx="173.4" cy="497.4" r="2.35"/><circle cx="146.2" cy="476.7" r="2.35"/><circle cx="140.9" cy="494.9" r="2.35"/><circle cx="148.0" cy="439.4" r="2.35"/><circle cx="174.4" cy="499.7" r="2.35"/><circle cx="150.5" cy="462.0" r="2.35"/><circle cx="171.2" cy="432.7" r="2.35"/><circle cx="164.2" cy="496.6" r="2.35"/><circle cx="170.6" cy="492.5" r="2.35"/><circle cx="161.0" cy="486.1" r="2.35"/><circle cx="173.9" cy="499.5" r="2.35"/><circle cx="154.5" cy="492.4" r="2.35"/><circle cx="154.8" cy="485.6" r="2.35"/><circle cx="156.8" cy="432.0" r="2.35"/><circle cx="149.1" cy="467.1" r="2.35"/><circle cx="162.5" cy="481.2" r="2.35"/><circle cx="173.3" cy="487.0" r="2.35"/><circle cx="172.9" cy="435.5" r="2.35"/><circle cx="172.2" cy="418.9" r="2.35"/><circle cx="174.8" cy="491.1" r="2.35"/><circle cx="173.7" cy="479.9" r="2.35"/><circle cx="148.2" cy="502.5" r="2.35"/><circle cx="170.4" cy="485.5" r="2.35"/><circle cx="170.1" cy="443.0" r="2.35"/><circle cx="165.4" cy="501.6" r="2.35"/><circle cx="173.4" cy="486.7" r="2.35"/><circle cx="172.0" cy="449.1" r="2.35"/><circle cx="162.3" cy="493.0" r="2.35"/><circle cx="167.9" cy="500.3" r="2.35"/><circle cx="154.0" cy="472.1" r="2.35"/><circle cx="173.3" cy="493.8" r="2.35"/><circle cx="158.2" cy="495.1" r="2.35"/><circle cx="171.5" cy="431.2" r="2.35"/><circle cx="157.3" cy="474.3" r="2.35"/><circle cx="172.7" cy="500.4" r="2.35"/><circle cx="162.0" cy="457.4" r="2.35"/><circle cx="144.6" cy="470.9" r="2.35"/><circle cx="152.9" cy="485.9" r="2.35"/><circle cx="145.0" cy="493.4" r="2.35"/><circle cx="160.2" cy="503.4" r="2.35"/><circle cx="174.8" cy="487.1" r="2.35"/><circle cx="170.2" cy="469.5" r="2.35"/><circle cx="168.3" cy="459.7" r="2.35"/><circle cx="152.6" cy="482.1" r="2.35"/><circle cx="138.0" cy="494.4" r="2.35"/><circle cx="173.1" cy="499.0" r="2.35"/><circle cx="169.1" cy="472.1" r="2.35"/><circle cx="162.7" cy="501.7" r="2.35"/><circle cx="169.1" cy="482.4" r="2.35"/><circle cx="166.8" cy="446.7" r="2.35"/><circle cx="168.9" cy="429.2" r="2.35"/><circle cx="146.3" cy="461.1" r="2.35"/><circle cx="172.8" cy="473.0" r="2.35"/><circle cx="146.8" cy="488.8" r="2.35"/><circle cx="171.4" cy="447.2" r="2.35"/><circle cx="174.3" cy="494.1" r="2.35"/><circle cx="169.0" cy="488.6" r="2.35"/><circle cx="173.3" cy="499.0" r="2.35"/><circle cx="142.0" cy="499.3" r="2.35"/><circle cx="174.4" cy="496.1" r="2.35"/><circle cx="165.5" cy="445.1" r="2.35"/><circle cx="144.2" cy="492.9" r="2.35"/><circle cx="160.8" cy="448.6" r="2.35"/><circle cx="172.1" cy="502.9" r="2.35"/><circle cx="158.6" cy="492.9" r="2.35"/><circle cx="160.6" cy="500.7" r="2.35"/><circle cx="163.0" cy="484.7" r="2.35"/><circle cx="173.6" cy="439.6" r="2.35"/><circle cx="171.5" cy="475.0" r="2.35"/><circle cx="172.2" cy="458.2" r="2.35"/><circle cx="158.2" cy="475.1" r="2.35"/><circle cx="172.9" cy="464.0" r="2.35"/><circle cx="170.6" cy="485.0" r="2.35"/><circle cx="164.5" cy="489.4" r="2.35"/><circle cx="155.8" cy="477.3" r="2.35"/><circle cx="171.4" cy="452.9" r="2.35"/><circle cx="148.1" cy="480.3" r="2.35"/><circle cx="167.4" cy="469.1" r="2.35"/><circle cx="146.9" cy="495.8" r="2.35"/><circle cx="174.6" cy="493.9" r="2.35"/><circle cx="154.4" cy="462.1" r="2.35"/><circle cx="139.8" cy="483.7" r="2.35"/><circle cx="97.5" cy="274.5" r="2.35"/><circle cx="131.6" cy="288.0" r="2.35"/><circle cx="159.6" cy="281.5" r="2.35"/><circle cx="172.6" cy="317.3" r="2.35"/><circle cx="104.3" cy="330.7" r="2.35"/><circle cx="163.2" cy="341.2" r="2.35"/><circle cx="142.3" cy="346.0" r="2.35"/><circle cx="151.4" cy="351.6" r="2.35"/><circle cx="154.2" cy="353.0" r="2.35"/><circle cx="148.6" cy="357.9" r="2.35"/><circle cx="164.4" cy="361.0" r="2.35"/><circle cx="160.4" cy="363.5" r="2.35"/><circle cx="158.8" cy="364.2" r="2.35"/><circle cx="153.1" cy="368.4" r="2.35"/><circle cx="159.5" cy="368.8" r="2.35"/><circle cx="170.9" cy="368.1" r="2.35"/><circle cx="140.6" cy="371.6" r="2.35"/><circle cx="138.8" cy="375.7" r="2.35"/><circle cx="163.9" cy="375.3" r="2.35"/><circle cx="168.1" cy="376.0" r="2.35"/><circle cx="158.8" cy="379.5" r="2.35"/><circle cx="149.7" cy="382.3" r="2.35"/><circle cx="152.8" cy="384.4" r="2.35"/><circle cx="166.7" cy="383.0" r="2.35"/><circle cx="168.8" cy="386.1" r="2.35"/><circle cx="165.3" cy="386.5" r="2.35"/><circle cx="143.7" cy="384.7" r="2.35"/><circle cx="139.5" cy="386.9" r="2.35"/><circle cx="145.1" cy="386.5" r="2.35"/><circle cx="148.6" cy="388.3" r="2.35"/><circle cx="151.4" cy="389.7" r="2.35"/><circle cx="171.6" cy="391.4" r="2.35"/><circle cx="125.3" cy="388.6" r="2.35"/><circle cx="121.7" cy="393.5" r="2.35"/><circle cx="140.2" cy="391.4" r="2.35"/><circle cx="156.5" cy="392.5" r="2.35"/><circle cx="135.3" cy="395.6" r="2.35"/><circle cx="142.3" cy="397.0" r="2.35"/><circle cx="150.0" cy="397.6" r="2.35"/><circle cx="153.5" cy="398.3" r="2.35"/><circle cx="159.1" cy="397.0" r="2.35"/><circle cx="161.8" cy="398.1" r="2.35"/><circle cx="165.3" cy="396.7" r="2.35"/><circle cx="169.5" cy="395.3" r="2.35"/><circle cx="128.6" cy="403.5" r="2.35"/><circle cx="138.8" cy="402.2" r="2.35"/><circle cx="140.9" cy="406.0" r="2.35"/><circle cx="147.2" cy="406.0" r="2.35"/><circle cx="153.5" cy="405.3" r="2.35"/><circle cx="150.0" cy="403.2" r="2.35"/><circle cx="160.4" cy="402.5" r="2.35"/><circle cx="161.8" cy="406.0" r="2.35"/><circle cx="164.6" cy="402.5" r="2.35"/><circle cx="168.1" cy="406.0" r="2.35"/><circle cx="172.7" cy="406.0" r="2.35"/><circle cx="144.4" cy="409.5" r="2.35"/><circle cx="149.3" cy="408.1" r="2.35"/><circle cx="154.9" cy="410.9" r="2.35"/><circle cx="161.1" cy="411.6" r="2.35"/><circle cx="168.1" cy="410.2" r="2.35"/><circle cx="130.5" cy="413.4" r="2.35"/><circle cx="143.4" cy="414.4" r="2.35"/><circle cx="155.6" cy="415.8" r="2.35"/><circle cx="166.0" cy="414.4" r="2.35"/><circle cx="173.7" cy="417.9" r="2.35"/><circle cx="161.1" cy="417.9" r="2.35"/><circle cx="153.5" cy="418.6" r="2.35"/><circle cx="73.9" cy="419.1" r="2.35"/><circle cx="96.0" cy="440.8" r="2.35"/><circle cx="102.1" cy="436.9" r="2.35"/><circle cx="101.4" cy="411.0" r="2.35"/><circle cx="106.0" cy="385.4" r="2.35"/><circle cx="114.0" cy="393.5" r="2.35"/><circle cx="112.5" cy="404.3" r="2.35"/><circle cx="116.2" cy="411.5" r="2.35"/><circle cx="121.6" cy="393.5" r="2.35"/><circle cx="125.3" cy="388.7" r="2.35"/><circle cx="128.6" cy="403.9" r="2.35"/><circle cx="130.3" cy="413.2" r="2.35"/><circle cx="84.3" cy="459.9" r="2.35"/><circle cx="82.6" cy="472.2" r="2.35"/><circle cx="90.6" cy="480.9" r="2.35"/><circle cx="94.9" cy="482.5" r="2.35"/><circle cx="98.8" cy="486.4" r="2.35"/><circle cx="77.6" cy="488.1" r="2.35"/><circle cx="102.5" cy="500.5" r="2.35"/><circle cx="110.3" cy="492.4" r="2.35"/><circle cx="116.2" cy="488.1" r="2.35"/><circle cx="116.2" cy="494.0" r="2.35"/><circle cx="113.4" cy="444.0" r="2.35"/><circle cx="117.3" cy="442.5" r="2.35"/><circle cx="126.0" cy="441.9" r="2.35"/><circle cx="109.0" cy="372.6" r="2.35"/><circle cx="106.0" cy="385.7" r="2.35"/><circle cx="122.0" cy="455.0" r="2.35"/><circle cx="118.0" cy="470.0" r="2.35"/><circle cx="124.0" cy="478.0" r="2.35"/><circle cx="121.0" cy="463.0" r="2.35"/><circle cx="112.0" cy="500.0" r="2.35"/><circle cx="119.0" cy="498.0" r="2.35"/><circle cx="123.9" cy="452.0" r="2.35"/><circle cx="121.7" cy="455.7" r="2.35"/><circle cx="127.1" cy="455.7" r="2.35"/><circle cx="130.4" cy="452.4" r="2.35"/><circle cx="134.7" cy="449.2" r="2.35"/><circle cx="140.1" cy="448.1" r="2.35"/><circle cx="132.5" cy="443.8" r="2.35"/><circle cx="128.2" cy="440.5" r="2.35"/><circle cx="116.3" cy="441.6" r="2.35"/><circle cx="114.1" cy="443.8" r="2.35"/><circle cx="123.9" cy="463.3" r="2.35"/><circle cx="126.0" cy="468.7" r="2.35"/><circle cx="120.6" cy="470.9" r="2.35"/><circle cx="119.5" cy="476.3" r="2.35"/><circle cx="121.7" cy="480.6" r="2.35"/><circle cx="128.2" cy="474.1" r="2.35"/><circle cx="129.3" cy="480.6" r="2.35"/><circle cx="130.4" cy="487.1" r="2.35"/><circle cx="127.1" cy="491.5" r="2.35"/><circle cx="132.5" cy="496.9" r="2.35"/><circle cx="128.2" cy="500.2" r="2.35"/><circle cx="116.3" cy="488.2" r="2.35"/><circle cx="110.8" cy="493.6" r="2.35"/><circle cx="115.6" cy="499.1" r="2.35"/><circle cx="103.3" cy="500.2" r="2.35"/><circle cx="121.7" cy="501.2" r="2.35"/><circle cx="135.8" cy="458.9" r="2.35"/><circle cx="143.4" cy="456.8" r="2.35"/><circle cx="138.0" cy="465.4" r="2.35"/><circle cx="135.8" cy="474.1" r="2.35"/><circle cx="142.3" cy="472.0" r="2.35"/><circle cx="134.7" cy="482.8" r="2.35"/><circle cx="140.1" cy="479.5" r="2.35"/><circle cx="144.5" cy="448.1" r="2.35"/><circle cx="132.5" cy="435.1" r="2.35"/><circle cx="140.1" cy="430.7" r="2.35"/><circle cx="146.6" cy="441.6" r="2.35"/><circle cx="143.4" cy="422.1" r="2.35"/><circle cx="139.0" cy="428.6" r="2.35"/><circle cx="145.6" cy="426.4" r="2.35"/></g>
<g fill="#1878ff" stroke="#000088" stroke-width="1.3"><circle cx="209.2" cy="484.3" r="2.35"/><circle cx="192.4" cy="481.4" r="2.35"/><circle cx="214.6" cy="496.8" r="2.35"/><circle cx="236.5" cy="503.7" r="2.35"/><circle cx="191.5" cy="493.3" r="2.35"/><circle cx="197.8" cy="462.3" r="2.35"/><circle cx="204.5" cy="467.5" r="2.35"/><circle cx="204.9" cy="499.4" r="2.35"/><circle cx="218.3" cy="467.6" r="2.35"/><circle cx="238.3" cy="499.8" r="2.35"/><circle cx="197.5" cy="489.7" r="2.35"/><circle cx="192.8" cy="470.8" r="2.35"/><circle cx="221.2" cy="485.0" r="2.35"/><circle cx="195.1" cy="495.7" r="2.35"/><circle cx="201.6" cy="450.8" r="2.35"/><circle cx="222.9" cy="495.8" r="2.35"/><circle cx="199.8" cy="448.9" r="2.35"/><circle cx="221.9" cy="501.0" r="2.35"/><circle cx="216.6" cy="479.9" r="2.35"/><circle cx="221.2" cy="472.1" r="2.35"/><circle cx="230.3" cy="470.6" r="2.35"/><circle cx="215.7" cy="464.3" r="2.35"/><circle cx="205.1" cy="479.9" r="2.35"/><circle cx="209.8" cy="498.4" r="2.35"/><circle cx="206.0" cy="498.6" r="2.35"/><circle cx="209.8" cy="485.0" r="2.35"/><circle cx="194.1" cy="484.3" r="2.35"/><circle cx="195.7" cy="486.3" r="2.35"/><circle cx="213.9" cy="501.7" r="2.35"/><circle cx="206.7" cy="464.4" r="2.35"/><circle cx="191.8" cy="483.7" r="2.35"/><circle cx="197.1" cy="471.5" r="2.35"/><circle cx="207.4" cy="500.6" r="2.35"/><circle cx="209.9" cy="494.0" r="2.35"/><circle cx="197.4" cy="499.7" r="2.35"/><circle cx="221.5" cy="453.1" r="2.35"/><circle cx="192.6" cy="487.7" r="2.35"/><circle cx="194.4" cy="465.8" r="2.35"/><circle cx="199.1" cy="485.9" r="2.35"/><circle cx="191.2" cy="471.1" r="2.35"/><circle cx="193.6" cy="469.4" r="2.35"/><circle cx="191.9" cy="493.6" r="2.35"/><circle cx="196.3" cy="475.3" r="2.35"/><circle cx="216.9" cy="495.9" r="2.35"/><circle cx="225.9" cy="489.3" r="2.35"/><circle cx="236.0" cy="493.6" r="2.35"/><circle cx="194.0" cy="485.7" r="2.35"/><circle cx="192.2" cy="492.9" r="2.35"/><circle cx="220.7" cy="482.0" r="2.35"/><circle cx="199.0" cy="447.6" r="2.35"/><circle cx="215.3" cy="481.3" r="2.35"/><circle cx="217.3" cy="483.7" r="2.35"/><circle cx="199.1" cy="484.0" r="2.35"/><circle cx="196.5" cy="476.0" r="2.35"/><circle cx="206.2" cy="477.4" r="2.35"/><circle cx="193.0" cy="472.1" r="2.35"/><circle cx="222.7" cy="483.3" r="2.35"/><circle cx="230.8" cy="489.4" r="2.35"/><circle cx="231.0" cy="467.8" r="2.35"/><circle cx="200.8" cy="503.8" r="2.35"/><circle cx="194.9" cy="495.5" r="2.35"/><circle cx="210.8" cy="459.3" r="2.35"/><circle cx="209.7" cy="494.6" r="2.35"/><circle cx="191.0" cy="487.3" r="2.35"/><circle cx="201.9" cy="493.7" r="2.35"/><circle cx="217.3" cy="498.1" r="2.35"/><circle cx="229.0" cy="498.2" r="2.35"/><circle cx="198.5" cy="484.1" r="2.35"/><circle cx="199.9" cy="494.4" r="2.35"/><circle cx="201.4" cy="474.8" r="2.35"/><circle cx="198.7" cy="465.6" r="2.35"/><circle cx="222.4" cy="482.4" r="2.35"/><circle cx="204.3" cy="503.7" r="2.35"/><circle cx="190.7" cy="495.6" r="2.35"/><circle cx="202.6" cy="472.6" r="2.35"/><circle cx="202.5" cy="479.4" r="2.35"/><circle cx="196.8" cy="476.8" r="2.35"/><circle cx="210.2" cy="493.5" r="2.35"/><circle cx="197.2" cy="491.9" r="2.35"/><circle cx="228.9" cy="488.1" r="2.35"/><circle cx="192.7" cy="450.1" r="2.35"/><circle cx="206.3" cy="479.1" r="2.35"/><circle cx="192.2" cy="494.8" r="2.35"/><circle cx="192.1" cy="492.0" r="2.35"/><circle cx="195.6" cy="502.7" r="2.35"/><circle cx="209.2" cy="462.9" r="2.35"/><circle cx="199.8" cy="498.0" r="2.35"/><circle cx="213.5" cy="492.5" r="2.35"/><circle cx="209.8" cy="496.7" r="2.35"/><circle cx="234.2" cy="496.8" r="2.35"/><circle cx="202.9" cy="481.7" r="2.35"/><circle cx="212.7" cy="486.0" r="2.35"/><circle cx="234.5" cy="502.7" r="2.35"/><circle cx="216.7" cy="495.3" r="2.35"/><circle cx="198.7" cy="497.8" r="2.35"/><circle cx="211.7" cy="470.0" r="2.35"/><circle cx="207.5" cy="475.2" r="2.35"/><circle cx="236.4" cy="501.8" r="2.35"/><circle cx="195.8" cy="494.9" r="2.35"/><circle cx="217.9" cy="497.4" r="2.35"/><circle cx="211.5" cy="500.8" r="2.35"/><circle cx="230.7" cy="503.1" r="2.35"/><circle cx="199.9" cy="496.7" r="2.35"/><circle cx="213.6" cy="466.2" r="2.35"/><circle cx="208.0" cy="489.9" r="2.35"/><circle cx="231.5" cy="473.9" r="2.35"/><circle cx="193.2" cy="478.3" r="2.35"/><circle cx="204.1" cy="489.0" r="2.35"/><circle cx="222.6" cy="484.4" r="2.35"/><circle cx="205.1" cy="502.2" r="2.35"/><circle cx="209.8" cy="458.1" r="2.35"/><circle cx="202.3" cy="489.7" r="2.35"/><circle cx="222.1" cy="479.2" r="2.35"/><circle cx="230.3" cy="496.0" r="2.35"/><circle cx="192.9" cy="497.3" r="2.35"/><circle cx="219.0" cy="500.1" r="2.35"/><circle cx="236.7" cy="494.3" r="2.35"/><circle cx="232.6" cy="488.9" r="2.35"/><circle cx="217.6" cy="461.9" r="2.35"/><circle cx="204.5" cy="482.2" r="2.35"/><circle cx="226.8" cy="502.9" r="2.35"/><circle cx="215.7" cy="481.9" r="2.35"/><circle cx="211.3" cy="503.1" r="2.35"/><circle cx="218.1" cy="499.0" r="2.35"/><circle cx="197.5" cy="485.6" r="2.35"/><circle cx="205.4" cy="502.4" r="2.35"/><circle cx="190.2" cy="502.3" r="2.35"/><circle cx="232.2" cy="476.4" r="2.35"/><circle cx="217.5" cy="465.9" r="2.35"/><circle cx="219.0" cy="473.3" r="2.35"/><circle cx="209.9" cy="492.8" r="2.35"/><circle cx="217.1" cy="482.6" r="2.35"/><circle cx="213.7" cy="483.5" r="2.35"/><circle cx="196.2" cy="485.8" r="2.35"/><circle cx="225.4" cy="492.2" r="2.35"/><circle cx="194.1" cy="485.4" r="2.35"/><circle cx="191.2" cy="494.2" r="2.35"/><circle cx="197.2" cy="448.7" r="2.35"/><circle cx="213.5" cy="503.7" r="2.35"/><circle cx="197.6" cy="493.7" r="2.35"/><circle cx="193.4" cy="485.2" r="2.35"/><circle cx="226.4" cy="496.7" r="2.35"/><circle cx="206.0" cy="502.3" r="2.35"/><circle cx="192.5" cy="480.0" r="2.35"/><circle cx="231.2" cy="470.8" r="2.35"/><circle cx="210.7" cy="501.2" r="2.35"/><circle cx="191.5" cy="491.1" r="2.35"/><circle cx="198.1" cy="481.3" r="2.35"/><circle cx="200.1" cy="503.0" r="2.35"/><circle cx="208.9" cy="480.7" r="2.35"/><circle cx="214.7" cy="500.8" r="2.35"/><circle cx="197.8" cy="489.0" r="2.35"/><circle cx="229.2" cy="496.1" r="2.35"/><circle cx="190.9" cy="495.8" r="2.35"/><circle cx="206.6" cy="490.3" r="2.35"/><circle cx="194.7" cy="499.5" r="2.35"/><circle cx="210.0" cy="500.3" r="2.35"/><circle cx="202.4" cy="487.2" r="2.35"/><circle cx="207.3" cy="476.1" r="2.35"/><circle cx="191.1" cy="484.0" r="2.35"/><circle cx="194.4" cy="495.3" r="2.35"/><circle cx="228.5" cy="487.8" r="2.35"/><circle cx="190.6" cy="494.1" r="2.35"/><circle cx="197.1" cy="502.2" r="2.35"/><circle cx="216.3" cy="502.4" r="2.35"/><circle cx="215.7" cy="502.3" r="2.35"/><circle cx="199.1" cy="488.4" r="2.35"/><circle cx="195.4" cy="495.4" r="2.35"/><circle cx="229.7" cy="486.9" r="2.35"/><circle cx="219.8" cy="497.6" r="2.35"/><circle cx="200.0" cy="488.8" r="2.35"/><circle cx="209.5" cy="465.2" r="2.35"/><circle cx="196.3" cy="503.2" r="2.35"/><circle cx="197.6" cy="502.8" r="2.35"/><circle cx="193.4" cy="472.8" r="2.35"/><circle cx="213.3" cy="478.4" r="2.35"/><circle cx="201.6" cy="497.3" r="2.35"/><circle cx="206.5" cy="481.5" r="2.35"/><circle cx="195.8" cy="487.5" r="2.35"/><circle cx="191.1" cy="480.4" r="2.35"/><circle cx="218.0" cy="500.3" r="2.35"/><circle cx="223.2" cy="491.0" r="2.35"/><circle cx="229.5" cy="463.4" r="2.35"/><circle cx="206.9" cy="500.9" r="2.35"/><circle cx="192.1" cy="494.0" r="2.35"/><circle cx="192.0" cy="468.8" r="2.35"/><circle cx="195.4" cy="502.1" r="2.35"/><circle cx="207.3" cy="473.8" r="2.35"/><circle cx="202.1" cy="484.1" r="2.35"/><circle cx="203.8" cy="491.0" r="2.35"/><circle cx="191.7" cy="492.0" r="2.35"/><circle cx="215.7" cy="484.2" r="2.35"/><circle cx="221.5" cy="472.2" r="2.35"/><circle cx="223.2" cy="488.6" r="2.35"/><circle cx="192.0" cy="474.8" r="2.35"/><circle cx="190.1" cy="489.7" r="2.35"/><circle cx="203.7" cy="499.3" r="2.35"/><circle cx="204.3" cy="491.2" r="2.35"/><circle cx="202.5" cy="499.5" r="2.35"/><circle cx="216.9" cy="472.9" r="2.35"/><circle cx="197.7" cy="497.4" r="2.35"/><circle cx="208.8" cy="474.1" r="2.35"/><circle cx="196.2" cy="490.5" r="2.35"/><circle cx="228.2" cy="467.4" r="2.35"/><circle cx="192.3" cy="474.9" r="2.35"/><circle cx="200.4" cy="492.9" r="2.35"/><circle cx="198.4" cy="466.5" r="2.35"/><circle cx="192.5" cy="497.9" r="2.35"/><circle cx="228.1" cy="491.6" r="2.35"/><circle cx="200.0" cy="482.1" r="2.35"/><circle cx="192.3" cy="485.6" r="2.35"/><circle cx="209.9" cy="487.3" r="2.35"/><circle cx="199.1" cy="446.4" r="2.35"/><circle cx="222.1" cy="474.2" r="2.35"/><circle cx="212.3" cy="477.9" r="2.35"/><circle cx="207.8" cy="490.2" r="2.35"/><circle cx="192.4" cy="459.2" r="2.35"/><circle cx="193.6" cy="486.8" r="2.35"/><circle cx="196.4" cy="500.6" r="2.35"/><circle cx="190.9" cy="479.3" r="2.35"/><circle cx="200.0" cy="481.9" r="2.35"/><circle cx="198.0" cy="490.8" r="2.35"/><circle cx="224.9" cy="480.8" r="2.35"/><circle cx="193.3" cy="472.5" r="2.35"/><circle cx="194.2" cy="482.9" r="2.35"/><circle cx="234.2" cy="484.9" r="2.35"/><circle cx="217.2" cy="503.4" r="2.35"/><circle cx="221.8" cy="483.9" r="2.35"/><circle cx="199.9" cy="478.7" r="2.35"/><circle cx="235.9" cy="493.6" r="2.35"/><circle cx="215.4" cy="460.5" r="2.35"/><circle cx="199.1" cy="501.8" r="2.35"/><circle cx="205.5" cy="479.0" r="2.35"/><circle cx="192.4" cy="467.0" r="2.35"/><circle cx="195.5" cy="466.1" r="2.35"/><circle cx="190.7" cy="489.4" r="2.35"/><circle cx="204.7" cy="476.9" r="2.35"/><circle cx="194.6" cy="491.0" r="2.35"/><circle cx="206.5" cy="488.3" r="2.35"/><circle cx="199.0" cy="488.1" r="2.35"/><circle cx="193.9" cy="499.4" r="2.35"/><circle cx="197.8" cy="502.5" r="2.35"/><circle cx="209.0" cy="477.0" r="2.35"/><circle cx="224.8" cy="478.1" r="2.35"/><circle cx="231.5" cy="478.5" r="2.35"/><circle cx="194.8" cy="489.1" r="2.35"/><circle cx="194.6" cy="488.7" r="2.35"/><circle cx="212.3" cy="474.1" r="2.35"/><circle cx="215.1" cy="502.9" r="2.35"/><circle cx="190.2" cy="496.5" r="2.35"/><circle cx="210.0" cy="459.4" r="2.35"/><circle cx="194.4" cy="483.2" r="2.35"/><circle cx="221.1" cy="467.9" r="2.35"/><circle cx="212.9" cy="496.4" r="2.35"/><circle cx="209.7" cy="493.9" r="2.35"/><circle cx="222.2" cy="487.3" r="2.35"/><circle cx="197.0" cy="491.5" r="2.35"/><circle cx="192.2" cy="485.0" r="2.35"/><circle cx="195.9" cy="443.4" r="2.35"/><circle cx="191.4" cy="495.0" r="2.35"/><circle cx="196.8" cy="495.7" r="2.35"/><circle cx="218.6" cy="472.5" r="2.35"/><circle cx="207.0" cy="483.2" r="2.35"/><circle cx="211.1" cy="488.3" r="2.35"/><circle cx="190.9" cy="493.4" r="2.35"/><circle cx="210.7" cy="473.9" r="2.35"/><circle cx="210.8" cy="495.0" r="2.35"/><circle cx="200.4" cy="484.8" r="2.35"/><circle cx="208.8" cy="502.5" r="2.35"/><circle cx="191.6" cy="476.1" r="2.35"/><circle cx="199.3" cy="490.3" r="2.35"/><circle cx="192.7" cy="482.8" r="2.35"/><circle cx="231.9" cy="503.4" r="2.35"/><circle cx="206.5" cy="473.3" r="2.35"/><circle cx="196.7" cy="490.5" r="2.35"/><circle cx="191.6" cy="467.0" r="2.35"/><circle cx="198.0" cy="492.5" r="2.35"/><circle cx="201.0" cy="494.6" r="2.35"/><circle cx="209.4" cy="503.0" r="2.35"/><circle cx="226.8" cy="480.7" r="2.35"/><circle cx="230.4" cy="487.3" r="2.35"/><circle cx="230.3" cy="476.4" r="2.35"/><circle cx="218.9" cy="494.8" r="2.35"/><circle cx="210.6" cy="498.6" r="2.35"/><circle cx="212.4" cy="488.6" r="2.35"/><circle cx="211.1" cy="493.4" r="2.35"/><circle cx="199.2" cy="488.1" r="2.35"/><circle cx="237.2" cy="492.4" r="2.35"/><circle cx="213.6" cy="459.4" r="2.35"/><circle cx="202.6" cy="500.5" r="2.35"/><circle cx="191.8" cy="489.1" r="2.35"/><circle cx="210.0" cy="496.8" r="2.35"/><circle cx="231.0" cy="496.0" r="2.35"/><circle cx="231.5" cy="491.7" r="2.35"/><circle cx="211.6" cy="481.2" r="2.35"/><circle cx="198.7" cy="502.0" r="2.35"/><circle cx="191.7" cy="480.5" r="2.35"/><circle cx="200.7" cy="497.8" r="2.35"/><circle cx="212.5" cy="482.3" r="2.35"/><circle cx="205.1" cy="502.7" r="2.35"/><circle cx="198.9" cy="491.9" r="2.35"/><circle cx="197.8" cy="468.8" r="2.35"/><circle cx="196.3" cy="477.1" r="2.35"/><circle cx="213.4" cy="497.6" r="2.35"/><circle cx="204.8" cy="481.9" r="2.35"/><circle cx="226.0" cy="476.0" r="2.35"/><circle cx="223.0" cy="484.3" r="2.35"/><circle cx="192.6" cy="486.2" r="2.35"/><circle cx="217.5" cy="494.0" r="2.35"/><circle cx="193.6" cy="472.8" r="2.35"/><circle cx="192.3" cy="496.3" r="2.35"/><circle cx="198.2" cy="499.5" r="2.35"/><circle cx="197.6" cy="488.7" r="2.35"/><circle cx="195.4" cy="492.1" r="2.35"/><circle cx="236.8" cy="499.0" r="2.35"/><circle cx="194.4" cy="477.4" r="2.35"/><circle cx="229.3" cy="498.3" r="2.35"/><circle cx="201.2" cy="487.8" r="2.35"/><circle cx="228.1" cy="494.3" r="2.35"/><circle cx="198.6" cy="477.8" r="2.35"/><circle cx="210.0" cy="484.5" r="2.35"/><circle cx="211.2" cy="487.6" r="2.35"/><circle cx="195.4" cy="494.1" r="2.35"/><circle cx="204.4" cy="483.1" r="2.35"/><circle cx="218.7" cy="485.1" r="2.35"/><circle cx="198.8" cy="493.7" r="2.35"/><circle cx="197.3" cy="464.0" r="2.35"/><circle cx="198.5" cy="497.7" r="2.35"/><circle cx="209.1" cy="478.3" r="2.35"/><circle cx="236.1" cy="487.1" r="2.35"/><circle cx="190.8" cy="469.6" r="2.35"/><circle cx="203.1" cy="487.8" r="2.35"/><circle cx="233.2" cy="486.3" r="2.35"/><circle cx="193.6" cy="495.7" r="2.35"/><circle cx="194.6" cy="495.8" r="2.35"/><circle cx="189.9" cy="485.6" r="2.35"/><circle cx="219.0" cy="503.8" r="2.35"/><circle cx="232.2" cy="491.9" r="2.35"/><circle cx="228.8" cy="496.7" r="2.35"/><circle cx="232.1" cy="491.6" r="2.35"/><circle cx="234.5" cy="493.6" r="2.35"/><circle cx="221.0" cy="503.4" r="2.35"/><circle cx="225.8" cy="503.8" r="2.35"/><circle cx="232.6" cy="493.4" r="2.35"/><circle cx="224.6" cy="459.8" r="2.35"/><circle cx="191.1" cy="502.6" r="2.35"/><circle cx="223.4" cy="482.8" r="2.35"/><circle cx="214.0" cy="501.5" r="2.35"/><circle cx="191.7" cy="497.8" r="2.35"/><circle cx="227.6" cy="480.6" r="2.35"/><circle cx="204.8" cy="476.5" r="2.35"/><circle cx="214.7" cy="481.0" r="2.35"/><circle cx="197.1" cy="497.5" r="2.35"/><circle cx="223.4" cy="480.9" r="2.35"/><circle cx="192.7" cy="492.5" r="2.35"/><circle cx="191.5" cy="484.6" r="2.35"/><circle cx="197.5" cy="477.3" r="2.35"/><circle cx="229.9" cy="487.2" r="2.35"/><circle cx="200.5" cy="465.2" r="2.35"/><circle cx="210.6" cy="478.4" r="2.35"/><circle cx="196.0" cy="493.7" r="2.35"/><circle cx="221.4" cy="475.1" r="2.35"/><circle cx="207.8" cy="492.4" r="2.35"/><circle cx="194.0" cy="499.6" r="2.35"/><circle cx="201.2" cy="483.4" r="2.35"/><circle cx="212.1" cy="496.3" r="2.35"/><circle cx="213.0" cy="475.2" r="2.35"/><circle cx="202.7" cy="470.8" r="2.35"/><circle cx="229.3" cy="501.6" r="2.35"/><circle cx="222.5" cy="498.1" r="2.35"/><circle cx="204.4" cy="498.1" r="2.35"/><circle cx="236.0" cy="497.6" r="2.35"/><circle cx="191.0" cy="477.0" r="2.35"/><circle cx="202.1" cy="483.9" r="2.35"/><circle cx="199.7" cy="476.3" r="2.35"/><circle cx="192.1" cy="484.4" r="2.35"/><circle cx="198.4" cy="502.0" r="2.35"/><circle cx="193.8" cy="499.9" r="2.35"/><circle cx="194.6" cy="468.8" r="2.35"/><circle cx="199.4" cy="474.8" r="2.35"/><circle cx="217.2" cy="500.9" r="2.35"/><circle cx="205.7" cy="480.4" r="2.35"/><circle cx="214.5" cy="462.4" r="2.35"/><circle cx="210.6" cy="475.8" r="2.35"/><circle cx="235.0" cy="498.9" r="2.35"/><circle cx="226.9" cy="498.5" r="2.35"/><circle cx="191.8" cy="499.6" r="2.35"/><circle cx="194.3" cy="481.9" r="2.35"/><circle cx="203.9" cy="501.9" r="2.35"/><circle cx="211.6" cy="475.3" r="2.35"/><circle cx="206.5" cy="503.0" r="2.35"/><circle cx="215.7" cy="493.7" r="2.35"/><circle cx="237.5" cy="493.7" r="2.35"/><circle cx="232.0" cy="494.7" r="2.35"/><circle cx="203.3" cy="482.3" r="2.35"/><circle cx="236.0" cy="499.0" r="2.35"/><circle cx="208.3" cy="497.8" r="2.35"/><circle cx="214.6" cy="495.3" r="2.35"/><circle cx="238.0" cy="500.8" r="2.35"/><circle cx="205.5" cy="472.6" r="2.35"/><circle cx="191.4" cy="494.9" r="2.35"/><circle cx="230.6" cy="495.9" r="2.35"/><circle cx="221.1" cy="477.5" r="2.35"/><circle cx="196.4" cy="488.9" r="2.35"/><circle cx="191.7" cy="495.3" r="2.35"/><circle cx="190.5" cy="479.8" r="2.35"/><circle cx="214.1" cy="502.7" r="2.35"/><circle cx="224.3" cy="476.1" r="2.35"/><circle cx="215.2" cy="454.3" r="2.35"/><circle cx="192.0" cy="468.5" r="2.35"/><circle cx="194.3" cy="484.8" r="2.35"/><circle cx="199.7" cy="494.7" r="2.35"/><circle cx="219.6" cy="486.0" r="2.35"/><circle cx="217.7" cy="469.8" r="2.35"/><circle cx="221.9" cy="502.3" r="2.35"/><circle cx="191.6" cy="490.1" r="2.35"/><circle cx="209.0" cy="486.1" r="2.35"/><circle cx="193.0" cy="474.9" r="2.35"/><circle cx="233.7" cy="478.2" r="2.35"/><circle cx="228.1" cy="480.4" r="2.35"/><circle cx="195.7" cy="477.3" r="2.35"/><circle cx="190.7" cy="481.4" r="2.35"/><circle cx="220.4" cy="502.3" r="2.35"/><circle cx="234.9" cy="494.5" r="2.35"/><circle cx="208.4" cy="492.7" r="2.35"/><circle cx="202.0" cy="469.0" r="2.35"/><circle cx="217.6" cy="482.9" r="2.35"/><circle cx="212.6" cy="494.5" r="2.35"/><circle cx="212.5" cy="470.5" r="2.35"/><circle cx="202.1" cy="499.7" r="2.35"/><circle cx="221.4" cy="497.4" r="2.35"/><circle cx="206.5" cy="487.6" r="2.35"/><circle cx="221.5" cy="501.8" r="2.35"/><circle cx="194.2" cy="488.8" r="2.35"/><circle cx="197.5" cy="494.5" r="2.35"/><circle cx="200.9" cy="487.5" r="2.35"/><circle cx="203.5" cy="492.4" r="2.35"/><circle cx="198.7" cy="497.0" r="2.35"/><circle cx="225.1" cy="478.1" r="2.35"/><circle cx="192.2" cy="493.9" r="2.35"/><circle cx="233.2" cy="495.2" r="2.35"/><circle cx="226.8" cy="473.4" r="2.35"/><circle cx="218.4" cy="493.9" r="2.35"/><circle cx="214.7" cy="480.5" r="2.35"/><circle cx="215.4" cy="485.9" r="2.35"/><circle cx="220.9" cy="501.6" r="2.35"/><circle cx="202.9" cy="498.9" r="2.35"/><circle cx="223.2" cy="496.2" r="2.35"/><circle cx="194.9" cy="473.8" r="2.35"/><circle cx="191.9" cy="501.2" r="2.35"/><circle cx="194.6" cy="449.3" r="2.35"/><circle cx="196.1" cy="476.8" r="2.35"/><circle cx="216.3" cy="500.3" r="2.35"/><circle cx="213.8" cy="484.7" r="2.35"/><circle cx="213.5" cy="499.4" r="2.35"/><circle cx="194.8" cy="449.5" r="2.35"/><circle cx="216.8" cy="500.3" r="2.35"/><circle cx="223.4" cy="478.4" r="2.35"/><circle cx="196.2" cy="453.0" r="2.35"/><circle cx="192.1" cy="476.9" r="2.35"/><circle cx="208.1" cy="465.3" r="2.35"/><circle cx="213.1" cy="462.8" r="2.35"/><circle cx="215.9" cy="475.8" r="2.35"/><circle cx="212.9" cy="466.4" r="2.35"/><circle cx="221.3" cy="497.6" r="2.35"/><circle cx="191.9" cy="503.2" r="2.35"/><circle cx="205.5" cy="473.9" r="2.35"/><circle cx="234.7" cy="487.4" r="2.35"/><circle cx="196.6" cy="468.5" r="2.35"/><circle cx="190.8" cy="480.2" r="2.35"/><circle cx="201.8" cy="452.7" r="2.35"/><circle cx="223.8" cy="503.5" r="2.35"/><circle cx="207.8" cy="474.3" r="2.35"/><circle cx="193.1" cy="475.2" r="2.35"/><circle cx="228.3" cy="472.9" r="2.35"/><circle cx="221.6" cy="463.0" r="2.35"/><circle cx="193.1" cy="484.0" r="2.35"/><circle cx="192.1" cy="493.6" r="2.35"/><circle cx="190.7" cy="497.5" r="2.35"/><circle cx="192.3" cy="476.6" r="2.35"/><circle cx="192.4" cy="480.3" r="2.35"/><circle cx="216.0" cy="500.8" r="2.35"/><circle cx="229.5" cy="490.6" r="2.35"/><circle cx="216.6" cy="454.7" r="2.35"/><circle cx="232.0" cy="493.0" r="2.35"/><circle cx="225.9" cy="503.4" r="2.35"/><circle cx="212.5" cy="481.9" r="2.35"/><circle cx="191.1" cy="500.9" r="2.35"/><circle cx="193.9" cy="471.8" r="2.35"/><circle cx="217.9" cy="479.9" r="2.35"/><circle cx="230.1" cy="480.1" r="2.35"/><circle cx="205.3" cy="484.3" r="2.35"/><circle cx="190.6" cy="458.4" r="2.35"/><circle cx="211.9" cy="479.9" r="2.35"/><circle cx="218.7" cy="500.3" r="2.35"/><circle cx="221.0" cy="469.7" r="2.35"/><circle cx="224.0" cy="476.8" r="2.35"/><circle cx="192.1" cy="499.8" r="2.35"/><circle cx="197.3" cy="481.7" r="2.35"/><circle cx="208.0" cy="476.7" r="2.35"/><circle cx="203.4" cy="501.1" r="2.35"/><circle cx="222.2" cy="498.0" r="2.35"/><circle cx="199.2" cy="476.9" r="2.35"/><circle cx="229.4" cy="497.5" r="2.35"/><circle cx="197.0" cy="483.5" r="2.35"/><circle cx="213.4" cy="503.7" r="2.35"/><circle cx="227.1" cy="479.1" r="2.35"/><circle cx="207.8" cy="470.9" r="2.35"/><circle cx="192.7" cy="473.4" r="2.35"/><circle cx="201.9" cy="472.2" r="2.35"/><circle cx="223.8" cy="499.2" r="2.35"/><circle cx="227.9" cy="495.0" r="2.35"/><circle cx="208.9" cy="471.6" r="2.35"/><circle cx="192.1" cy="484.4" r="2.35"/><circle cx="194.7" cy="485.3" r="2.35"/><circle cx="227.9" cy="466.9" r="2.35"/><circle cx="221.0" cy="489.1" r="2.35"/><circle cx="190.6" cy="481.5" r="2.35"/><circle cx="232.4" cy="498.6" r="2.35"/><circle cx="198.7" cy="477.2" r="2.35"/><circle cx="230.5" cy="476.2" r="2.35"/><circle cx="194.0" cy="496.2" r="2.35"/><circle cx="206.5" cy="489.7" r="2.35"/><circle cx="200.8" cy="497.3" r="2.35"/><circle cx="217.2" cy="501.8" r="2.35"/><circle cx="190.5" cy="486.8" r="2.35"/><circle cx="213.2" cy="481.1" r="2.35"/><circle cx="226.5" cy="486.8" r="2.35"/><circle cx="202.2" cy="468.8" r="2.35"/><circle cx="192.4" cy="488.5" r="2.35"/><circle cx="197.4" cy="494.9" r="2.35"/><circle cx="235.3" cy="498.5" r="2.35"/><circle cx="190.6" cy="492.3" r="2.35"/><circle cx="232.4" cy="499.1" r="2.35"/><circle cx="230.4" cy="494.6" r="2.35"/><circle cx="214.5" cy="481.5" r="2.35"/><circle cx="199.5" cy="502.6" r="2.35"/><circle cx="208.9" cy="491.1" r="2.35"/><circle cx="200.1" cy="495.0" r="2.35"/><circle cx="232.9" cy="472.1" r="2.35"/><circle cx="221.6" cy="480.4" r="2.35"/><circle cx="222.6" cy="496.2" r="2.35"/><circle cx="209.2" cy="488.1" r="2.35"/><circle cx="191.2" cy="467.8" r="2.35"/><circle cx="229.5" cy="498.8" r="2.35"/><circle cx="231.3" cy="477.6" r="2.35"/><circle cx="203.0" cy="492.2" r="2.35"/><circle cx="192.6" cy="478.6" r="2.35"/><circle cx="206.2" cy="498.0" r="2.35"/><circle cx="196.3" cy="500.9" r="2.35"/><circle cx="219.2" cy="457.6" r="2.35"/><circle cx="209.0" cy="450.8" r="2.35"/><circle cx="202.1" cy="486.0" r="2.35"/><circle cx="191.4" cy="487.3" r="2.35"/><circle cx="193.0" cy="485.3" r="2.35"/><circle cx="211.8" cy="468.4" r="2.35"/><circle cx="194.9" cy="493.0" r="2.35"/><circle cx="196.3" cy="480.1" r="2.35"/><circle cx="221.6" cy="493.9" r="2.35"/><circle cx="199.3" cy="482.6" r="2.35"/><circle cx="223.9" cy="478.1" r="2.35"/><circle cx="195.7" cy="475.4" r="2.35"/><circle cx="199.3" cy="479.0" r="2.35"/><circle cx="213.7" cy="492.0" r="2.35"/><circle cx="196.4" cy="491.0" r="2.35"/><circle cx="194.3" cy="479.4" r="2.35"/><circle cx="216.5" cy="498.8" r="2.35"/><circle cx="235.9" cy="490.7" r="2.35"/><circle cx="193.2" cy="488.3" r="2.35"/><circle cx="225.2" cy="491.4" r="2.35"/><circle cx="195.0" cy="492.7" r="2.35"/><circle cx="196.3" cy="492.4" r="2.35"/><circle cx="220.1" cy="503.5" r="2.35"/><circle cx="207.8" cy="454.0" r="2.35"/><circle cx="221.0" cy="484.3" r="2.35"/><circle cx="207.4" cy="494.3" r="2.35"/><circle cx="197.7" cy="493.6" r="2.35"/><circle cx="224.0" cy="488.2" r="2.35"/><circle cx="199.5" cy="472.0" r="2.35"/><circle cx="216.7" cy="500.4" r="2.35"/><circle cx="206.5" cy="468.2" r="2.35"/><circle cx="222.0" cy="481.1" r="2.35"/><circle cx="223.8" cy="488.4" r="2.35"/><circle cx="224.2" cy="475.8" r="2.35"/><circle cx="236.6" cy="493.3" r="2.35"/><circle cx="228.0" cy="495.1" r="2.35"/><circle cx="192.3" cy="503.7" r="2.35"/><circle cx="220.1" cy="488.8" r="2.35"/><circle cx="191.9" cy="485.9" r="2.35"/><circle cx="223.4" cy="499.7" r="2.35"/><circle cx="197.8" cy="502.3" r="2.35"/><circle cx="190.8" cy="499.2" r="2.35"/><circle cx="196.5" cy="499.9" r="2.35"/><circle cx="207.2" cy="500.4" r="2.35"/><circle cx="235.3" cy="501.9" r="2.35"/><circle cx="235.2" cy="502.1" r="2.35"/><circle cx="195.6" cy="491.8" r="2.35"/><circle cx="200.5" cy="480.5" r="2.35"/><circle cx="194.3" cy="494.0" r="2.35"/><circle cx="223.9" cy="495.4" r="2.35"/><circle cx="213.8" cy="500.5" r="2.35"/><circle cx="202.8" cy="501.5" r="2.35"/><circle cx="231.1" cy="492.4" r="2.35"/><circle cx="215.4" cy="470.9" r="2.35"/><circle cx="219.6" cy="486.0" r="2.35"/><circle cx="210.7" cy="501.3" r="2.35"/><circle cx="191.8" cy="493.8" r="2.35"/><circle cx="230.6" cy="502.4" r="2.35"/><circle cx="216.0" cy="459.4" r="2.35"/><circle cx="224.8" cy="502.5" r="2.35"/><circle cx="208.1" cy="494.9" r="2.35"/><circle cx="236.5" cy="497.3" r="2.35"/><circle cx="218.1" cy="501.7" r="2.35"/><circle cx="202.0" cy="502.4" r="2.35"/><circle cx="199.9" cy="483.4" r="2.35"/><circle cx="196.4" cy="498.5" r="2.35"/><circle cx="192.9" cy="479.2" r="2.35"/><circle cx="194.6" cy="464.8" r="2.35"/><circle cx="221.6" cy="497.7" r="2.35"/><circle cx="224.4" cy="495.9" r="2.35"/><circle cx="195.6" cy="502.7" r="2.35"/><circle cx="194.3" cy="492.9" r="2.35"/><circle cx="223.6" cy="496.2" r="2.35"/><circle cx="228.7" cy="490.9" r="2.35"/><circle cx="215.1" cy="490.4" r="2.35"/><circle cx="202.6" cy="465.7" r="2.35"/><circle cx="195.4" cy="492.5" r="2.35"/><circle cx="198.2" cy="497.3" r="2.35"/><circle cx="207.7" cy="483.2" r="2.35"/><circle cx="198.6" cy="456.1" r="2.35"/><circle cx="216.3" cy="498.9" r="2.35"/><circle cx="194.4" cy="503.7" r="2.35"/><circle cx="204.7" cy="500.3" r="2.35"/><circle cx="225.3" cy="503.7" r="2.35"/><circle cx="199.1" cy="497.8" r="2.35"/><circle cx="237.4" cy="498.7" r="2.35"/><circle cx="231.3" cy="483.5" r="2.35"/><circle cx="204.6" cy="500.9" r="2.35"/><circle cx="213.4" cy="477.0" r="2.35"/><circle cx="190.4" cy="491.1" r="2.35"/><circle cx="210.0" cy="470.3" r="2.35"/><circle cx="216.6" cy="498.0" r="2.35"/><circle cx="225.7" cy="468.2" r="2.35"/><circle cx="216.4" cy="501.5" r="2.35"/><circle cx="211.0" cy="487.3" r="2.35"/><circle cx="222.3" cy="490.8" r="2.35"/><circle cx="222.5" cy="482.1" r="2.35"/><circle cx="229.3" cy="487.6" r="2.35"/><circle cx="227.0" cy="493.2" r="2.35"/><circle cx="219.2" cy="492.2" r="2.35"/><circle cx="211.7" cy="496.9" r="2.35"/><circle cx="192.2" cy="473.3" r="2.35"/><circle cx="192.1" cy="493.2" r="2.35"/><circle cx="227.9" cy="474.2" r="2.35"/><circle cx="195.8" cy="491.9" r="2.35"/><circle cx="224.6" cy="486.4" r="2.35"/><circle cx="196.7" cy="491.7" r="2.35"/><circle cx="221.0" cy="502.9" r="2.35"/><circle cx="198.3" cy="490.0" r="2.35"/><circle cx="219.4" cy="458.1" r="2.35"/><circle cx="193.8" cy="495.0" r="2.35"/><circle cx="232.9" cy="488.6" r="2.35"/><circle cx="203.0" cy="477.5" r="2.35"/><circle cx="201.9" cy="499.6" r="2.35"/><circle cx="234.3" cy="482.2" r="2.35"/><circle cx="201.6" cy="468.7" r="2.35"/><circle cx="195.3" cy="488.5" r="2.35"/><circle cx="230.2" cy="488.2" r="2.35"/><circle cx="200.8" cy="480.2" r="2.35"/><circle cx="208.9" cy="487.6" r="2.35"/><circle cx="215.4" cy="497.6" r="2.35"/><circle cx="198.6" cy="498.5" r="2.35"/><circle cx="223.9" cy="498.7" r="2.35"/><circle cx="195.1" cy="486.3" r="2.35"/><circle cx="194.3" cy="471.3" r="2.35"/><circle cx="196.8" cy="503.8" r="2.35"/><circle cx="194.3" cy="485.1" r="2.35"/><circle cx="216.4" cy="485.1" r="2.35"/><circle cx="198.1" cy="485.3" r="2.35"/><circle cx="211.0" cy="476.8" r="2.35"/><circle cx="204.3" cy="475.2" r="2.35"/><circle cx="231.8" cy="478.0" r="2.35"/><circle cx="224.2" cy="488.5" r="2.35"/><circle cx="217.5" cy="474.8" r="2.35"/><circle cx="195.0" cy="489.6" r="2.35"/><circle cx="202.0" cy="481.4" r="2.35"/><circle cx="204.1" cy="472.4" r="2.35"/><circle cx="209.0" cy="488.0" r="2.35"/><circle cx="204.0" cy="475.2" r="2.35"/><circle cx="212.7" cy="483.9" r="2.35"/><circle cx="235.5" cy="500.1" r="2.35"/><circle cx="225.8" cy="494.3" r="2.35"/><circle cx="214.5" cy="497.2" r="2.35"/><circle cx="206.4" cy="472.1" r="2.35"/><circle cx="220.9" cy="500.6" r="2.35"/><circle cx="207.4" cy="499.5" r="2.35"/><circle cx="198.6" cy="480.6" r="2.35"/><circle cx="213.4" cy="491.9" r="2.35"/><circle cx="228.9" cy="460.3" r="2.35"/><circle cx="204.1" cy="464.0" r="2.35"/><circle cx="191.6" cy="442.4" r="2.35"/><circle cx="198.0" cy="479.3" r="2.35"/><circle cx="234.2" cy="491.2" r="2.35"/><circle cx="205.5" cy="474.9" r="2.35"/><circle cx="205.4" cy="440.3" r="2.35"/><circle cx="196.2" cy="466.3" r="2.35"/><circle cx="215.0" cy="447.3" r="2.35"/><circle cx="223.3" cy="473.3" r="2.35"/><circle cx="213.2" cy="488.2" r="2.35"/><circle cx="203.2" cy="451.0" r="2.35"/><circle cx="192.4" cy="484.9" r="2.35"/><circle cx="192.1" cy="501.2" r="2.35"/><circle cx="205.3" cy="438.7" r="2.35"/><circle cx="193.7" cy="493.4" r="2.35"/><circle cx="193.3" cy="465.4" r="2.35"/><circle cx="202.8" cy="473.2" r="2.35"/><circle cx="224.6" cy="469.3" r="2.35"/><circle cx="203.6" cy="448.2" r="2.35"/><circle cx="190.3" cy="484.0" r="2.35"/><circle cx="220.9" cy="468.7" r="2.35"/><circle cx="218.7" cy="454.9" r="2.35"/><circle cx="216.9" cy="476.8" r="2.35"/><circle cx="201.0" cy="480.6" r="2.35"/><circle cx="204.5" cy="465.5" r="2.35"/><circle cx="197.6" cy="438.7" r="2.35"/><circle cx="190.3" cy="455.9" r="2.35"/><circle cx="193.5" cy="465.8" r="2.35"/><circle cx="209.4" cy="463.0" r="2.35"/><circle cx="192.9" cy="460.3" r="2.35"/><circle cx="224.1" cy="447.4" r="2.35"/><circle cx="215.7" cy="449.7" r="2.35"/><circle cx="220.1" cy="488.8" r="2.35"/><circle cx="228.8" cy="447.5" r="2.35"/><circle cx="226.0" cy="472.8" r="2.35"/><circle cx="216.4" cy="497.9" r="2.35"/><circle cx="216.7" cy="455.9" r="2.35"/><circle cx="218.0" cy="469.7" r="2.35"/><circle cx="225.7" cy="490.5" r="2.35"/><circle cx="205.7" cy="494.0" r="2.35"/><circle cx="190.8" cy="482.4" r="2.35"/><circle cx="197.2" cy="500.0" r="2.35"/><circle cx="229.9" cy="467.5" r="2.35"/><circle cx="217.5" cy="502.5" r="2.35"/><circle cx="222.8" cy="437.3" r="2.35"/><circle cx="194.5" cy="468.3" r="2.35"/><circle cx="219.8" cy="443.2" r="2.35"/><circle cx="193.2" cy="498.2" r="2.35"/><circle cx="204.5" cy="450.1" r="2.35"/><circle cx="195.7" cy="463.3" r="2.35"/><circle cx="194.6" cy="487.2" r="2.35"/><circle cx="233.1" cy="482.5" r="2.35"/><circle cx="204.2" cy="471.3" r="2.35"/><circle cx="209.0" cy="460.4" r="2.35"/><circle cx="210.1" cy="498.6" r="2.35"/><circle cx="191.5" cy="499.1" r="2.35"/><circle cx="223.9" cy="496.5" r="2.35"/><circle cx="193.4" cy="475.2" r="2.35"/><circle cx="212.3" cy="474.4" r="2.35"/><circle cx="222.2" cy="448.7" r="2.35"/><circle cx="218.1" cy="446.0" r="2.35"/><circle cx="236.1" cy="489.8" r="2.35"/><circle cx="194.7" cy="500.6" r="2.35"/><circle cx="190.3" cy="441.0" r="2.35"/><circle cx="225.5" cy="453.4" r="2.35"/><circle cx="194.7" cy="462.4" r="2.35"/><circle cx="203.7" cy="451.4" r="2.35"/><circle cx="206.7" cy="477.1" r="2.35"/><circle cx="200.6" cy="472.5" r="2.35"/><circle cx="193.5" cy="493.0" r="2.35"/><circle cx="214.6" cy="441.8" r="2.35"/><circle cx="222.9" cy="453.6" r="2.35"/><circle cx="197.1" cy="498.9" r="2.35"/><circle cx="201.1" cy="442.0" r="2.35"/><circle cx="204.4" cy="466.3" r="2.35"/><circle cx="195.7" cy="473.5" r="2.35"/><circle cx="204.6" cy="489.8" r="2.35"/><circle cx="190.5" cy="495.0" r="2.35"/><circle cx="197.7" cy="467.6" r="2.35"/><circle cx="192.9" cy="500.0" r="2.35"/><circle cx="206.5" cy="458.9" r="2.35"/><circle cx="197.6" cy="465.8" r="2.35"/><circle cx="198.6" cy="454.0" r="2.35"/><circle cx="197.8" cy="459.0" r="2.35"/><circle cx="191.0" cy="489.6" r="2.35"/><circle cx="192.0" cy="454.3" r="2.35"/><circle cx="197.8" cy="488.2" r="2.35"/><circle cx="221.6" cy="491.1" r="2.35"/><circle cx="222.6" cy="487.7" r="2.35"/><circle cx="214.0" cy="461.0" r="2.35"/><circle cx="191.3" cy="439.9" r="2.35"/><circle cx="193.7" cy="486.0" r="2.35"/><circle cx="205.6" cy="439.8" r="2.35"/><circle cx="193.6" cy="449.7" r="2.35"/><circle cx="235.7" cy="490.9" r="2.35"/><circle cx="208.5" cy="494.9" r="2.35"/><circle cx="213.0" cy="490.5" r="2.35"/><circle cx="202.6" cy="453.7" r="2.35"/><circle cx="206.2" cy="457.7" r="2.35"/><circle cx="222.5" cy="465.6" r="2.35"/><circle cx="193.3" cy="448.7" r="2.35"/><circle cx="222.0" cy="441.3" r="2.35"/><circle cx="194.6" cy="500.2" r="2.35"/><circle cx="217.1" cy="468.4" r="2.35"/><circle cx="195.3" cy="439.1" r="2.35"/><circle cx="223.1" cy="442.0" r="2.35"/><circle cx="229.8" cy="468.0" r="2.35"/><circle cx="194.1" cy="444.9" r="2.35"/><circle cx="230.6" cy="482.3" r="2.35"/><circle cx="200.1" cy="467.2" r="2.35"/><circle cx="203.7" cy="489.7" r="2.35"/><circle cx="194.2" cy="483.8" r="2.35"/><circle cx="199.3" cy="474.8" r="2.35"/><circle cx="198.4" cy="479.2" r="2.35"/><circle cx="194.7" cy="477.8" r="2.35"/><circle cx="207.1" cy="468.7" r="2.35"/><circle cx="200.4" cy="448.7" r="2.35"/><circle cx="229.4" cy="501.8" r="2.35"/><circle cx="192.6" cy="489.0" r="2.35"/><circle cx="213.5" cy="481.6" r="2.35"/><circle cx="223.9" cy="478.7" r="2.35"/><circle cx="195.8" cy="453.3" r="2.35"/><circle cx="196.2" cy="495.8" r="2.35"/><circle cx="191.7" cy="495.4" r="2.35"/><circle cx="201.9" cy="502.3" r="2.35"/><circle cx="193.2" cy="438.6" r="2.35"/><circle cx="197.8" cy="501.4" r="2.35"/><circle cx="225.6" cy="464.7" r="2.35"/><circle cx="226.9" cy="501.6" r="2.35"/><circle cx="209.5" cy="494.3" r="2.35"/><circle cx="193.8" cy="460.8" r="2.35"/><circle cx="200.5" cy="470.9" r="2.35"/><circle cx="205.2" cy="503.8" r="2.35"/><circle cx="190.6" cy="470.7" r="2.35"/><circle cx="222.0" cy="491.1" r="2.35"/><circle cx="204.2" cy="465.3" r="2.35"/><circle cx="201.8" cy="498.3" r="2.35"/><circle cx="201.9" cy="489.0" r="2.35"/><circle cx="194.6" cy="465.5" r="2.35"/><circle cx="203.1" cy="450.5" r="2.35"/><circle cx="226.0" cy="498.0" r="2.35"/><circle cx="225.3" cy="481.1" r="2.35"/><circle cx="191.5" cy="449.3" r="2.35"/><circle cx="215.2" cy="482.2" r="2.35"/><circle cx="201.9" cy="494.9" r="2.35"/><circle cx="191.6" cy="471.5" r="2.35"/><circle cx="233.6" cy="489.7" r="2.35"/><circle cx="229.2" cy="463.4" r="2.35"/><circle cx="206.5" cy="461.0" r="2.35"/><circle cx="212.2" cy="472.1" r="2.35"/><circle cx="192.2" cy="493.7" r="2.35"/><circle cx="197.6" cy="449.1" r="2.35"/><circle cx="199.3" cy="475.1" r="2.35"/><circle cx="194.0" cy="462.2" r="2.35"/><circle cx="221.1" cy="474.5" r="2.35"/><circle cx="191.8" cy="472.0" r="2.35"/><circle cx="191.1" cy="465.1" r="2.35"/><circle cx="191.0" cy="495.1" r="2.35"/><circle cx="199.6" cy="480.8" r="2.35"/><circle cx="199.7" cy="443.8" r="2.35"/><circle cx="190.9" cy="440.8" r="2.35"/><circle cx="199.8" cy="486.6" r="2.35"/><circle cx="206.2" cy="473.9" r="2.35"/><circle cx="192.2" cy="501.6" r="2.35"/><circle cx="194.9" cy="482.7" r="2.35"/><circle cx="197.6" cy="478.0" r="2.35"/><circle cx="193.7" cy="498.6" r="2.35"/><circle cx="220.0" cy="499.0" r="2.35"/><circle cx="192.6" cy="463.1" r="2.35"/><circle cx="193.6" cy="501.0" r="2.35"/><circle cx="191.5" cy="488.7" r="2.35"/><circle cx="193.9" cy="498.4" r="2.35"/><circle cx="192.1" cy="439.6" r="2.35"/><circle cx="217.2" cy="492.3" r="2.35"/><circle cx="201.8" cy="494.0" r="2.35"/><circle cx="189.9" cy="478.4" r="2.35"/><circle cx="194.6" cy="493.8" r="2.35"/><circle cx="196.7" cy="454.5" r="2.35"/><circle cx="231.4" cy="497.7" r="2.35"/><circle cx="208.2" cy="474.9" r="2.35"/><circle cx="191.0" cy="481.9" r="2.35"/><circle cx="196.1" cy="473.9" r="2.35"/><circle cx="191.5" cy="502.1" r="2.35"/><circle cx="190.2" cy="501.9" r="2.35"/><circle cx="209.5" cy="501.0" r="2.35"/><circle cx="193.8" cy="477.5" r="2.35"/><circle cx="212.7" cy="449.2" r="2.35"/><circle cx="234.4" cy="485.9" r="2.35"/><circle cx="218.3" cy="502.4" r="2.35"/><circle cx="217.8" cy="477.2" r="2.35"/><circle cx="225.5" cy="493.5" r="2.35"/><circle cx="206.5" cy="477.3" r="2.35"/><circle cx="191.7" cy="501.3" r="2.35"/><circle cx="190.7" cy="502.4" r="2.35"/><circle cx="212.0" cy="491.1" r="2.35"/><circle cx="221.2" cy="441.1" r="2.35"/><circle cx="190.8" cy="496.4" r="2.35"/><circle cx="204.9" cy="500.9" r="2.35"/><circle cx="202.2" cy="501.3" r="2.35"/><circle cx="207.1" cy="500.7" r="2.35"/><circle cx="208.3" cy="487.0" r="2.35"/><circle cx="197.3" cy="487.2" r="2.35"/><circle cx="202.6" cy="480.9" r="2.35"/><circle cx="190.3" cy="443.5" r="2.35"/><circle cx="207.7" cy="486.7" r="2.35"/><circle cx="195.7" cy="499.1" r="2.35"/><circle cx="199.3" cy="482.6" r="2.35"/><circle cx="220.5" cy="494.7" r="2.35"/><circle cx="217.6" cy="480.0" r="2.35"/><circle cx="228.0" cy="500.5" r="2.35"/><circle cx="217.1" cy="501.1" r="2.35"/><circle cx="190.7" cy="460.5" r="2.35"/><circle cx="225.1" cy="503.8" r="2.35"/><circle cx="209.9" cy="492.0" r="2.35"/><circle cx="191.3" cy="441.9" r="2.35"/><circle cx="200.5" cy="493.1" r="2.35"/><circle cx="211.5" cy="476.5" r="2.35"/><circle cx="205.0" cy="455.4" r="2.35"/><circle cx="229.4" cy="498.7" r="2.35"/><circle cx="191.0" cy="479.5" r="2.35"/><circle cx="193.1" cy="481.3" r="2.35"/><circle cx="198.0" cy="493.0" r="2.35"/><circle cx="192.4" cy="457.0" r="2.35"/><circle cx="200.5" cy="450.8" r="2.35"/><circle cx="209.3" cy="489.3" r="2.35"/><circle cx="211.4" cy="472.8" r="2.35"/><circle cx="198.9" cy="488.5" r="2.35"/><circle cx="196.7" cy="503.3" r="2.35"/><circle cx="221.2" cy="500.9" r="2.35"/><circle cx="199.2" cy="493.0" r="2.35"/><circle cx="209.9" cy="468.6" r="2.35"/><circle cx="211.9" cy="490.8" r="2.35"/><circle cx="210.1" cy="457.5" r="2.35"/><circle cx="200.7" cy="452.2" r="2.35"/><circle cx="193.3" cy="500.7" r="2.35"/><circle cx="192.1" cy="487.5" r="2.35"/><circle cx="218.3" cy="476.0" r="2.35"/><circle cx="191.8" cy="462.5" r="2.35"/><circle cx="236.9" cy="492.2" r="2.35"/><circle cx="211.0" cy="476.3" r="2.35"/><circle cx="192.3" cy="477.2" r="2.35"/><circle cx="193.0" cy="485.0" r="2.35"/><circle cx="194.6" cy="456.7" r="2.35"/><circle cx="202.5" cy="479.2" r="2.35"/><circle cx="196.5" cy="480.8" r="2.35"/><circle cx="192.4" cy="485.8" r="2.35"/><circle cx="192.8" cy="500.6" r="2.35"/><circle cx="204.8" cy="448.5" r="2.35"/><circle cx="207.4" cy="470.3" r="2.35"/><circle cx="190.7" cy="497.3" r="2.35"/><circle cx="201.1" cy="499.0" r="2.35"/><circle cx="210.9" cy="474.2" r="2.35"/><circle cx="193.0" cy="480.7" r="2.35"/><circle cx="203.0" cy="457.4" r="2.35"/><circle cx="215.0" cy="483.9" r="2.35"/><circle cx="217.1" cy="498.7" r="2.35"/><circle cx="203.1" cy="479.8" r="2.35"/><circle cx="205.0" cy="489.5" r="2.35"/><circle cx="193.1" cy="501.2" r="2.35"/><circle cx="193.4" cy="486.4" r="2.35"/><circle cx="197.0" cy="497.8" r="2.35"/><circle cx="199.6" cy="468.8" r="2.35"/><circle cx="221.0" cy="438.1" r="2.35"/><circle cx="191.0" cy="503.4" r="2.35"/><circle cx="231.4" cy="485.1" r="2.35"/><circle cx="197.3" cy="461.2" r="2.35"/><circle cx="201.6" cy="483.5" r="2.35"/><circle cx="227.9" cy="498.0" r="2.35"/><circle cx="227.9" cy="476.0" r="2.35"/><circle cx="191.3" cy="497.3" r="2.35"/><circle cx="215.1" cy="486.5" r="2.35"/><circle cx="219.6" cy="496.5" r="2.35"/><circle cx="192.9" cy="503.8" r="2.35"/><circle cx="197.3" cy="481.6" r="2.35"/><circle cx="227.6" cy="502.9" r="2.35"/><circle cx="229.2" cy="503.7" r="2.35"/><circle cx="191.7" cy="446.7" r="2.35"/><circle cx="218.9" cy="474.0" r="2.35"/><circle cx="198.3" cy="465.0" r="2.35"/><circle cx="205.1" cy="499.7" r="2.35"/><circle cx="194.4" cy="479.6" r="2.35"/><circle cx="193.5" cy="487.3" r="2.35"/><circle cx="205.3" cy="498.2" r="2.35"/><circle cx="194.8" cy="499.6" r="2.35"/><circle cx="195.3" cy="490.1" r="2.35"/><circle cx="214.7" cy="449.7" r="2.35"/><circle cx="191.8" cy="480.6" r="2.35"/><circle cx="190.5" cy="476.6" r="2.35"/><circle cx="192.6" cy="479.1" r="2.35"/><circle cx="219.6" cy="438.7" r="2.35"/><circle cx="200.5" cy="475.0" r="2.35"/><circle cx="208.1" cy="485.2" r="2.35"/><circle cx="205.0" cy="475.2" r="2.35"/><circle cx="196.9" cy="454.3" r="2.35"/><circle cx="190.8" cy="488.2" r="2.35"/><circle cx="211.1" cy="446.4" r="2.35"/><circle cx="220.3" cy="495.3" r="2.35"/><circle cx="221.2" cy="485.0" r="2.35"/><circle cx="218.7" cy="491.9" r="2.35"/><circle cx="198.0" cy="462.8" r="2.35"/><circle cx="191.6" cy="496.1" r="2.35"/><circle cx="230.0" cy="283.4" r="2.35"/><circle cx="197.8" cy="293.1" r="2.35"/><circle cx="234.6" cy="291.9" r="2.35"/><circle cx="208.4" cy="299.5" r="2.35"/><circle cx="232.3" cy="298.1" r="2.35"/><circle cx="238.7" cy="297.2" r="2.35"/><circle cx="235.2" cy="300.7" r="2.35"/><circle cx="229.1" cy="306.3" r="2.35"/><circle cx="233.5" cy="306.3" r="2.35"/><circle cx="234.6" cy="311.4" r="2.35"/><circle cx="219.7" cy="311.8" r="2.35"/><circle cx="213.0" cy="313.5" r="2.35"/><circle cx="217.5" cy="318.8" r="2.35"/><circle cx="293.9" cy="299.5" r="2.35"/><circle cx="273.5" cy="351.8" r="2.35"/><circle cx="281.1" cy="358.5" r="2.35"/><circle cx="304.8" cy="368.2" r="2.35"/><circle cx="295.3" cy="441.7" r="2.35"/><circle cx="307.9" cy="443.9" r="2.35"/><circle cx="291.7" cy="491.4" r="2.35"/><circle cx="213.0" cy="315.0" r="2.35"/><circle cx="217.5" cy="319.4" r="2.35"/><circle cx="229.4" cy="322.9" r="2.35"/><circle cx="229.0" cy="329.2" r="2.35"/><circle cx="210.9" cy="331.1" r="2.35"/><circle cx="221.2" cy="332.2" r="2.35"/><circle cx="256.5" cy="334.5" r="2.35"/><circle cx="204.9" cy="337.0" r="2.35"/><circle cx="218.5" cy="338.4" r="2.35"/><circle cx="228.4" cy="339.3" r="2.35"/><circle cx="238.1" cy="342.8" r="2.35"/><circle cx="210.7" cy="343.4" r="2.35"/><circle cx="231.5" cy="345.1" r="2.35"/><circle cx="227.3" cy="346.9" r="2.35"/><circle cx="209.8" cy="347.9" r="2.35"/><circle cx="253.3" cy="347.9" r="2.35"/><circle cx="246.7" cy="348.9" r="2.35"/><circle cx="211.9" cy="350.6" r="2.35"/><circle cx="236.4" cy="352.4" r="2.35"/><circle cx="204.9" cy="355.3" r="2.35"/><circle cx="211.3" cy="354.1" r="2.35"/><circle cx="207.2" cy="355.9" r="2.35"/><circle cx="234.6" cy="355.9" r="2.35"/><circle cx="245.1" cy="355.9" r="2.35"/><circle cx="207.2" cy="358.8" r="2.35"/><circle cx="231.5" cy="361.5" r="2.35"/><circle cx="230.0" cy="362.3" r="2.35"/><circle cx="246.3" cy="361.1" r="2.35"/><circle cx="250.8" cy="361.1" r="2.35"/><circle cx="204.6" cy="362.3" r="2.35"/><circle cx="207.5" cy="363.8" r="2.35"/><circle cx="214.5" cy="363.8" r="2.35"/><circle cx="260.1" cy="366.4" r="2.35"/><circle cx="246.9" cy="367.3" r="2.35"/><circle cx="220.0" cy="368.1" r="2.35"/><circle cx="223.5" cy="368.5" r="2.35"/><circle cx="229.1" cy="368.1" r="2.35"/><circle cx="234.4" cy="369.7" r="2.35"/><circle cx="215.6" cy="369.9" r="2.35"/><circle cx="239.3" cy="371.4" r="2.35"/><circle cx="203.7" cy="371.1" r="2.35"/><circle cx="201.4" cy="372.6" r="2.35"/><circle cx="213.6" cy="372.2" r="2.35"/><circle cx="217.1" cy="374.3" r="2.35"/><circle cx="233.5" cy="374.3" r="2.35"/><circle cx="244.3" cy="376.0" r="2.35"/><circle cx="249.0" cy="375.1" r="2.35"/><circle cx="210.5" cy="376.3" r="2.35"/><circle cx="249.0" cy="379.0" r="2.35"/><circle cx="257.1" cy="379.0" r="2.35"/><circle cx="254.8" cy="381.8" r="2.35"/><circle cx="209.5" cy="379.8" r="2.35"/><circle cx="207.8" cy="382.5" r="2.35"/><circle cx="228.8" cy="383.9" r="2.35"/><circle cx="244.6" cy="384.5" r="2.35"/><circle cx="263.8" cy="382.5" r="2.35"/><circle cx="210.7" cy="384.5" r="2.35"/><circle cx="248.4" cy="380.5" r="2.35"/><circle cx="255.2" cy="382.0" r="2.35"/><circle cx="257.1" cy="380.5" r="2.35"/><circle cx="264.9" cy="382.2" r="2.35"/><circle cx="234.9" cy="387.1" r="2.35"/><circle cx="244.4" cy="386.0" r="2.35"/><circle cx="236.3" cy="390.3" r="2.35"/><circle cx="241.4" cy="391.4" r="2.35"/><circle cx="255.5" cy="392.5" r="2.35"/><circle cx="273.4" cy="393.9" r="2.35"/><circle cx="284.3" cy="394.7" r="2.35"/><circle cx="233.3" cy="399.0" r="2.35"/><circle cx="239.2" cy="400.1" r="2.35"/><circle cx="244.7" cy="398.2" r="2.35"/><circle cx="239.8" cy="402.8" r="2.35"/><circle cx="255.5" cy="403.3" r="2.35"/><circle cx="260.4" cy="403.0" r="2.35"/><circle cx="279.4" cy="406.0" r="2.35"/><circle cx="281.9" cy="409.3" r="2.35"/><circle cx="234.9" cy="407.7" r="2.35"/><circle cx="231.1" cy="411.5" r="2.35"/><circle cx="234.3" cy="411.5" r="2.35"/><circle cx="258.8" cy="412.6" r="2.35"/><circle cx="259.3" cy="414.2" r="2.35"/><circle cx="240.6" cy="415.6" r="2.35"/><circle cx="233.3" cy="416.4" r="2.35"/><circle cx="253.3" cy="417.4" r="2.35"/><circle cx="273.2" cy="416.1" r="2.35"/><circle cx="263.4" cy="418.9" r="2.35"/><circle cx="268.9" cy="420.2" r="2.35"/><circle cx="230.9" cy="421.2" r="2.35"/><circle cx="239.6" cy="422.5" r="2.35"/><circle cx="256.0" cy="425.4" r="2.35"/><circle cx="267.4" cy="426.7" r="2.35"/><circle cx="247.4" cy="426.7" r="2.35"/><circle cx="234.9" cy="425.0" r="2.35"/><circle cx="238.1" cy="426.5" r="2.35"/><circle cx="240.9" cy="428.3" r="2.35"/><circle cx="253.3" cy="431.9" r="2.35"/><circle cx="231.1" cy="427.8" r="2.35"/><circle cx="237.4" cy="433.2" r="2.35"/><circle cx="233.8" cy="434.3" r="2.35"/><circle cx="246.8" cy="434.3" r="2.35"/><circle cx="244.1" cy="436.4" r="2.35"/><circle cx="252.2" cy="437.0" r="2.35"/><circle cx="265.3" cy="438.1" r="2.35"/><circle cx="277.8" cy="440.0" r="2.35"/><circle cx="243.6" cy="440.2" r="2.35"/><circle cx="247.4" cy="440.2" r="2.35"/><circle cx="256.0" cy="442.4" r="2.35"/><circle cx="262.0" cy="442.1" r="2.35"/><circle cx="240.6" cy="445.7" r="2.35"/><circle cx="246.3" cy="443.5" r="2.35"/><circle cx="250.1" cy="447.3" r="2.35"/><circle cx="258.8" cy="447.1" r="2.35"/><circle cx="266.9" cy="446.4" r="2.35"/><circle cx="233.8" cy="446.2" r="2.35"/><circle cx="263.6" cy="448.9" r="2.35"/><circle cx="250.6" cy="447.4" r="2.35"/><circle cx="263.6" cy="449.6" r="2.35"/><circle cx="242.5" cy="452.8" r="2.35"/><circle cx="246.3" cy="453.6" r="2.35"/><circle cx="249.5" cy="456.3" r="2.35"/><circle cx="252.8" cy="457.9" r="2.35"/><circle cx="255.5" cy="459.3" r="2.35"/><circle cx="265.3" cy="458.5" r="2.35"/><circle cx="265.3" cy="461.7" r="2.35"/><circle cx="260.4" cy="462.2" r="2.35"/><circle cx="262.6" cy="465.0" r="2.35"/><circle cx="255.5" cy="465.0" r="2.35"/><circle cx="250.1" cy="465.8" r="2.35"/><circle cx="270.2" cy="464.7" r="2.35"/><circle cx="252.2" cy="468.2" r="2.35"/><circle cx="258.4" cy="470.4" r="2.35"/><circle cx="238.7" cy="457.9" r="2.35"/><circle cx="239.2" cy="462.8" r="2.35"/><circle cx="241.9" cy="471.5" r="2.35"/><circle cx="247.9" cy="474.5" r="2.35"/><circle cx="252.2" cy="475.6" r="2.35"/><circle cx="250.1" cy="479.1" r="2.35"/><circle cx="283.2" cy="479.1" r="2.35"/><circle cx="284.3" cy="481.8" r="2.35"/><circle cx="240.9" cy="485.0" r="2.35"/><circle cx="244.7" cy="484.0" r="2.35"/><circle cx="249.5" cy="487.2" r="2.35"/><circle cx="253.9" cy="488.3" r="2.35"/><circle cx="274.0" cy="490.8" r="2.35"/><circle cx="264.5" cy="495.9" r="2.35"/><circle cx="245.2" cy="496.4" r="2.35"/><circle cx="240.9" cy="497.5" r="2.35"/><circle cx="244.7" cy="501.9" r="2.35"/><circle cx="203.6" cy="371.2" r="2.35"/><circle cx="214.7" cy="370.5" r="2.35"/><circle cx="210.4" cy="376.1" r="2.35"/><circle cx="217.2" cy="374.3" r="2.35"/><circle cx="209.1" cy="379.8" r="2.35"/><circle cx="207.9" cy="382.9" r="2.35"/><circle cx="211.0" cy="385.4" r="2.35"/><circle cx="206.0" cy="387.9" r="2.35"/><circle cx="198.6" cy="390.4" r="2.35"/><circle cx="201.1" cy="392.2" r="2.35"/><circle cx="205.4" cy="392.2" r="2.35"/><circle cx="210.4" cy="389.1" r="2.35"/><circle cx="212.9" cy="391.0" r="2.35"/><circle cx="215.3" cy="392.2" r="2.35"/><circle cx="209.8" cy="394.7" r="2.35"/><circle cx="211.6" cy="397.2" r="2.35"/><circle cx="214.7" cy="398.4" r="2.35"/><circle cx="218.4" cy="396.6" r="2.35"/><circle cx="221.6" cy="390.4" r="2.35"/><circle cx="228.4" cy="392.9" r="2.35"/><circle cx="220.9" cy="394.7" r="2.35"/><circle cx="225.3" cy="397.2" r="2.35"/><circle cx="189.9" cy="400.3" r="2.35"/><circle cx="192.4" cy="402.8" r="2.35"/><circle cx="200.5" cy="403.4" r="2.35"/><circle cx="206.0" cy="402.8" r="2.35"/><circle cx="210.4" cy="404.7" r="2.35"/><circle cx="216.0" cy="404.7" r="2.35"/><circle cx="221.6" cy="402.8" r="2.35"/><circle cx="225.3" cy="400.9" r="2.35"/><circle cx="223.4" cy="407.1" r="2.35"/><circle cx="212.9" cy="407.8" r="2.35"/><circle cx="207.9" cy="406.5" r="2.35"/><circle cx="217.2" cy="409.0" r="2.35"/><circle cx="219.1" cy="412.1" r="2.35"/><circle cx="196.1" cy="411.5" r="2.35"/><circle cx="204.2" cy="410.9" r="2.35"/><circle cx="206.7" cy="413.3" r="2.35"/><circle cx="210.4" cy="413.3" r="2.35"/><circle cx="214.1" cy="412.7" r="2.35"/><circle cx="204.2" cy="415.2" r="2.35"/><circle cx="208.5" cy="416.4" r="2.35"/><circle cx="212.9" cy="416.4" r="2.35"/><circle cx="217.2" cy="415.8" r="2.35"/><circle cx="225.3" cy="412.1" r="2.35"/><circle cx="230.9" cy="410.9" r="2.35"/><circle cx="233.3" cy="416.4" r="2.35"/><circle cx="201.1" cy="422.6" r="2.35"/><circle cx="206.7" cy="421.4" r="2.35"/><circle cx="209.8" cy="423.3" r="2.35"/><circle cx="214.1" cy="420.8" r="2.35"/><circle cx="220.9" cy="418.3" r="2.35"/><circle cx="222.2" cy="423.3" r="2.35"/><circle cx="225.9" cy="419.5" r="2.35"/><circle cx="229.6" cy="421.4" r="2.35"/><circle cx="239.5" cy="422.6" r="2.35"/><circle cx="194.9" cy="431.3" r="2.35"/><circle cx="198.6" cy="434.4" r="2.35"/><circle cx="203.6" cy="431.9" r="2.35"/><circle cx="206.7" cy="428.2" r="2.35"/><circle cx="211.0" cy="430.7" r="2.35"/><circle cx="215.3" cy="427.0" r="2.35"/><circle cx="219.7" cy="427.6" r="2.35"/><circle cx="223.4" cy="425.1" r="2.35"/><circle cx="226.5" cy="427.0" r="2.35"/><circle cx="231.5" cy="425.7" r="2.35"/><circle cx="234.6" cy="427.0" r="2.35"/><circle cx="201.7" cy="436.9" r="2.35"/><circle cx="208.5" cy="436.3" r="2.35"/><circle cx="213.5" cy="434.4" r="2.35"/><circle cx="217.2" cy="436.9" r="2.35"/><circle cx="223.4" cy="434.4" r="2.35"/><circle cx="229.6" cy="435.7" r="2.35"/><circle cx="195.5" cy="438.8" r="2.35"/><circle cx="232.1" cy="431.9" r="2.35"/><circle cx="237.1" cy="434.4" r="2.35"/><circle cx="253.2" cy="417.1" r="2.35"/><circle cx="255.7" cy="425.1" r="2.35"/></g>
<line x1="51.2" y1="504.1" x2="311" y2="504.1" stroke="#000" stroke-width="2" stroke-dasharray="2 4.6"/>
<text x="73.55" y="610.80" text-anchor="middle" font-size="10.7" fill="#111" stroke="#111" font-weight="normal" >&#8722;5</text>
<text x="181.55" y="610.80" text-anchor="middle" font-size="10.7" fill="#111" stroke="#111" font-weight="normal" >0</text>
<text x="289.55" y="610.80" text-anchor="middle" font-size="10.7" fill="#111" stroke="#111" font-weight="normal" >5</text>
<text x="181.6" y="627.6" text-anchor="middle" font-size="10.85" fill="#111" stroke="#111">Mean Log2FC (<tspan fill="#2020a0" stroke="#2020a0">sprouter</tspan> vs <tspan fill="#95951e" stroke="#95951e">non-sprouter</tspan>)</text>
<text x="9.00" y="424.50" text-anchor="middle" font-size="10.7" fill="#111" stroke="#111" font-weight="normal" transform="rotate(-90 9.0 424.5)">p-value</text>
<text x="64.20" y="248.00" text-anchor="start" font-size="10.7" fill="#95951e" stroke="#95951e" font-weight="normal" >UP in non-sprouter</text>
<text x="232.40" y="247.90" text-anchor="start" font-size="10.7" fill="#2020a0" stroke="#2020a0" font-weight="normal" >UP in sprouter</text>
<text x="57.00" y="522.80" text-anchor="start" font-size="10.7" fill="#111" stroke="#111" font-weight="normal" >p&lt;0.05</text>
<text x="104.00" y="278.70" text-anchor="start" font-size="10.7" fill="#111" stroke="#111" font-weight="normal" >DLL3</text>
<text x="74.30" y="327.50" text-anchor="start" font-size="10.7" fill="#111" stroke="#111" font-weight="normal" >SLC25A21</text>
<text x="98.20" y="351.00" text-anchor="start" font-size="10.7" fill="#111" stroke="#111" font-weight="normal" >SMUG1</text>
<text x="175.20" y="350.80" text-anchor="start" font-size="10.7" fill="#111" stroke="#111" font-weight="normal" >EZH2</text>
<text x="241.40" y="315.60" text-anchor="start" font-size="10.7" fill="#111" stroke="#111" font-weight="normal" >ACTN4</text>
<text x="300.20" y="303.60" text-anchor="start" font-size="10.7" fill="#111" stroke="#111" font-weight="normal" >ITGA3</text>
<text x="311.20" y="371.30" text-anchor="start" font-size="10.7" fill="#111" stroke="#111" font-weight="normal" >ANXA2</text>
<text x="276.60" y="385.30" text-anchor="start" font-size="10.7" fill="#111" stroke="#111" font-weight="normal" >CTNNB1</text>
<text x="286.00" y="409.60" text-anchor="start" font-size="10.7" fill="#111" stroke="#111" font-weight="normal" >EGFR</text>
<text x="295.30" y="438.30" text-anchor="start" font-size="10.7" fill="#111" stroke="#111" font-weight="normal" >HSPB1</text>
<text x="314.00" y="446.70" text-anchor="start" font-size="10.7" fill="#111" stroke="#111" font-weight="normal" >NQO1</text>
<text x="268.20" y="461.20" text-anchor="start" font-size="10.7" fill="#111" stroke="#111" font-weight="normal" >YAP1</text>
<text x="298.00" y="494.70" text-anchor="start" font-size="10.7" fill="#111" stroke="#111" font-weight="normal" >CAV1</text>
<text x="68.50" y="444.70" text-anchor="start" font-size="10.7" fill="#111" stroke="#111" font-weight="normal" >SYP</text>
<text x="121.00" y="438.60" text-anchor="start" font-size="10.7" fill="#111" stroke="#111" font-weight="normal" >NEUROD1</text>
<text x="84.60" y="470.00" text-anchor="start" font-size="10.7" fill="#111" stroke="#111" font-weight="normal" >NCAM1</text>
<text x="54.80" y="482.50" text-anchor="start" font-size="10.7" fill="#111" stroke="#111" font-weight="normal" >ARG2</text>
<text x="133.00" y="488.50" text-anchor="start" font-size="10.7" fill="#111" stroke="#111" font-weight="normal" >POU2F3</text>
<line x1="196.80" y1="351.80" x2="202.90" y2="368.50" stroke="#101070" stroke-width="1.25" />
<line x1="274.40" y1="384.40" x2="235.80" y2="409.60" stroke="#101070" stroke-width="1.25" />
<line x1="414.30" y1="263.30" x2="422.50" y2="263.30" stroke="#1a1a1a" stroke-width="1.2" />
<text x="408.90" y="267.10" text-anchor="end" font-size="10.7" fill="#111" stroke="#111" font-weight="normal" >GCSF</text>
<line x1="629.80" y1="263.50" x2="670.50" y2="263.50" stroke="#1a1a1a" stroke-width="1.15" />
<line x1="670.50" y1="261.30" x2="670.50" y2="265.70" stroke="#1a1a1a" stroke-width="1.3" />
<rect x="578.50" y="260.00" width="51.30" height="6.60" fill="#8fbdf6" stroke="#111" stroke-width="1.1"/>
<line x1="414.30" y1="276.13" x2="422.50" y2="276.13" stroke="#1a1a1a" stroke-width="1.2" />
<text x="408.90" y="279.93" text-anchor="end" font-size="10.7" fill="#111" stroke="#111" font-weight="normal" >HGF</text>
<line x1="624.50" y1="276.50" x2="664.70" y2="276.50" stroke="#1a1a1a" stroke-width="1.15" />
<line x1="664.70" y1="274.30" x2="664.70" y2="278.70" stroke="#1a1a1a" stroke-width="1.3" />
<rect x="578.50" y="272.83" width="46.00" height="6.60" fill="#8fbdf6" stroke="#111" stroke-width="1.1"/>
<line x1="414.30" y1="288.96" x2="422.50" y2="288.96" stroke="#1a1a1a" stroke-width="1.2" />
<text x="408.90" y="292.76" text-anchor="end" font-size="10.7" fill="#111" stroke="#111" font-weight="bold" >FGF-2</text>
<line x1="605.00" y1="288.50" x2="620.50" y2="288.50" stroke="#1a1a1a" stroke-width="1.15" />
<line x1="620.50" y1="286.30" x2="620.50" y2="290.70" stroke="#1a1a1a" stroke-width="1.3" />
<rect x="578.50" y="285.66" width="26.50" height="6.60" fill="#8fbdf6" stroke="#111" stroke-width="1.1"/>
<line x1="414.30" y1="301.79" x2="422.50" y2="301.79" stroke="#1a1a1a" stroke-width="1.2" />
<text x="408.90" y="305.59" text-anchor="end" font-size="10.7" fill="#111" stroke="#111" font-weight="normal" >PDGF-AA</text>
<line x1="604.60" y1="301.50" x2="627.40" y2="301.50" stroke="#1a1a1a" stroke-width="1.15" />
<line x1="627.40" y1="299.30" x2="627.40" y2="303.70" stroke="#1a1a1a" stroke-width="1.3" />
<rect x="578.50" y="298.49" width="26.10" height="6.60" fill="#8fbdf6" stroke="#111" stroke-width="1.1"/>
<line x1="414.30" y1="314.62" x2="422.50" y2="314.62" stroke="#1a1a1a" stroke-width="1.2" />
<text x="408.90" y="318.42" text-anchor="end" font-size="10.7" fill="#111" stroke="#111" font-weight="normal" >TGF-a</text>
<line x1="595.50" y1="314.50" x2="607.50" y2="314.50" stroke="#1a1a1a" stroke-width="1.15" />
<line x1="607.50" y1="312.30" x2="607.50" y2="316.70" stroke="#1a1a1a" stroke-width="1.3" />
<rect x="578.50" y="311.32" width="17.00" height="6.60" fill="#8fbdf6" stroke="#111" stroke-width="1.1"/>
<line x1="414.30" y1="327.45" x2="422.50" y2="327.45" stroke="#1a1a1a" stroke-width="1.2" />
<text x="408.90" y="331.25" text-anchor="end" font-size="10.7" fill="#111" stroke="#111" font-weight="normal" >TGF-&#946;2</text>
<line x1="593.90" y1="327.50" x2="611.90" y2="327.50" stroke="#1a1a1a" stroke-width="1.15" />
<line x1="611.90" y1="325.30" x2="611.90" y2="329.70" stroke="#1a1a1a" stroke-width="1.3" />
<rect x="578.50" y="324.15" width="15.40" height="6.60" fill="#8fbdf6" stroke="#111" stroke-width="1.1"/>
<line x1="414.30" y1="340.28" x2="422.50" y2="340.28" stroke="#1a1a1a" stroke-width="1.2" />
<text x="408.90" y="344.08" text-anchor="end" font-size="10.7" fill="#111" stroke="#111" font-weight="normal" >GDNF</text>
<line x1="592.60" y1="340.50" x2="613.70" y2="340.50" stroke="#1a1a1a" stroke-width="1.15" />
<line x1="613.70" y1="338.30" x2="613.70" y2="342.70" stroke="#1a1a1a" stroke-width="1.3" />
<rect x="578.50" y="336.98" width="14.10" height="6.60" fill="#8fbdf6" stroke="#111" stroke-width="1.1"/>
<line x1="414.30" y1="353.11" x2="422.50" y2="353.11" stroke="#1a1a1a" stroke-width="1.2" />
<text x="408.90" y="356.91" text-anchor="end" font-size="10.7" fill="#111" stroke="#111" font-weight="bold" >FGF-4</text>
<line x1="590.50" y1="353.50" x2="600.90" y2="353.50" stroke="#1a1a1a" stroke-width="1.15" />
<line x1="600.90" y1="351.30" x2="600.90" y2="355.70" stroke="#1a1a1a" stroke-width="1.3" />
<rect x="578.50" y="349.81" width="12.00" height="6.60" fill="#8fbdf6" stroke="#111" stroke-width="1.1"/>
<line x1="414.30" y1="365.94" x2="422.50" y2="365.94" stroke="#1a1a1a" stroke-width="1.2" />
<text x="408.90" y="369.74" text-anchor="end" font-size="10.7" fill="#111" stroke="#111" font-weight="bold" >FGF-6</text>
<line x1="587.60" y1="365.50" x2="599.80" y2="365.50" stroke="#1a1a1a" stroke-width="1.15" />
<line x1="599.80" y1="363.30" x2="599.80" y2="367.70" stroke="#1a1a1a" stroke-width="1.3" />
<rect x="578.50" y="362.64" width="9.10" height="6.60" fill="#8fbdf6" stroke="#111" stroke-width="1.1"/>
<line x1="414.30" y1="378.77" x2="422.50" y2="378.77" stroke="#1a1a1a" stroke-width="1.2" />
<text x="408.90" y="382.57" text-anchor="end" font-size="10.7" fill="#111" stroke="#111" font-weight="normal" >b-NGF</text>
<line x1="582.80" y1="378.50" x2="588.80" y2="378.50" stroke="#1a1a1a" stroke-width="1.15" />
<line x1="588.80" y1="376.30" x2="588.80" y2="380.70" stroke="#1a1a1a" stroke-width="1.3" />
<rect x="578.50" y="375.47" width="4.30" height="6.60" fill="#8fbdf6" stroke="#111" stroke-width="1.1"/>
<line x1="414.30" y1="391.60" x2="422.50" y2="391.60" stroke="#1a1a1a" stroke-width="1.2" />
<text x="408.90" y="395.40" text-anchor="end" font-size="10.7" fill="#111" stroke="#111" font-weight="normal" >HB-EGF</text>
<line x1="582.80" y1="391.50" x2="615.70" y2="391.50" stroke="#1a1a1a" stroke-width="1.15" />
<line x1="615.70" y1="389.30" x2="615.70" y2="393.70" stroke="#1a1a1a" stroke-width="1.3" />
<rect x="578.50" y="388.30" width="4.30" height="6.60" fill="#8fbdf6" stroke="#111" stroke-width="1.1"/>
<line x1="414.30" y1="404.43" x2="422.50" y2="404.43" stroke="#1a1a1a" stroke-width="1.2" />
<text x="408.90" y="408.23" text-anchor="end" font-size="10.7" fill="#111" stroke="#111" font-weight="normal" >EGF</text>
<line x1="577.90" y1="404.50" x2="582.40" y2="404.50" stroke="#1a1a1a" stroke-width="1.15" />
<line x1="582.40" y1="402.30" x2="582.40" y2="406.70" stroke="#1a1a1a" stroke-width="1.3" />
<rect x="577.90" y="401.13" width="0.60" height="6.60" fill="#ebe77c" stroke="#111" stroke-width="1.1"/>
<line x1="414.30" y1="417.26" x2="422.50" y2="417.26" stroke="#1a1a1a" stroke-width="1.2" />
<text x="408.90" y="421.06" text-anchor="end" font-size="10.7" fill="#111" stroke="#111" font-weight="normal" >TGF-&#946;3</text>
<line x1="576.20" y1="417.50" x2="558.70" y2="417.50" stroke="#1a1a1a" stroke-width="1.15" />
<line x1="558.70" y1="415.30" x2="558.70" y2="419.70" stroke="#1a1a1a" stroke-width="1.3" />
<rect x="576.20" y="413.96" width="2.30" height="6.60" fill="#ebe77c" stroke="#111" stroke-width="1.1"/>
<line x1="414.30" y1="430.09" x2="422.50" y2="430.09" stroke="#1a1a1a" stroke-width="1.2" />
<text x="408.90" y="433.89" text-anchor="end" font-size="10.7" fill="#111" stroke="#111" font-weight="normal" >M-CSF</text>
<line x1="575.20" y1="430.50" x2="532.00" y2="430.50" stroke="#1a1a1a" stroke-width="1.15" />
<line x1="532.00" y1="428.30" x2="532.00" y2="432.70" stroke="#1a1a1a" stroke-width="1.3" />
<rect x="575.20" y="426.79" width="3.30" height="6.60" fill="#ebe77c" stroke="#111" stroke-width="1.1"/>
<line x1="414.30" y1="442.92" x2="422.50" y2="442.92" stroke="#1a1a1a" stroke-width="1.2" />
<text x="408.90" y="446.72" text-anchor="end" font-size="10.7" fill="#111" stroke="#111" font-weight="normal" >VEGF-D</text>
<line x1="572.30" y1="442.50" x2="557.80" y2="442.50" stroke="#1a1a1a" stroke-width="1.15" />
<line x1="557.80" y1="440.30" x2="557.80" y2="444.70" stroke="#1a1a1a" stroke-width="1.3" />
<rect x="572.30" y="439.62" width="6.20" height="6.60" fill="#ebe77c" stroke="#111" stroke-width="1.1"/>
<line x1="414.30" y1="455.75" x2="422.50" y2="455.75" stroke="#1a1a1a" stroke-width="1.2" />
<text x="408.90" y="459.55" text-anchor="end" font-size="10.7" fill="#111" stroke="#111" font-weight="normal" >TGF-&#946;</text>
<line x1="564.80" y1="455.50" x2="553.90" y2="455.50" stroke="#1a1a1a" stroke-width="1.15" />
<line x1="553.90" y1="453.30" x2="553.90" y2="457.70" stroke="#1a1a1a" stroke-width="1.3" />
<rect x="564.80" y="452.45" width="13.70" height="6.60" fill="#ebe77c" stroke="#111" stroke-width="1.1"/>
<line x1="414.30" y1="468.58" x2="422.50" y2="468.58" stroke="#1a1a1a" stroke-width="1.2" />
<text x="408.90" y="472.38" text-anchor="end" font-size="10.7" fill="#111" stroke="#111" font-weight="normal" >IGF-I</text>
<line x1="561.10" y1="468.50" x2="540.40" y2="468.50" stroke="#1a1a1a" stroke-width="1.15" />
<line x1="540.40" y1="466.30" x2="540.40" y2="470.70" stroke="#1a1a1a" stroke-width="1.3" />
<rect x="561.10" y="465.28" width="17.40" height="6.60" fill="#ebe77c" stroke="#111" stroke-width="1.1"/>
<line x1="414.30" y1="481.41" x2="422.50" y2="481.41" stroke="#1a1a1a" stroke-width="1.2" />
<text x="408.90" y="485.21" text-anchor="end" font-size="10.7" fill="#111" stroke="#111" font-weight="normal" >IGF-II</text>
<line x1="559.50" y1="481.50" x2="504.90" y2="481.50" stroke="#1a1a1a" stroke-width="1.15" />
<line x1="504.90" y1="479.30" x2="504.90" y2="483.70" stroke="#1a1a1a" stroke-width="1.3" />
<rect x="559.50" y="478.11" width="19.00" height="6.60" fill="#ebe77c" stroke="#111" stroke-width="1.1"/>
<line x1="414.30" y1="494.24" x2="422.50" y2="494.24" stroke="#1a1a1a" stroke-width="1.2" />
<text x="408.90" y="498.04" text-anchor="end" font-size="10.7" fill="#111" stroke="#111" font-weight="normal" >GM-CSF</text>
<line x1="557.70" y1="494.50" x2="528.10" y2="494.50" stroke="#1a1a1a" stroke-width="1.15" />
<line x1="528.10" y1="492.30" x2="528.10" y2="496.70" stroke="#1a1a1a" stroke-width="1.3" />
<rect x="557.70" y="490.94" width="20.80" height="6.60" fill="#ebe77c" stroke="#111" stroke-width="1.1"/>
<line x1="414.30" y1="507.07" x2="422.50" y2="507.07" stroke="#1a1a1a" stroke-width="1.2" />
<text x="408.90" y="510.87" text-anchor="end" font-size="10.7" fill="#111" stroke="#111" font-weight="normal" >PDGF-BB</text>
<line x1="550.50" y1="507.50" x2="500.00" y2="507.50" stroke="#1a1a1a" stroke-width="1.15" />
<line x1="500.00" y1="505.30" x2="500.00" y2="509.70" stroke="#1a1a1a" stroke-width="1.3" />
<rect x="550.50" y="503.77" width="28.00" height="6.60" fill="#ebe77c" stroke="#111" stroke-width="1.1"/>
<line x1="414.30" y1="519.90" x2="422.50" y2="519.90" stroke="#1a1a1a" stroke-width="1.2" />
<text x="408.90" y="523.70" text-anchor="end" font-size="10.7" fill="#111" stroke="#111" font-weight="normal" >NT-4</text>
<line x1="550.50" y1="519.50" x2="497.30" y2="519.50" stroke="#1a1a1a" stroke-width="1.15" />
<line x1="497.30" y1="517.30" x2="497.30" y2="521.70" stroke="#1a1a1a" stroke-width="1.3" />
<rect x="550.50" y="516.60" width="28.00" height="6.60" fill="#ebe77c" stroke="#111" stroke-width="1.1"/>
<line x1="414.30" y1="532.73" x2="422.50" y2="532.73" stroke="#1a1a1a" stroke-width="1.2" />
<text x="408.90" y="536.53" text-anchor="end" font-size="10.7" fill="#111" stroke="#111" font-weight="bold" >FGF-7</text>
<line x1="549.40" y1="532.50" x2="520.60" y2="532.50" stroke="#1a1a1a" stroke-width="1.15" />
<line x1="520.60" y1="530.30" x2="520.60" y2="534.70" stroke="#1a1a1a" stroke-width="1.3" />
<rect x="549.40" y="529.43" width="29.10" height="6.60" fill="#ebe77c" stroke="#111" stroke-width="1.1"/>
<line x1="414.30" y1="545.56" x2="422.50" y2="545.56" stroke="#1a1a1a" stroke-width="1.2" />
<text x="408.90" y="549.36" text-anchor="end" font-size="10.7" fill="#111" stroke="#111" font-weight="normal" >NT-3</text>
<line x1="545.60" y1="545.50" x2="486.00" y2="545.50" stroke="#1a1a1a" stroke-width="1.15" />
<line x1="486.00" y1="543.30" x2="486.00" y2="547.70" stroke="#1a1a1a" stroke-width="1.3" />
<rect x="545.60" y="542.26" width="32.90" height="6.60" fill="#ebe77c" stroke="#111" stroke-width="1.1"/>
<line x1="414.30" y1="558.39" x2="422.50" y2="558.39" stroke="#1a1a1a" stroke-width="1.2" />
<text x="408.90" y="562.19" text-anchor="end" font-size="10.7" fill="#111" stroke="#111" font-weight="normal" >SCF</text>
<line x1="544.30" y1="558.50" x2="498.40" y2="558.50" stroke="#1a1a1a" stroke-width="1.15" />
<line x1="498.40" y1="556.30" x2="498.40" y2="560.70" stroke="#1a1a1a" stroke-width="1.3" />
<rect x="544.30" y="555.09" width="34.20" height="6.60" fill="#ebe77c" stroke="#111" stroke-width="1.1"/>
<line x1="414.30" y1="571.22" x2="422.50" y2="571.22" stroke="#1a1a1a" stroke-width="1.2" />
<text x="408.90" y="575.02" text-anchor="end" font-size="10.7" fill="#111" stroke="#111" font-weight="normal" >VEGF</text>
<line x1="540.90" y1="571.50" x2="514.60" y2="571.50" stroke="#1a1a1a" stroke-width="1.15" />
<line x1="514.60" y1="569.30" x2="514.60" y2="573.70" stroke="#1a1a1a" stroke-width="1.3" />
<rect x="540.90" y="567.92" width="37.60" height="6.60" fill="#ebe77c" stroke="#111" stroke-width="1.1"/>
<line x1="414.30" y1="584.05" x2="422.50" y2="584.05" stroke="#1a1a1a" stroke-width="1.2" />
<text x="408.90" y="587.85" text-anchor="end" font-size="10.7" fill="#111" stroke="#111" font-weight="normal" >PDGF-AB</text>
<line x1="522.40" y1="584.50" x2="454.10" y2="584.50" stroke="#1a1a1a" stroke-width="1.15" />
<line x1="454.10" y1="582.30" x2="454.10" y2="586.70" stroke="#1a1a1a" stroke-width="1.3" />
<rect x="522.40" y="580.75" width="56.10" height="6.60" fill="#ebe77c" stroke="#111" stroke-width="1.1"/>
<line x1="414.30" y1="596.88" x2="422.50" y2="596.88" stroke="#1a1a1a" stroke-width="1.2" />
<text x="408.90" y="600.68" text-anchor="end" font-size="10.7" fill="#111" stroke="#111" font-weight="normal" >PIGF</text>
<line x1="520.60" y1="596.50" x2="477.50" y2="596.50" stroke="#1a1a1a" stroke-width="1.15" />
<line x1="477.50" y1="594.30" x2="477.50" y2="598.70" stroke="#1a1a1a" stroke-width="1.3" />
<rect x="520.60" y="593.58" width="57.90" height="6.60" fill="#ebe77c" stroke="#111" stroke-width="1.1"/>
<rect x="422.50" y="254.80" width="260.00" height="350.40" fill="none" stroke="#1a1a1a" stroke-width="1.2"/>
<line x1="578.50" y1="254.80" x2="578.50" y2="605.20" stroke="#1a1a1a" stroke-width="1.1" />
<line x1="422.50" y1="605.20" x2="422.50" y2="613.20" stroke="#1a1a1a" stroke-width="1.2" />
<text x="422.50" y="626.30" text-anchor="middle" font-size="10.7" fill="#111" stroke="#111" font-weight="normal" >&#8722;3</text>
<line x1="448.50" y1="605.20" x2="448.50" y2="609.50" stroke="#1a1a1a" stroke-width="1.2" />
<line x1="474.50" y1="605.20" x2="474.50" y2="613.20" stroke="#1a1a1a" stroke-width="1.2" />
<text x="474.50" y="626.30" text-anchor="middle" font-size="10.7" fill="#111" stroke="#111" font-weight="normal" >&#8722;2</text>
<line x1="500.50" y1="605.20" x2="500.50" y2="609.50" stroke="#1a1a1a" stroke-width="1.2" />
<line x1="526.50" y1="605.20" x2="526.50" y2="613.20" stroke="#1a1a1a" stroke-width="1.2" />
<text x="526.50" y="626.30" text-anchor="middle" font-size="10.7" fill="#111" stroke="#111" font-weight="normal" >&#8722;1</text>
<line x1="552.50" y1="605.20" x2="552.50" y2="609.50" stroke="#1a1a1a" stroke-width="1.2" />
<line x1="578.50" y1="605.20" x2="578.50" y2="613.20" stroke="#1a1a1a" stroke-width="1.2" />
<text x="578.50" y="626.30" text-anchor="middle" font-size="10.7" fill="#111" stroke="#111" font-weight="normal" >0</text>
<line x1="604.50" y1="605.20" x2="604.50" y2="609.50" stroke="#1a1a1a" stroke-width="1.2" />
<line x1="630.50" y1="605.20" x2="630.50" y2="613.20" stroke="#1a1a1a" stroke-width="1.2" />
<text x="630.50" y="626.30" text-anchor="middle" font-size="10.7" fill="#111" stroke="#111" font-weight="normal" >1</text>
<line x1="656.50" y1="605.20" x2="656.50" y2="609.50" stroke="#1a1a1a" stroke-width="1.2" />
<line x1="682.50" y1="605.20" x2="682.50" y2="613.20" stroke="#1a1a1a" stroke-width="1.2" />
<text x="682.50" y="626.30" text-anchor="middle" font-size="10.7" fill="#111" stroke="#111" font-weight="normal" >2</text>
<text x="552.50" y="640.00" text-anchor="middle" font-size="10.7" fill="#111" stroke="#111" font-weight="normal" >log2FC</text>
<text x="552.30" y="248.60" text-anchor="middle" font-size="10.75" fill="#111" stroke="#111" font-weight="normal" >Growth factor secretion</text>
<text x="476.00" y="401.90" text-anchor="middle" font-size="10.7" fill="#95951e" stroke="#95951e" font-weight="normal" >UP in</text>
<text x="475.80" y="415.00" text-anchor="middle" font-size="10.7" fill="#95951e" stroke="#95951e" font-weight="normal" >non-sprouter</text>
<text x="630.70" y="429.20" text-anchor="middle" font-size="10.7" fill="#2020a0" stroke="#2020a0" font-weight="normal" >UP in</text>
<text x="630.50" y="442.30" text-anchor="middle" font-size="10.7" fill="#2020a0" stroke="#2020a0" font-weight="normal" >sprouter</text>
</svg>
</body></html>
